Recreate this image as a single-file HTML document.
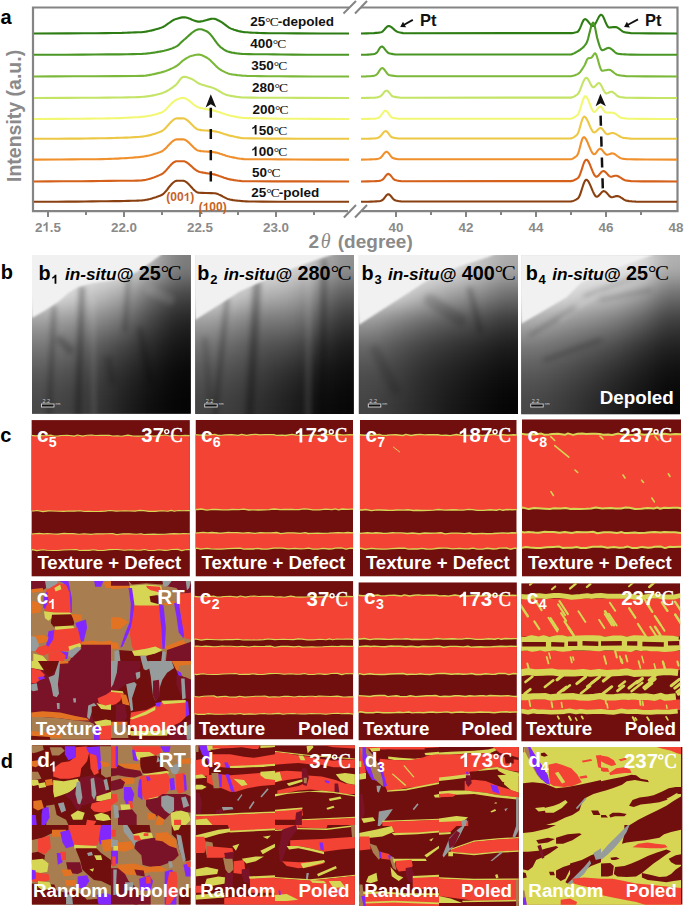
<!DOCTYPE html>
<html><head><meta charset="utf-8"><style>
*{margin:0;padding:0}
html,body{width:685px;height:906px;background:#fff;overflow:hidden}
svg{position:absolute;left:0;top:0}
text{font-family:"Liberation Sans",sans-serif}
.tl{font-size:13.4px;font-weight:bold;fill:#8a8a8a;text-anchor:middle}
.lab{font-size:13.5px;font-weight:bold;fill:#111}
.deg{font-family:"Liberation Serif",serif;font-weight:normal;letter-spacing:-1px}
.pt{font-size:16.5px;font-weight:bold;fill:#111}
.hkl{font-size:12px;font-weight:bold;fill:#c8621f}
.xt{font-size:19px;font-weight:bold;fill:#8a8a8a}
.th{font-family:"Liberation Serif",serif;font-style:italic;font-weight:normal;font-size:20px}
.yt{font-size:19.5px;font-weight:bold;fill:#8a8a8a}
.pl{font-size:20px;font-weight:bold;fill:#000}

.bl{font-size:19.8px;font-weight:bold;fill:#000}
.bsub{font-size:13px}
.bit{font-size:17.2px;font-style:italic}
.deg2{font-family:"Liberation Serif",serif;font-weight:normal;font-size:21px;letter-spacing:-1.5px}
.wl{font-size:18.8px;font-weight:bold;fill:#fff}
.wsub{font-size:12.5px}
.deg3{font-family:"Liberation Serif",serif;font-weight:normal;font-size:19px;letter-spacing:-1.5px}
</style></head>
<body>
<svg width="685" height="906" viewBox="0 0 685 906">
<defs><filter id="blur1" x="-5%" y="-5%" width="110%" height="110%" color-interpolation-filters="sRGB"><feGaussianBlur stdDeviation="0.8"/></filter><filter id="blur3" x="-50%" y="-50%" width="200%" height="200%"><feGaussianBlur stdDeviation="3"/></filter><clipPath id="cpb1"><rect x="32" y="255" width="158.8" height="158.8"/></clipPath><clipPath id="cpb2"><rect x="195.2" y="255" width="158.6" height="159.0"/></clipPath><clipPath id="cpb3"><rect x="358.8" y="255" width="159.2" height="159.0"/></clipPath><clipPath id="cpb4"><rect x="521.2" y="255.3" width="158.8" height="158.9"/></clipPath><clipPath id="cpc5"><rect x="31.4" y="420.1" width="158.5" height="156.5"/></clipPath><clipPath id="cpc6"><rect x="195.5" y="420" width="157.6" height="156.6"/></clipPath><clipPath id="cpc7"><rect x="359.9" y="420" width="156.8" height="156.6"/></clipPath><clipPath id="cpc8"><rect x="521.9" y="419.3" width="159.1" height="157.3"/></clipPath><clipPath id="cpc1"><rect x="31.2" y="581" width="159.8" height="158.7"/></clipPath><clipPath id="cpc2"><rect x="194.3" y="581.1" width="159.0" height="158.5"/></clipPath><clipPath id="cpc3"><rect x="358.4" y="582.3" width="158.5" height="158.1"/></clipPath><clipPath id="cpc4"><rect x="521.2" y="583.2" width="159.0" height="158.4"/></clipPath><clipPath id="cpd1"><rect x="31.9" y="745.3" width="158.6" height="159.2"/></clipPath><clipPath id="cpd2"><rect x="195.7" y="745.5" width="159.2" height="159.0"/></clipPath><clipPath id="cpd3"><rect x="359.3" y="747.1" width="159.4" height="158.9"/></clipPath><clipPath id="cpd4"><rect x="523" y="746.9" width="159.6" height="157.8"/></clipPath><filter id="tblur" filterUnits="userSpaceOnUse" x="0" y="240" width="685" height="190" color-interpolation-filters="sRGB"><feGaussianBlur stdDeviation="2.5"/></filter><filter id="bblur" x="-20%" y="-20%" width="140%" height="140%" color-interpolation-filters="sRGB"><feGaussianBlur stdDeviation="11"/></filter></defs>
<path d="M349,7.5 H33 V211.2 H348" fill="none" stroke="#848484" stroke-width="2.2"/>
<path d="M361,7.5 H677.5 V211.2 H362" fill="none" stroke="#848484" stroke-width="2.2"/>
<line x1="343.5" y1="13.5" x2="356" y2="1" stroke="#848484" stroke-width="2"/>
<line x1="355" y1="13.5" x2="367" y2="1" stroke="#848484" stroke-width="2"/>
<line x1="343.9" y1="217.5" x2="356" y2="205" stroke="#848484" stroke-width="2"/>
<line x1="355" y1="217.5" x2="367" y2="205" stroke="#848484" stroke-width="2"/>
<line x1="48.0" y1="211" x2="48.0" y2="217" stroke="#848484" stroke-width="2"/>
<line x1="124.0" y1="211" x2="124.0" y2="217" stroke="#848484" stroke-width="2"/>
<line x1="200.0" y1="211" x2="200.0" y2="217" stroke="#848484" stroke-width="2"/>
<line x1="276.0" y1="211" x2="276.0" y2="217" stroke="#848484" stroke-width="2"/>
<line x1="86.0" y1="211" x2="86.0" y2="215" stroke="#848484" stroke-width="2"/>
<line x1="162.0" y1="211" x2="162.0" y2="215" stroke="#848484" stroke-width="2"/>
<line x1="238.0" y1="211" x2="238.0" y2="215" stroke="#848484" stroke-width="2"/>
<line x1="314.0" y1="211" x2="314.0" y2="215" stroke="#848484" stroke-width="2"/>
<line x1="396.0" y1="211" x2="396.0" y2="217" stroke="#848484" stroke-width="2"/>
<line x1="466.0" y1="211" x2="466.0" y2="217" stroke="#848484" stroke-width="2"/>
<line x1="536.0" y1="211" x2="536.0" y2="217" stroke="#848484" stroke-width="2"/>
<line x1="606.0" y1="211" x2="606.0" y2="217" stroke="#848484" stroke-width="2"/>
<line x1="431.0" y1="211" x2="431.0" y2="215" stroke="#848484" stroke-width="2"/>
<line x1="501.0" y1="211" x2="501.0" y2="215" stroke="#848484" stroke-width="2"/>
<line x1="571.0" y1="211" x2="571.0" y2="215" stroke="#848484" stroke-width="2"/>
<line x1="641.0" y1="211" x2="641.0" y2="215" stroke="#848484" stroke-width="2"/>
<text x="34.96" y="231.5"  style="font-size:13.4px;font-weight:bold;fill:#8a8a8a">2 .5</text><path d="M800,0H520V1010Q360,870 150,800V1050Q270,1090 400,1190Q520,1290 560,1429H800Z" transform="translate(42.41,231.50) scale(0.00654,-0.00654)" fill="#8a8a8a"/>
<text x="124.0" y="231.5" class="tl">22.0</text>
<text x="200.0" y="231.5" class="tl">22.5</text>
<text x="276.0" y="231.5" class="tl">23.0</text>
<text x="396.0" y="231.5" class="tl">40</text>
<text x="466.0" y="231.5" class="tl">42</text>
<text x="536.0" y="231.5" class="tl">44</text>
<text x="606.0" y="231.5" class="tl">46</text>
<text x="676.0" y="231.5" class="tl">48</text>
<polyline points="34.0,33.5 68.0,33.4 84.0,33.3 96.0,33.2 106.0,33.1 113.0,33.0 118.0,33.0 122.0,32.9 126.0,32.7 129.0,32.6 132.0,32.5 135.0,32.4 138.0,32.3 140.0,32.2 142.0,32.1 143.0,32.0 144.0,31.9 145.0,31.7 146.0,31.6 147.0,31.4 148.0,31.2 149.0,31.0 150.0,30.8 151.0,30.6 152.0,30.4 153.0,30.1 154.0,29.9 155.0,29.6 156.0,29.3 157.0,29.0 158.0,28.7 159.0,28.4 160.0,28.1 161.0,27.8 162.0,27.4 163.0,27.0 164.0,26.4 165.0,25.8 166.0,25.1 167.0,24.4 168.0,23.7 169.0,23.0 170.0,22.3 171.0,21.6 172.0,20.9 173.0,20.3 174.0,19.8 175.0,19.4 176.0,19.0 177.0,18.7 178.0,18.4 179.0,18.1 180.0,17.9 181.0,17.6 182.0,17.4 183.0,17.3 185.0,17.4 186.0,17.5 187.0,17.8 188.0,18.1 189.0,18.4 190.0,18.8 191.0,19.2 192.0,19.7 193.0,20.1 194.0,20.5 195.0,20.9 196.0,21.1 197.0,21.4 198.0,21.6 200.0,21.6 201.0,21.4 202.0,21.3 203.0,21.1 204.0,20.8 205.0,20.5 206.0,20.2 207.0,19.9 208.0,19.6 209.0,19.4 210.0,19.1 211.0,18.9 212.0,18.8 213.0,18.7 214.0,18.7 215.0,18.9 216.0,19.2 217.0,19.7 218.0,20.2 219.0,20.7 220.0,21.3 221.0,21.8 222.0,22.4 223.0,23.1 224.0,23.9 225.0,24.6 226.0,25.4 227.0,26.2 228.0,26.9 229.0,27.6 230.0,28.1 231.0,28.6 232.0,29.0 233.0,29.3 234.0,29.7 235.0,30.0 236.0,30.4 237.0,30.6 238.0,30.9 239.0,31.2 240.0,31.4 241.0,31.6 242.0,31.8 243.0,32.0 244.0,32.1 245.0,32.2 247.0,32.3 249.0,32.5 251.0,32.6 253.0,32.7 255.0,32.8 257.0,32.9 260.0,33.0 264.0,33.1 270.0,33.2 282.0,33.3 297.0,33.4 322.0,33.5 349.0,33.5" fill="none" stroke="#2e7d14" stroke-width="2.1" stroke-linejoin="round"/>
<polyline points="361.0,33.5 367.0,33.4 370.0,33.3 372.0,33.2 374.0,33.1 376.0,32.9 377.0,32.9 378.0,32.7 379.0,32.6 380.0,32.5 381.0,32.3 382.0,31.9 383.0,31.1 384.0,30.1 385.0,28.8 386.0,27.7 387.0,26.7 388.0,26.1 389.0,26.0 390.0,26.3 391.0,26.9 392.0,27.6 393.0,28.5 394.0,29.4 395.0,30.3 396.0,31.0 397.0,31.6 398.0,32.0 399.0,32.3 400.0,32.5 401.0,32.7 402.0,32.9 403.0,33.1 404.0,33.2 572.0,33.1 573.0,33.0 574.0,32.8 575.0,32.5 576.0,32.3 577.0,32.0 578.0,31.5 579.0,30.2 580.0,28.1 581.0,25.8 582.0,23.3 583.0,21.2 584.0,19.7 585.0,19.1 586.0,19.4 587.0,20.2 588.0,21.3 589.0,22.6 590.0,23.9 591.0,25.0 592.0,25.8 593.0,26.1 594.0,25.6 595.0,24.4 596.0,22.6 597.0,20.6 598.0,18.6 599.0,16.7 600.0,15.4 601.0,14.7 602.0,15.1 603.0,16.4 604.0,18.5 605.0,20.9 606.0,23.3 607.0,25.4 608.0,26.9 609.0,27.5 610.0,27.5 611.0,27.4 612.0,27.3 613.0,27.1 614.0,27.1 615.0,27.0 616.0,27.1 617.0,27.4 618.0,28.0 619.0,28.7 620.0,29.4 621.0,30.2 622.0,31.0 623.0,31.6 624.0,32.1 625.0,32.3 626.0,32.5 627.0,32.6 628.0,32.8 629.0,32.9 630.0,33.0 631.0,33.1 633.0,33.2 638.0,33.3 649.0,33.4 677.0,33.5" fill="none" stroke="#2e7d14" stroke-width="2.1" stroke-linejoin="round"/>
<polyline points="34.0,54.8 66.0,54.7 82.0,54.6 95.0,54.5 108.0,54.4 119.0,54.4 127.0,54.2 133.0,54.1 138.0,54.0 142.0,53.9 144.0,53.8 145.0,53.7 146.0,53.6 147.0,53.5 148.0,53.4 149.0,53.3 150.0,53.2 151.0,53.0 152.0,52.9 153.0,52.8 154.0,52.6 155.0,52.5 156.0,52.3 157.0,52.1 158.0,51.9 159.0,51.8 160.0,51.6 161.0,51.4 162.0,51.2 163.0,51.0 164.0,50.8 165.0,50.5 166.0,50.3 167.0,50.0 168.0,49.7 169.0,49.4 170.0,49.1 171.0,48.7 172.0,48.4 173.0,48.0 174.0,47.5 175.0,47.1 176.0,46.6 177.0,46.1 178.0,45.4 179.0,44.6 180.0,43.6 181.0,42.6 182.0,41.6 183.0,40.7 184.0,39.8 185.0,39.0 186.0,38.1 187.0,37.2 188.0,36.3 189.0,35.4 190.0,34.5 191.0,33.6 192.0,32.8 193.0,32.0 194.0,31.3 195.0,30.7 196.0,30.1 197.0,29.7 198.0,29.4 199.0,29.2 200.0,29.2 201.0,29.3 202.0,29.5 203.0,29.8 204.0,30.2 205.0,30.6 206.0,31.0 207.0,31.5 208.0,32.1 209.0,33.0 210.0,34.0 211.0,35.1 212.0,36.4 213.0,37.7 214.0,39.1 215.0,40.5 216.0,41.8 217.0,43.2 218.0,44.5 219.0,45.6 220.0,46.6 221.0,47.5 222.0,48.2 223.0,48.9 224.0,49.6 225.0,50.2 226.0,50.7 227.0,51.2 228.0,51.6 229.0,51.9 230.0,52.1 231.0,52.4 232.0,52.6 233.0,52.7 234.0,52.9 235.0,53.1 236.0,53.2 237.0,53.4 238.0,53.5 239.0,53.6 240.0,53.7 242.0,53.9 244.0,54.0 249.0,54.1 254.0,54.2 260.0,54.2 267.0,54.3 274.0,54.4 282.0,54.5 293.0,54.6 307.0,54.7 332.0,54.8 349.0,54.8" fill="none" stroke="#4a9624" stroke-width="2.1" stroke-linejoin="round"/>
<polyline points="361.0,54.8 366.0,54.7 368.0,54.6 370.0,54.5 371.0,54.4 372.0,54.3 373.0,54.2 374.0,54.0 375.0,53.7 376.0,53.3 377.0,52.5 378.0,51.0 379.0,49.3 380.0,47.7 381.0,46.7 382.0,46.5 383.0,47.1 384.0,48.1 385.0,49.3 386.0,50.6 387.0,51.8 388.0,52.8 389.0,53.3 390.0,53.5 391.0,53.7 392.0,53.9 393.0,54.1 394.0,54.2 395.0,54.4 397.0,54.5 570.0,54.5 571.0,54.4 572.0,54.2 573.0,53.8 574.0,53.4 575.0,52.8 576.0,52.3 577.0,51.7 578.0,51.1 579.0,50.5 580.0,49.9 581.0,49.1 582.0,48.3 583.0,47.4 584.0,46.4 585.0,45.2 586.0,43.9 587.0,42.1 588.0,39.0 589.0,35.1 590.0,30.9 591.0,27.1 592.0,24.1 593.0,22.6 594.0,23.4 595.0,27.1 596.0,32.3 597.0,37.3 598.0,40.9 599.0,44.1 600.0,47.1 601.0,49.3 602.0,50.2 603.0,50.1 604.0,49.7 605.0,49.2 606.0,48.7 607.0,48.3 608.0,48.0 609.0,47.9 610.0,48.2 611.0,48.8 612.0,49.5 613.0,50.4 614.0,51.3 615.0,52.2 616.0,53.0 617.0,53.5 618.0,53.7 619.0,53.9 620.0,54.0 621.0,54.1 622.0,54.2 623.0,54.3 625.0,54.4 627.0,54.5 631.0,54.6 642.0,54.7 663.0,54.8 677.0,54.8" fill="none" stroke="#4a9624" stroke-width="2.1" stroke-linejoin="round"/>
<polyline points="34.0,76.5 54.0,76.4 74.0,76.3 93.0,76.2 116.0,76.1 135.0,76.0 142.0,75.9 143.0,75.9 144.0,75.8 145.0,75.7 146.0,75.6 147.0,75.4 148.0,75.3 149.0,75.1 150.0,74.9 151.0,74.7 152.0,74.5 153.0,74.3 154.0,74.1 155.0,73.9 156.0,73.6 157.0,73.4 158.0,73.1 159.0,72.9 160.0,72.7 161.0,72.4 162.0,72.1 163.0,71.9 164.0,71.6 165.0,71.2 166.0,70.9 167.0,70.5 168.0,70.1 169.0,69.7 170.0,69.3 171.0,68.8 172.0,68.4 173.0,67.9 174.0,67.4 175.0,66.8 176.0,66.3 177.0,65.7 178.0,64.9 179.0,64.1 180.0,63.2 181.0,62.3 182.0,61.4 183.0,60.5 184.0,59.8 185.0,59.1 186.0,58.5 187.0,57.9 188.0,57.4 189.0,56.8 190.0,56.4 191.0,56.0 192.0,55.7 193.0,55.5 194.0,55.2 195.0,55.0 196.0,54.8 197.0,54.7 198.0,54.6 199.0,54.6 200.0,54.7 201.0,55.0 202.0,55.3 203.0,55.8 204.0,56.2 205.0,56.8 206.0,57.3 207.0,57.8 208.0,58.5 209.0,59.2 210.0,60.0 211.0,61.0 212.0,62.0 213.0,63.0 214.0,64.0 215.0,65.1 216.0,66.1 217.0,67.0 218.0,67.9 219.0,68.7 220.0,69.4 221.0,70.0 222.0,70.6 223.0,71.1 224.0,71.6 225.0,72.1 226.0,72.6 227.0,73.0 228.0,73.4 229.0,73.7 230.0,74.0 231.0,74.2 232.0,74.4 233.0,74.5 234.0,74.7 235.0,74.8 236.0,74.9 237.0,75.1 238.0,75.2 239.0,75.3 240.0,75.4 241.0,75.5 242.0,75.6 243.0,75.7 245.0,75.8 247.0,75.9 251.0,76.0 259.0,76.1 267.0,76.2 278.0,76.3 292.0,76.4 312.0,76.5 349.0,76.5" fill="none" stroke="#7cb83a" stroke-width="2.1" stroke-linejoin="round"/>
<polyline points="361.0,76.5 366.0,76.4 368.0,76.3 370.0,76.2 372.0,76.0 373.0,75.9 374.0,75.7 375.0,75.4 376.0,75.0 377.0,74.2 378.0,73.0 379.0,71.4 380.0,69.9 381.0,68.7 382.0,68.1 383.0,68.3 384.0,69.2 385.0,70.5 386.0,71.9 387.0,73.3 388.0,74.4 389.0,75.0 390.0,75.2 391.0,75.5 392.0,75.6 393.0,75.8 394.0,75.9 395.0,76.0 397.0,76.2 571.0,76.2 572.0,76.0 573.0,75.8 574.0,75.5 575.0,75.2 576.0,74.8 577.0,74.4 578.0,73.9 579.0,73.2 580.0,72.1 581.0,70.8 582.0,69.3 583.0,67.8 584.0,66.2 585.0,64.5 586.0,62.0 587.0,59.7 588.0,58.4 589.0,58.1 590.0,58.0 591.0,57.8 592.0,57.2 593.0,55.7 594.0,54.0 595.0,53.2 596.0,54.2 597.0,56.7 598.0,60.1 599.0,63.8 600.0,67.2 601.0,69.7 602.0,70.7 603.0,70.7 604.0,70.5 605.0,70.3 606.0,70.2 607.0,70.0 608.0,69.8 609.0,69.8 610.0,70.0 611.0,70.4 612.0,71.1 613.0,71.9 614.0,72.7 615.0,73.5 616.0,74.2 617.0,74.8 618.0,75.0 619.0,75.2 620.0,75.4 621.0,75.5 622.0,75.7 623.0,75.8 624.0,75.9 625.0,76.0 626.0,76.1 628.0,76.2 633.0,76.3 645.0,76.4 677.0,76.5" fill="none" stroke="#7cb83a" stroke-width="2.1" stroke-linejoin="round"/>
<polyline points="34.0,98.0 67.0,97.9 83.0,97.8 96.0,97.7 107.0,97.6 116.0,97.5 122.0,97.5 127.0,97.4 131.0,97.3 135.0,97.2 138.0,97.1 141.0,97.0 143.0,96.8 144.0,96.7 145.0,96.6 146.0,96.5 147.0,96.4 148.0,96.3 149.0,96.1 150.0,96.0 151.0,95.8 152.0,95.6 153.0,95.4 154.0,95.2 155.0,95.0 156.0,94.7 157.0,94.5 158.0,94.3 159.0,94.0 160.0,93.8 161.0,93.5 162.0,93.2 163.0,92.8 164.0,92.4 165.0,92.0 166.0,91.5 167.0,91.0 168.0,90.4 169.0,89.8 170.0,89.1 171.0,88.5 172.0,87.8 173.0,87.1 174.0,86.3 175.0,85.6 176.0,84.7 177.0,83.6 178.0,82.3 179.0,80.9 180.0,79.6 181.0,78.5 182.0,77.5 183.0,77.0 184.0,76.8 185.0,76.9 186.0,77.0 187.0,77.3 188.0,77.6 189.0,78.0 190.0,78.3 191.0,78.7 192.0,79.1 193.0,79.7 194.0,80.3 195.0,81.0 196.0,81.7 197.0,82.4 198.0,83.0 199.0,83.5 200.0,84.0 201.0,84.3 202.0,84.7 203.0,85.0 204.0,85.3 205.0,85.6 206.0,85.9 207.0,86.2 208.0,86.4 209.0,86.7 210.0,87.0 211.0,87.3 212.0,87.6 213.0,88.0 214.0,88.4 215.0,88.8 216.0,89.3 217.0,89.9 218.0,90.4 219.0,91.0 220.0,91.6 221.0,92.2 222.0,92.8 223.0,93.4 224.0,93.9 225.0,94.3 226.0,94.7 227.0,95.0 228.0,95.3 229.0,95.5 230.0,95.7 231.0,95.9 232.0,96.1 233.0,96.3 234.0,96.4 235.0,96.6 236.0,96.8 237.0,96.9 238.0,97.0 239.0,97.1 240.0,97.2 242.0,97.4 244.0,97.5 251.0,97.6 259.0,97.7 269.0,97.7 282.0,97.8 300.0,97.9 349.0,98.0" fill="none" stroke="#c4e466" stroke-width="2.1" stroke-linejoin="round"/>
<polyline points="361.0,98.0 368.0,97.9 371.0,97.8 373.0,97.7 375.0,97.6 376.0,97.5 377.0,97.4 378.0,97.2 379.0,96.8 380.0,96.5 381.0,95.9 382.0,94.8 383.0,93.6 384.0,92.3 385.0,91.3 386.0,90.7 387.0,90.7 388.0,91.3 389.0,92.4 390.0,93.7 391.0,94.9 392.0,96.0 393.0,96.5 394.0,96.7 395.0,96.9 396.0,97.1 397.0,97.3 398.0,97.4 399.0,97.5 401.0,97.7 571.0,97.6 572.0,97.4 573.0,97.0 574.0,96.6 575.0,96.0 576.0,95.4 577.0,94.8 578.0,93.9 579.0,92.4 580.0,90.2 581.0,87.7 582.0,85.0 583.0,82.4 584.0,80.2 585.0,78.6 586.0,77.8 587.0,78.0 588.0,79.1 589.0,80.9 590.0,82.9 591.0,84.9 592.0,86.4 593.0,87.2 594.0,87.1 595.0,86.3 596.0,85.3 597.0,84.2 598.0,83.3 599.0,83.0 600.0,83.6 601.0,85.0 602.0,86.9 603.0,89.0 604.0,91.0 605.0,92.5 606.0,93.4 607.0,93.4 608.0,93.0 609.0,92.5 610.0,92.0 611.0,91.7 612.0,91.8 613.0,92.3 614.0,93.0 615.0,93.8 616.0,94.8 617.0,95.6 618.0,96.3 619.0,96.8 620.0,97.1 621.0,97.2 622.0,97.3 623.0,97.4 624.0,97.5 625.0,97.6 627.0,97.7 630.0,97.8 640.0,97.9 659.0,98.0 677.0,98.0" fill="none" stroke="#c4e466" stroke-width="2.1" stroke-linejoin="round"/>
<polyline points="34.0,119.0 60.0,118.9 72.0,118.8 81.0,118.7 89.0,118.6 96.0,118.5 103.0,118.5 108.0,118.4 112.0,118.3 116.0,118.2 119.0,118.1 122.0,118.0 125.0,117.8 127.0,117.7 129.0,117.6 131.0,117.5 133.0,117.4 135.0,117.3 137.0,117.2 139.0,117.1 141.0,116.9 142.0,116.8 143.0,116.7 144.0,116.6 145.0,116.5 146.0,116.3 147.0,116.2 148.0,116.0 149.0,115.8 150.0,115.7 151.0,115.5 152.0,115.2 153.0,115.0 154.0,114.8 155.0,114.5 156.0,114.2 157.0,114.0 158.0,113.7 159.0,113.3 160.0,113.0 161.0,112.7 162.0,112.3 163.0,111.7 164.0,111.0 165.0,110.2 166.0,109.2 167.0,108.2 168.0,107.2 169.0,106.1 170.0,105.1 171.0,104.0 172.0,103.0 173.0,102.1 174.0,101.3 175.0,100.6 176.0,100.0 177.0,99.5 178.0,99.1 179.0,98.8 180.0,98.4 181.0,98.1 182.0,98.0 183.0,97.9 184.0,98.0 185.0,98.3 186.0,98.7 187.0,99.3 188.0,99.9 189.0,100.7 190.0,101.4 191.0,102.3 192.0,103.1 193.0,104.0 194.0,104.8 195.0,105.5 196.0,106.2 197.0,106.8 198.0,107.2 199.0,107.6 200.0,107.9 201.0,108.1 202.0,108.3 203.0,108.5 204.0,108.7 205.0,108.9 206.0,109.1 207.0,109.2 208.0,109.4 209.0,109.6 210.0,109.8 211.0,109.9 212.0,110.1 213.0,110.4 214.0,110.6 215.0,110.9 216.0,111.2 217.0,111.5 218.0,111.8 219.0,112.1 220.0,112.4 221.0,112.8 222.0,113.1 223.0,113.5 224.0,113.8 225.0,114.1 226.0,114.5 227.0,114.8 228.0,115.1 229.0,115.3 230.0,115.6 231.0,115.8 232.0,116.0 233.0,116.2 234.0,116.4 235.0,116.6 236.0,116.8 237.0,117.0 238.0,117.2 239.0,117.4 240.0,117.5 241.0,117.7 242.0,117.8 243.0,117.9 245.0,118.0 249.0,118.1 253.0,118.2 258.0,118.3 263.0,118.4 269.0,118.5 275.0,118.6 282.0,118.7 290.0,118.7 300.0,118.8 314.0,118.9 349.0,119.0" fill="none" stroke="#f2f874" stroke-width="2.1" stroke-linejoin="round"/>
<polyline points="361.0,119.0 368.0,118.9 371.0,118.8 373.0,118.7 375.0,118.6 376.0,118.5 377.0,118.3 378.0,118.0 379.0,117.5 380.0,116.7 381.0,115.5 382.0,114.0 383.0,112.6 384.0,111.4 385.0,110.7 386.0,110.7 387.0,111.5 388.0,112.7 389.0,114.2 390.0,115.7 391.0,116.9 392.0,117.5 393.0,117.8 394.0,118.0 395.0,118.2 396.0,118.4 397.0,118.5 398.0,118.6 400.0,118.7 570.0,118.7 571.0,118.6 572.0,118.4 573.0,118.0 574.0,117.5 575.0,116.9 576.0,116.2 577.0,115.4 578.0,114.4 579.0,112.4 580.0,109.6 581.0,106.3 582.0,102.9 583.0,99.9 584.0,97.5 585.0,96.2 586.0,96.3 587.0,97.5 588.0,99.4 589.0,101.9 590.0,104.5 591.0,107.2 592.0,109.4 593.0,111.1 594.0,111.9 595.0,111.7 596.0,110.8 597.0,109.6 598.0,108.3 599.0,107.2 600.0,106.6 601.0,106.8 602.0,107.8 603.0,109.3 604.0,110.8 605.0,112.0 606.0,112.5 609.0,112.6 613.0,112.8 614.0,113.0 615.0,113.6 616.0,114.2 617.0,115.0 618.0,115.8 619.0,116.6 620.0,117.2 621.0,117.7 622.0,118.0 623.0,118.1 624.0,118.3 625.0,118.4 626.0,118.5 627.0,118.6 629.0,118.7 632.0,118.8 642.0,118.9 660.0,119.0 677.0,119.0" fill="none" stroke="#f2f874" stroke-width="2.1" stroke-linejoin="round"/>
<polyline points="34.0,138.8 58.0,138.7 69.0,138.6 79.0,138.6 86.0,138.5 93.0,138.4 100.0,138.3 105.0,138.2 110.0,138.1 114.0,138.0 117.0,137.9 120.0,137.8 122.0,137.8 125.0,137.6 127.0,137.6 129.0,137.5 131.0,137.4 133.0,137.2 135.0,137.1 137.0,137.0 139.0,136.9 140.0,136.8 141.0,136.7 142.0,136.6 143.0,136.5 144.0,136.3 145.0,136.2 146.0,136.0 147.0,135.8 148.0,135.6 149.0,135.4 150.0,135.1 151.0,134.9 152.0,134.6 153.0,134.3 154.0,134.0 155.0,133.7 156.0,133.3 157.0,133.0 158.0,132.6 159.0,132.3 160.0,131.9 161.0,131.5 162.0,131.0 163.0,130.3 164.0,129.5 165.0,128.6 166.0,127.5 167.0,126.4 168.0,125.3 169.0,124.2 170.0,123.0 171.0,122.0 172.0,121.0 173.0,120.2 174.0,119.4 175.0,118.9 176.0,118.5 177.0,118.4 183.0,118.4 184.0,118.5 185.0,118.8 186.0,119.4 187.0,120.1 188.0,120.9 189.0,121.8 190.0,122.8 191.0,123.8 192.0,124.8 193.0,125.8 194.0,126.8 195.0,127.7 196.0,128.4 197.0,129.1 198.0,129.5 199.0,129.8 200.0,129.9 201.0,130.1 202.0,130.2 203.0,130.3 204.0,130.4 206.0,130.5 208.0,130.6 210.0,130.8 211.0,130.9 212.0,131.0 213.0,131.1 214.0,131.2 215.0,131.4 216.0,131.6 217.0,131.8 218.0,132.0 219.0,132.3 220.0,132.6 221.0,132.9 222.0,133.2 223.0,133.6 224.0,133.9 225.0,134.2 226.0,134.5 227.0,134.8 228.0,135.2 229.0,135.4 230.0,135.7 231.0,135.9 232.0,136.1 233.0,136.3 234.0,136.6 235.0,136.8 236.0,137.0 237.0,137.2 238.0,137.4 239.0,137.6 240.0,137.8 241.0,138.0 242.0,138.1 243.0,138.2 245.0,138.3 253.0,138.4 261.0,138.5 270.0,138.6 283.0,138.6 299.0,138.7 335.0,138.8 349.0,138.8" fill="none" stroke="#ecc844" stroke-width="2.1" stroke-linejoin="round"/>
<polyline points="361.0,138.8 368.0,138.7 371.0,138.6 373.0,138.5 375.0,138.4 376.0,138.3 377.0,138.1 378.0,137.8 379.0,137.3 380.0,136.6 381.0,135.5 382.0,134.3 383.0,133.0 384.0,131.9 385.0,131.3 386.0,131.1 387.0,131.7 388.0,132.8 389.0,134.2 390.0,135.6 391.0,136.7 392.0,137.3 393.0,137.6 394.0,137.8 395.0,138.0 396.0,138.2 397.0,138.3 398.0,138.4 400.0,138.5 570.0,138.5 571.0,138.4 572.0,138.1 573.0,137.7 574.0,137.1 575.0,136.4 576.0,135.7 577.0,134.8 578.0,133.2 579.0,130.5 580.0,127.1 581.0,123.5 582.0,120.2 583.0,117.8 584.0,116.6 585.0,116.9 586.0,118.0 587.0,119.6 588.0,121.7 589.0,124.0 590.0,126.4 591.0,128.6 592.0,130.4 593.0,131.8 594.0,132.4 595.0,132.2 596.0,131.6 597.0,130.6 598.0,129.6 599.0,128.7 600.0,128.1 601.0,128.1 602.0,128.7 603.0,129.8 604.0,131.2 605.0,132.5 606.0,133.6 607.0,134.2 608.0,134.1 609.0,133.9 610.0,133.6 611.0,133.3 612.0,133.0 613.0,133.0 614.0,133.2 615.0,133.6 616.0,134.1 617.0,134.6 618.0,135.3 619.0,135.9 620.0,136.5 621.0,137.0 622.0,137.4 623.0,137.7 624.0,137.9 625.0,138.0 626.0,138.1 627.0,138.3 628.0,138.4 629.0,138.5 631.0,138.6 639.0,138.7 652.0,138.8 677.0,138.8" fill="none" stroke="#ecc844" stroke-width="2.1" stroke-linejoin="round"/>
<polyline points="34.0,159.6 61.0,159.5 72.0,159.4 82.0,159.3 89.0,159.2 96.0,159.2 102.0,159.1 106.0,159.0 110.0,158.9 113.0,158.8 116.0,158.6 118.0,158.6 120.0,158.4 122.0,158.3 124.0,158.2 126.0,158.1 128.0,158.0 130.0,157.8 131.0,157.8 132.0,157.7 133.0,157.6 134.0,157.5 135.0,157.4 136.0,157.4 137.0,157.3 138.0,157.2 139.0,157.1 140.0,157.0 141.0,156.9 142.0,156.8 143.0,156.6 144.0,156.5 145.0,156.3 146.0,156.1 147.0,155.9 148.0,155.7 149.0,155.5 150.0,155.2 151.0,155.0 152.0,154.7 153.0,154.4 154.0,154.1 155.0,153.8 156.0,153.5 157.0,153.2 158.0,152.8 159.0,152.5 160.0,152.1 161.0,151.7 162.0,151.2 163.0,150.6 164.0,149.8 165.0,148.9 166.0,147.9 167.0,146.9 168.0,145.8 169.0,144.8 170.0,143.7 171.0,142.7 172.0,141.8 173.0,141.0 174.0,140.4 175.0,139.8 176.0,139.5 177.0,139.4 183.0,139.4 184.0,139.5 185.0,139.8 186.0,140.4 187.0,141.1 188.0,141.9 189.0,142.8 190.0,143.8 191.0,144.8 192.0,145.8 193.0,146.8 194.0,147.8 195.0,148.7 196.0,149.4 197.0,150.1 198.0,150.5 199.0,150.8 200.0,150.9 201.0,151.1 202.0,151.2 203.0,151.3 204.0,151.4 206.0,151.5 208.0,151.6 210.0,151.8 211.0,151.9 212.0,152.0 213.0,152.1 214.0,152.2 215.0,152.4 216.0,152.6 217.0,152.8 218.0,153.1 219.0,153.3 220.0,153.7 221.0,154.0 222.0,154.3 223.0,154.7 224.0,155.0 225.0,155.3 226.0,155.7 227.0,156.0 228.0,156.3 229.0,156.5 230.0,156.8 231.0,157.0 232.0,157.2 233.0,157.4 234.0,157.6 235.0,157.8 236.0,158.0 237.0,158.2 238.0,158.4 239.0,158.5 240.0,158.7 241.0,158.8 242.0,158.9 244.0,159.1 249.0,159.2 258.0,159.2 268.0,159.3 280.0,159.4 294.0,159.5 320.0,159.6 349.0,159.6" fill="none" stroke="#f0902c" stroke-width="2.1" stroke-linejoin="round"/>
<polyline points="361.0,159.6 368.0,159.5 371.0,159.4 373.0,159.3 375.0,159.2 376.0,159.1 377.0,159.0 378.0,158.8 379.0,158.5 380.0,158.1 381.0,157.4 382.0,156.3 383.0,154.9 384.0,153.6 385.0,152.5 386.0,151.8 387.0,151.8 388.0,152.5 389.0,153.6 390.0,155.0 391.0,156.4 392.0,157.5 393.0,158.1 394.0,158.4 395.0,158.6 396.0,158.9 397.0,159.0 398.0,159.2 399.0,159.3 570.0,159.3 571.0,159.2 572.0,158.9 573.0,158.5 574.0,157.9 575.0,157.2 576.0,156.5 577.0,155.6 578.0,153.8 579.0,150.8 580.0,147.0 581.0,143.1 582.0,139.8 583.0,137.6 584.0,137.1 585.0,137.8 586.0,139.2 587.0,141.1 588.0,143.4 589.0,145.8 590.0,148.2 591.0,150.5 592.0,152.3 593.0,153.7 594.0,154.3 595.0,154.0 596.0,153.0 597.0,151.6 598.0,150.2 599.0,149.1 600.0,148.7 601.0,149.0 602.0,149.9 603.0,151.1 604.0,152.3 605.0,153.5 606.0,154.4 607.0,154.7 608.0,154.6 609.0,154.3 610.0,153.9 611.0,153.6 612.0,153.4 613.0,153.5 614.0,153.8 615.0,154.3 616.0,155.0 617.0,155.8 618.0,156.5 619.0,157.2 620.0,157.9 621.0,158.3 622.0,158.6 623.0,158.7 624.0,158.9 625.0,159.0 626.0,159.1 627.0,159.2 628.0,159.2 630.0,159.3 635.0,159.4 646.0,159.5 677.0,159.6" fill="none" stroke="#f0902c" stroke-width="2.1" stroke-linejoin="round"/>
<polyline points="34.0,181.5 49.0,181.4 62.0,181.3 72.0,181.2 82.0,181.2 92.0,181.1 100.0,181.0 109.0,180.9 120.0,180.8 127.0,180.8 133.0,180.7 137.0,180.6 141.0,180.5 142.0,180.4 143.0,180.3 144.0,180.1 145.0,180.0 146.0,179.8 147.0,179.5 148.0,179.3 149.0,179.0 150.0,178.7 151.0,178.4 152.0,178.1 153.0,177.7 154.0,177.4 155.0,177.0 156.0,176.6 157.0,176.2 158.0,175.8 159.0,175.4 160.0,174.9 161.0,174.5 162.0,174.0 163.0,173.3 164.0,172.4 165.0,171.4 166.0,170.4 167.0,169.3 168.0,168.1 169.0,167.0 170.0,165.9 171.0,164.8 172.0,163.8 173.0,162.9 174.0,162.2 175.0,161.7 176.0,161.3 177.0,161.2 183.0,161.2 184.0,161.3 185.0,161.6 186.0,162.0 187.0,162.6 188.0,163.3 189.0,164.1 190.0,165.0 191.0,165.9 192.0,166.8 193.0,167.7 194.0,168.6 195.0,169.4 196.0,170.2 197.0,170.8 198.0,171.3 199.0,171.7 200.0,172.0 201.0,172.2 202.0,172.4 203.0,172.6 204.0,172.8 205.0,172.9 206.0,173.1 207.0,173.2 208.0,173.4 209.0,173.5 210.0,173.7 211.0,173.8 212.0,174.0 213.0,174.2 214.0,174.4 215.0,174.6 216.0,174.9 217.0,175.2 218.0,175.5 219.0,175.9 220.0,176.2 221.0,176.6 222.0,176.9 223.0,177.3 224.0,177.7 225.0,178.0 226.0,178.3 227.0,178.7 228.0,178.9 229.0,179.2 230.0,179.4 231.0,179.6 232.0,179.8 233.0,179.9 234.0,180.1 235.0,180.2 236.0,180.4 237.0,180.5 238.0,180.7 239.0,180.8 240.0,180.9 241.0,181.0 242.0,181.1 244.0,181.2 255.0,181.3 272.0,181.4 297.0,181.4 349.0,181.5" fill="none" stroke="#d4601a" stroke-width="2.1" stroke-linejoin="round"/>
<polyline points="361.0,181.5 368.0,181.4 372.0,181.3 374.0,181.2 376.0,181.1 378.0,181.0 379.0,180.9 380.0,180.7 381.0,180.4 382.0,180.0 383.0,179.3 384.0,178.2 385.0,176.8 386.0,175.5 387.0,174.5 388.0,173.9 389.0,174.1 390.0,174.8 391.0,175.9 392.0,177.2 393.0,178.4 394.0,179.4 395.0,180.0 396.0,180.2 397.0,180.5 398.0,180.7 399.0,180.9 400.0,181.0 401.0,181.1 403.0,181.2 571.0,181.1 572.0,180.9 573.0,180.7 574.0,180.3 575.0,179.8 576.0,179.3 577.0,178.7 578.0,178.0 579.0,176.7 580.0,174.5 581.0,171.7 582.0,168.6 583.0,165.5 584.0,162.7 585.0,160.7 586.0,159.7 587.0,159.8 588.0,160.9 589.0,162.6 590.0,164.8 591.0,167.3 592.0,169.8 593.0,172.2 594.0,174.3 595.0,175.8 596.0,176.6 597.0,176.6 598.0,175.9 599.0,174.9 600.0,173.7 601.0,172.6 602.0,171.6 603.0,171.1 604.0,171.1 605.0,171.7 606.0,172.6 607.0,173.7 608.0,174.9 609.0,175.8 610.0,176.5 611.0,176.7 612.0,176.6 613.0,176.3 614.0,176.0 615.0,175.8 616.0,175.7 617.0,175.8 618.0,176.2 619.0,176.7 620.0,177.3 621.0,177.9 622.0,178.6 623.0,179.3 624.0,179.8 625.0,180.2 626.0,180.5 627.0,180.6 628.0,180.8 629.0,180.9 630.0,181.0 631.0,181.1 633.0,181.2 635.0,181.3 642.0,181.4 654.0,181.4 677.0,181.5" fill="none" stroke="#d4601a" stroke-width="2.1" stroke-linejoin="round"/>
<polyline points="34.0,201.8 57.0,201.7 67.0,201.6 77.0,201.6 85.0,201.5 92.0,201.4 100.0,201.3 107.0,201.2 114.0,201.1 120.0,201.1 124.0,201.0 128.0,200.9 132.0,200.8 135.0,200.7 138.0,200.6 140.0,200.5 142.0,200.4 143.0,200.3 144.0,200.2 145.0,200.0 146.0,199.8 147.0,199.7 148.0,199.4 149.0,199.2 150.0,199.0 151.0,198.7 152.0,198.4 153.0,198.1 154.0,197.8 155.0,197.5 156.0,197.2 157.0,196.8 158.0,196.4 159.0,196.1 160.0,195.7 161.0,195.3 162.0,194.8 163.0,194.1 164.0,193.2 165.0,192.1 166.0,191.0 167.0,189.8 168.0,188.5 169.0,187.2 170.0,186.0 171.0,184.8 172.0,183.7 173.0,182.8 174.0,182.0 175.0,181.3 176.0,180.9 177.0,180.8 183.0,180.8 184.0,180.9 185.0,181.3 186.0,181.9 187.0,182.6 188.0,183.5 189.0,184.5 190.0,185.6 191.0,186.7 192.0,187.8 193.0,188.9 194.0,189.9 195.0,190.8 196.0,191.6 197.0,192.2 198.0,192.6 199.0,192.8 202.0,192.9 206.0,193.0 211.0,193.1 214.0,193.2 215.0,193.3 216.0,193.5 217.0,193.8 218.0,194.1 219.0,194.6 220.0,195.0 221.0,195.5 222.0,196.0 223.0,196.6 224.0,197.1 225.0,197.6 226.0,198.1 227.0,198.6 228.0,199.0 229.0,199.3 230.0,199.6 231.0,199.8 232.0,199.9 233.0,200.1 234.0,200.2 235.0,200.4 236.0,200.5 237.0,200.6 238.0,200.7 239.0,200.8 240.0,200.9 241.0,201.0 242.0,201.1 244.0,201.3 246.0,201.4 249.0,201.5 262.0,201.6 279.0,201.7 301.0,201.8 349.0,201.8" fill="none" stroke="#8a4010" stroke-width="2.1" stroke-linejoin="round"/>
<polyline points="361.0,201.8 368.0,201.7 371.0,201.6 374.0,201.5 376.0,201.4 378.0,201.3 379.0,201.2 380.0,201.0 381.0,200.7 382.0,200.3 383.0,199.6 384.0,198.5 385.0,197.2 386.0,195.8 387.0,194.8 388.0,194.2 389.0,194.4 390.0,195.1 391.0,196.2 392.0,197.5 393.0,198.7 394.0,199.7 395.0,200.3 396.0,200.6 397.0,200.8 398.0,201.0 399.0,201.2 400.0,201.3 401.0,201.4 403.0,201.5 571.0,201.4 572.0,201.2 573.0,201.0 574.0,200.6 575.0,200.1 576.0,199.6 577.0,199.0 578.0,198.3 579.0,197.0 580.0,194.8 581.0,191.9 582.0,188.8 583.0,185.7 584.0,182.9 585.0,180.8 586.0,179.8 587.0,179.9 588.0,180.9 589.0,182.5 590.0,184.6 591.0,186.9 592.0,189.3 593.0,191.6 594.0,193.7 595.0,195.4 596.0,196.4 597.0,196.7 598.0,196.3 599.0,195.4 600.0,194.3 601.0,193.1 602.0,192.0 603.0,191.3 604.0,191.1 605.0,191.5 606.0,192.3 607.0,193.3 608.0,194.4 609.0,195.6 610.0,196.5 611.0,197.1 612.0,197.2 613.0,197.0 614.0,196.7 615.0,196.4 616.0,196.1 617.0,196.0 618.0,196.1 619.0,196.5 620.0,196.9 621.0,197.6 622.0,198.2 623.0,198.9 624.0,199.6 625.0,200.1 626.0,200.6 627.0,200.8 628.0,200.9 629.0,201.1 630.0,201.2 631.0,201.3 632.0,201.4 634.0,201.5 636.0,201.6 644.0,201.7 655.0,201.8 677.0,201.8" fill="none" stroke="#8a4010" stroke-width="2.1" stroke-linejoin="round"/>
<text x="250.3" y="26.4" class="lab">25<tspan class="deg">°C</tspan>-depoled</text>
<text x="250.3" y="47.7" class="lab">400<tspan class="deg">°C</tspan></text>
<text x="251.3" y="70.2" class="lab">350<tspan class="deg">°C</tspan></text>
<text x="252" y="92.3" class="lab">280<tspan class="deg">°C</tspan></text>
<text x="252.5" y="114.3" class="lab">200<tspan class="deg">°C</tspan></text>
<text x="251.3" y="134.5" class="lab"> 50<tspan class="deg">°C</tspan></text>
<path d="M800,0H520V1010Q360,870 150,800V1050Q270,1090 400,1190Q520,1290 560,1429H800Z" transform="translate(251.30,134.50) scale(0.00659,-0.00659)" fill="#111"/>
<text x="251.3" y="156" class="lab"> 00<tspan class="deg">°C</tspan></text>
<path d="M800,0H520V1010Q360,870 150,800V1050Q270,1090 400,1190Q520,1290 560,1429H800Z" transform="translate(251.30,156.00) scale(0.00659,-0.00659)" fill="#111"/>
<text x="252" y="177.2" class="lab">50<tspan class="deg">°C</tspan></text>
<text x="251.3" y="197.4" class="lab">25<tspan class="deg">°C</tspan>-poled</text>
<text x="420" y="25.7" class="pt">Pt</text>
<text x="645" y="25.7" class="pt">Pt</text>
<line x1="412.8" y1="19.9" x2="403.7" y2="25.0" stroke="#111" stroke-width="1.8"/><polygon points="400.2,26.9 403.0,21.7 406.1,27.3" fill="#111"/>
<line x1="638" y1="19.4" x2="627.5" y2="25.0" stroke="#111" stroke-width="1.8"/><polygon points="624,26.9 626.9,21.7 629.9,27.4" fill="#111"/>
<line x1="210.8" y1="181.4" x2="210.8" y2="107.8" stroke="#111" stroke-width="2.5" stroke-dasharray="10.1,11.1"/>
<polygon points="210.8,94.3 216.2,107.4 210.8,104.2 205.6,107.4" fill="#111"/>
<line x1="602.8" y1="188.4" x2="600.6" y2="115.5" stroke="#111" stroke-width="2.5" stroke-dasharray="10.1,10.8"/>
<polygon points="600.4,93.7 605.9,106.2 600.5,103.2 595.6,106.2" fill="#111"/>
<text x="166.3" y="201" class="hkl">(00 )</text>
<path d="M800,0H520V1010Q360,870 150,800V1050Q270,1090 400,1190Q520,1290 560,1429H800Z" transform="translate(183.64,201.00) scale(0.00586,-0.00586)" fill="#c8621f"/>
<text x="198.7" y="211" class="hkl">( 00)</text>
<path d="M800,0H520V1010Q360,870 150,800V1050Q270,1090 400,1190Q520,1290 560,1429H800Z" transform="translate(202.70,211.00) scale(0.00586,-0.00586)" fill="#c8621f"/>
<text x="308.6" y="248" class="xt">2<tspan class="th" dx="1.5">θ</tspan><tspan dx="2"> (degree)</tspan></text>
<text transform="translate(20.5,182) rotate(-90)" class="yt">Intensity (a.u.)</text>
<text x="0.5" y="23.9" class="pl">a</text>
<text x="0.8" y="278.9" class="pl">b</text>
<text x="0.3" y="441.9" class="pl">c</text>
<text x="0.8" y="767.8" class="pl">d</text>
<g clip-path="url(#cpb1)">
<rect x="32" y="255" width="158.8" height="158.8" fill="#555"/>
<g filter="url(#bblur)">
<rect x="-20.9" y="202.1" width="27.1" height="27.1" fill="rgb(235,235,235)"/>
<rect x="5.5" y="202.1" width="27.1" height="27.1" fill="rgb(235,235,235)"/>
<rect x="32.0" y="202.1" width="27.1" height="27.1" fill="rgb(235,235,235)"/>
<rect x="58.5" y="202.1" width="27.1" height="27.1" fill="rgb(235,235,235)"/>
<rect x="84.9" y="202.1" width="27.1" height="27.1" fill="rgb(235,235,235)"/>
<rect x="111.4" y="202.1" width="27.1" height="27.1" fill="rgb(230,230,230)"/>
<rect x="137.9" y="202.1" width="27.1" height="27.1" fill="rgb(180,180,180)"/>
<rect x="164.3" y="202.1" width="27.1" height="27.1" fill="rgb(125,125,125)"/>
<rect x="190.8" y="202.1" width="27.1" height="27.1" fill="rgb(125,125,125)"/>
<rect x="217.3" y="202.1" width="27.1" height="27.1" fill="rgb(125,125,125)"/>
<rect x="-20.9" y="228.5" width="27.1" height="27.1" fill="rgb(235,235,235)"/>
<rect x="5.5" y="228.5" width="27.1" height="27.1" fill="rgb(235,235,235)"/>
<rect x="32.0" y="228.5" width="27.1" height="27.1" fill="rgb(235,235,235)"/>
<rect x="58.5" y="228.5" width="27.1" height="27.1" fill="rgb(235,235,235)"/>
<rect x="84.9" y="228.5" width="27.1" height="27.1" fill="rgb(235,235,235)"/>
<rect x="111.4" y="228.5" width="27.1" height="27.1" fill="rgb(230,230,230)"/>
<rect x="137.9" y="228.5" width="27.1" height="27.1" fill="rgb(180,180,180)"/>
<rect x="164.3" y="228.5" width="27.1" height="27.1" fill="rgb(125,125,125)"/>
<rect x="190.8" y="228.5" width="27.1" height="27.1" fill="rgb(125,125,125)"/>
<rect x="217.3" y="228.5" width="27.1" height="27.1" fill="rgb(125,125,125)"/>
<rect x="-20.9" y="255.0" width="27.1" height="27.1" fill="rgb(235,235,235)"/>
<rect x="5.5" y="255.0" width="27.1" height="27.1" fill="rgb(235,235,235)"/>
<rect x="32.0" y="255.0" width="27.1" height="27.1" fill="rgb(235,235,235)"/>
<rect x="58.5" y="255.0" width="27.1" height="27.1" fill="rgb(235,235,235)"/>
<rect x="84.9" y="255.0" width="27.1" height="27.1" fill="rgb(235,235,235)"/>
<rect x="111.4" y="255.0" width="27.1" height="27.1" fill="rgb(230,230,230)"/>
<rect x="137.9" y="255.0" width="27.1" height="27.1" fill="rgb(180,180,180)"/>
<rect x="164.3" y="255.0" width="27.1" height="27.1" fill="rgb(125,125,125)"/>
<rect x="190.8" y="255.0" width="27.1" height="27.1" fill="rgb(125,125,125)"/>
<rect x="217.3" y="255.0" width="27.1" height="27.1" fill="rgb(125,125,125)"/>
<rect x="-20.9" y="281.5" width="27.1" height="27.1" fill="rgb(230,230,230)"/>
<rect x="5.5" y="281.5" width="27.1" height="27.1" fill="rgb(230,230,230)"/>
<rect x="32.0" y="281.5" width="27.1" height="27.1" fill="rgb(230,230,230)"/>
<rect x="58.5" y="281.5" width="27.1" height="27.1" fill="rgb(215,215,215)"/>
<rect x="84.9" y="281.5" width="27.1" height="27.1" fill="rgb(192,192,192)"/>
<rect x="111.4" y="281.5" width="27.1" height="27.1" fill="rgb(165,165,165)"/>
<rect x="137.9" y="281.5" width="27.1" height="27.1" fill="rgb(110,110,110)"/>
<rect x="164.3" y="281.5" width="27.1" height="27.1" fill="rgb(70,70,70)"/>
<rect x="190.8" y="281.5" width="27.1" height="27.1" fill="rgb(70,70,70)"/>
<rect x="217.3" y="281.5" width="27.1" height="27.1" fill="rgb(70,70,70)"/>
<rect x="-20.9" y="307.9" width="27.1" height="27.1" fill="rgb(158,158,158)"/>
<rect x="5.5" y="307.9" width="27.1" height="27.1" fill="rgb(158,158,158)"/>
<rect x="32.0" y="307.9" width="27.1" height="27.1" fill="rgb(158,158,158)"/>
<rect x="58.5" y="307.9" width="27.1" height="27.1" fill="rgb(149,149,149)"/>
<rect x="84.9" y="307.9" width="27.1" height="27.1" fill="rgb(136,136,136)"/>
<rect x="111.4" y="307.9" width="27.1" height="27.1" fill="rgb(110,110,110)"/>
<rect x="137.9" y="307.9" width="27.1" height="27.1" fill="rgb(68,68,68)"/>
<rect x="164.3" y="307.9" width="27.1" height="27.1" fill="rgb(35,35,35)"/>
<rect x="190.8" y="307.9" width="27.1" height="27.1" fill="rgb(35,35,35)"/>
<rect x="217.3" y="307.9" width="27.1" height="27.1" fill="rgb(35,35,35)"/>
<rect x="-20.9" y="334.4" width="27.1" height="27.1" fill="rgb(117,117,117)"/>
<rect x="5.5" y="334.4" width="27.1" height="27.1" fill="rgb(117,117,117)"/>
<rect x="32.0" y="334.4" width="27.1" height="27.1" fill="rgb(117,117,117)"/>
<rect x="58.5" y="334.4" width="27.1" height="27.1" fill="rgb(105,105,105)"/>
<rect x="84.9" y="334.4" width="27.1" height="27.1" fill="rgb(89,89,89)"/>
<rect x="111.4" y="334.4" width="27.1" height="27.1" fill="rgb(66,66,66)"/>
<rect x="137.9" y="334.4" width="27.1" height="27.1" fill="rgb(40,40,40)"/>
<rect x="164.3" y="334.4" width="27.1" height="27.1" fill="rgb(19,19,19)"/>
<rect x="190.8" y="334.4" width="27.1" height="27.1" fill="rgb(19,19,19)"/>
<rect x="217.3" y="334.4" width="27.1" height="27.1" fill="rgb(19,19,19)"/>
<rect x="-20.9" y="360.9" width="27.1" height="27.1" fill="rgb(88,88,88)"/>
<rect x="5.5" y="360.9" width="27.1" height="27.1" fill="rgb(88,88,88)"/>
<rect x="32.0" y="360.9" width="27.1" height="27.1" fill="rgb(88,88,88)"/>
<rect x="58.5" y="360.9" width="27.1" height="27.1" fill="rgb(77,77,77)"/>
<rect x="84.9" y="360.9" width="27.1" height="27.1" fill="rgb(65,65,65)"/>
<rect x="111.4" y="360.9" width="27.1" height="27.1" fill="rgb(42,42,42)"/>
<rect x="137.9" y="360.9" width="27.1" height="27.1" fill="rgb(23,23,23)"/>
<rect x="164.3" y="360.9" width="27.1" height="27.1" fill="rgb(8,8,8)"/>
<rect x="190.8" y="360.9" width="27.1" height="27.1" fill="rgb(8,8,8)"/>
<rect x="217.3" y="360.9" width="27.1" height="27.1" fill="rgb(8,8,8)"/>
<rect x="-20.9" y="387.3" width="27.1" height="27.1" fill="rgb(72,72,72)"/>
<rect x="5.5" y="387.3" width="27.1" height="27.1" fill="rgb(72,72,72)"/>
<rect x="32.0" y="387.3" width="27.1" height="27.1" fill="rgb(72,72,72)"/>
<rect x="58.5" y="387.3" width="27.1" height="27.1" fill="rgb(64,64,64)"/>
<rect x="84.9" y="387.3" width="27.1" height="27.1" fill="rgb(54,54,54)"/>
<rect x="111.4" y="387.3" width="27.1" height="27.1" fill="rgb(32,32,32)"/>
<rect x="137.9" y="387.3" width="27.1" height="27.1" fill="rgb(14,14,14)"/>
<rect x="164.3" y="387.3" width="27.1" height="27.1" fill="rgb(5,5,5)"/>
<rect x="190.8" y="387.3" width="27.1" height="27.1" fill="rgb(5,5,5)"/>
<rect x="217.3" y="387.3" width="27.1" height="27.1" fill="rgb(5,5,5)"/>
<rect x="-20.9" y="413.8" width="27.1" height="27.1" fill="rgb(72,72,72)"/>
<rect x="5.5" y="413.8" width="27.1" height="27.1" fill="rgb(72,72,72)"/>
<rect x="32.0" y="413.8" width="27.1" height="27.1" fill="rgb(72,72,72)"/>
<rect x="58.5" y="413.8" width="27.1" height="27.1" fill="rgb(64,64,64)"/>
<rect x="84.9" y="413.8" width="27.1" height="27.1" fill="rgb(54,54,54)"/>
<rect x="111.4" y="413.8" width="27.1" height="27.1" fill="rgb(32,32,32)"/>
<rect x="137.9" y="413.8" width="27.1" height="27.1" fill="rgb(14,14,14)"/>
<rect x="164.3" y="413.8" width="27.1" height="27.1" fill="rgb(5,5,5)"/>
<rect x="190.8" y="413.8" width="27.1" height="27.1" fill="rgb(5,5,5)"/>
<rect x="217.3" y="413.8" width="27.1" height="27.1" fill="rgb(5,5,5)"/>
<rect x="-20.9" y="440.3" width="27.1" height="27.1" fill="rgb(72,72,72)"/>
<rect x="5.5" y="440.3" width="27.1" height="27.1" fill="rgb(72,72,72)"/>
<rect x="32.0" y="440.3" width="27.1" height="27.1" fill="rgb(72,72,72)"/>
<rect x="58.5" y="440.3" width="27.1" height="27.1" fill="rgb(64,64,64)"/>
<rect x="84.9" y="440.3" width="27.1" height="27.1" fill="rgb(54,54,54)"/>
<rect x="111.4" y="440.3" width="27.1" height="27.1" fill="rgb(32,32,32)"/>
<rect x="137.9" y="440.3" width="27.1" height="27.1" fill="rgb(14,14,14)"/>
<rect x="164.3" y="440.3" width="27.1" height="27.1" fill="rgb(5,5,5)"/>
<rect x="190.8" y="440.3" width="27.1" height="27.1" fill="rgb(5,5,5)"/>
<rect x="217.3" y="440.3" width="27.1" height="27.1" fill="rgb(5,5,5)"/>
</g>
<line x1="54" y1="308" x2="49" y2="416" stroke="#000" stroke-width="5" stroke-opacity="0.25" stroke-linecap="round" filter="url(#tblur)"/>
<line x1="82" y1="289" x2="78" y2="416" stroke="#000" stroke-width="6" stroke-opacity="0.3" stroke-linecap="round" filter="url(#tblur)"/>
<line x1="93" y1="300" x2="94" y2="416" stroke="#fff" stroke-width="4" stroke-opacity="0.12" stroke-linecap="round" filter="url(#tblur)"/>
<line x1="129" y1="270" x2="125" y2="330" stroke="#000" stroke-width="4" stroke-opacity="0.25" stroke-linecap="round" filter="url(#tblur)"/>
<line x1="108" y1="360" x2="112" y2="380" stroke="#000" stroke-width="8" stroke-opacity="0.15" stroke-linecap="round" filter="url(#tblur)"/>
<line x1="150" y1="290" x2="170" y2="300" stroke="#fff" stroke-width="10" stroke-opacity="0.1" stroke-linecap="round" filter="url(#tblur)"/>
<line x1="60" y1="340" x2="70" y2="350" stroke="#000" stroke-width="8" stroke-opacity="0.2" stroke-linecap="round" filter="url(#tblur)"/>
<line x1="140" y1="330" x2="150" y2="380" stroke="#000" stroke-width="6" stroke-opacity="0.2" stroke-linecap="round" filter="url(#tblur)"/>
<polygon points="29.0,252.0 32.0,318.0 44.5,310.8 58.9,301.2 68.6,292.8 78.2,286.7 92.7,283.1 109.5,280.7 126.4,277.1 138.4,271.1 150.5,262.6 160.1,255.4 163.0,253.0 193.8,252.0" fill="#f1f1f1" filter="url(#blur1)"/>
</g>
<g clip-path="url(#cpb2)">
<rect x="195.2" y="255" width="158.6" height="159.0" fill="#555"/>
<g filter="url(#bblur)">
<rect x="142.3" y="202.0" width="27.0" height="27.1" fill="rgb(235,235,235)"/>
<rect x="168.8" y="202.0" width="27.0" height="27.1" fill="rgb(235,235,235)"/>
<rect x="195.2" y="202.0" width="27.0" height="27.1" fill="rgb(235,235,235)"/>
<rect x="221.6" y="202.0" width="27.0" height="27.1" fill="rgb(235,235,235)"/>
<rect x="248.1" y="202.0" width="27.0" height="27.1" fill="rgb(230,230,230)"/>
<rect x="274.5" y="202.0" width="27.0" height="27.1" fill="rgb(220,220,220)"/>
<rect x="300.9" y="202.0" width="27.0" height="27.1" fill="rgb(195,195,195)"/>
<rect x="327.4" y="202.0" width="27.0" height="27.1" fill="rgb(145,145,145)"/>
<rect x="353.8" y="202.0" width="27.0" height="27.1" fill="rgb(145,145,145)"/>
<rect x="380.2" y="202.0" width="27.0" height="27.1" fill="rgb(145,145,145)"/>
<rect x="142.3" y="228.5" width="27.0" height="27.1" fill="rgb(235,235,235)"/>
<rect x="168.8" y="228.5" width="27.0" height="27.1" fill="rgb(235,235,235)"/>
<rect x="195.2" y="228.5" width="27.0" height="27.1" fill="rgb(235,235,235)"/>
<rect x="221.6" y="228.5" width="27.0" height="27.1" fill="rgb(235,235,235)"/>
<rect x="248.1" y="228.5" width="27.0" height="27.1" fill="rgb(230,230,230)"/>
<rect x="274.5" y="228.5" width="27.0" height="27.1" fill="rgb(220,220,220)"/>
<rect x="300.9" y="228.5" width="27.0" height="27.1" fill="rgb(195,195,195)"/>
<rect x="327.4" y="228.5" width="27.0" height="27.1" fill="rgb(145,145,145)"/>
<rect x="353.8" y="228.5" width="27.0" height="27.1" fill="rgb(145,145,145)"/>
<rect x="380.2" y="228.5" width="27.0" height="27.1" fill="rgb(145,145,145)"/>
<rect x="142.3" y="255.0" width="27.0" height="27.1" fill="rgb(235,235,235)"/>
<rect x="168.8" y="255.0" width="27.0" height="27.1" fill="rgb(235,235,235)"/>
<rect x="195.2" y="255.0" width="27.0" height="27.1" fill="rgb(235,235,235)"/>
<rect x="221.6" y="255.0" width="27.0" height="27.1" fill="rgb(235,235,235)"/>
<rect x="248.1" y="255.0" width="27.0" height="27.1" fill="rgb(230,230,230)"/>
<rect x="274.5" y="255.0" width="27.0" height="27.1" fill="rgb(220,220,220)"/>
<rect x="300.9" y="255.0" width="27.0" height="27.1" fill="rgb(195,195,195)"/>
<rect x="327.4" y="255.0" width="27.0" height="27.1" fill="rgb(145,145,145)"/>
<rect x="353.8" y="255.0" width="27.0" height="27.1" fill="rgb(145,145,145)"/>
<rect x="380.2" y="255.0" width="27.0" height="27.1" fill="rgb(145,145,145)"/>
<rect x="142.3" y="281.5" width="27.0" height="27.1" fill="rgb(225,225,225)"/>
<rect x="168.8" y="281.5" width="27.0" height="27.1" fill="rgb(225,225,225)"/>
<rect x="195.2" y="281.5" width="27.0" height="27.1" fill="rgb(225,225,225)"/>
<rect x="221.6" y="281.5" width="27.0" height="27.1" fill="rgb(205,205,205)"/>
<rect x="248.1" y="281.5" width="27.0" height="27.1" fill="rgb(180,180,180)"/>
<rect x="274.5" y="281.5" width="27.0" height="27.1" fill="rgb(170,170,170)"/>
<rect x="300.9" y="281.5" width="27.0" height="27.1" fill="rgb(140,140,140)"/>
<rect x="327.4" y="281.5" width="27.0" height="27.1" fill="rgb(90,90,90)"/>
<rect x="353.8" y="281.5" width="27.0" height="27.1" fill="rgb(90,90,90)"/>
<rect x="380.2" y="281.5" width="27.0" height="27.1" fill="rgb(90,90,90)"/>
<rect x="142.3" y="308.0" width="27.0" height="27.1" fill="rgb(158,158,158)"/>
<rect x="168.8" y="308.0" width="27.0" height="27.1" fill="rgb(158,158,158)"/>
<rect x="195.2" y="308.0" width="27.0" height="27.1" fill="rgb(158,158,158)"/>
<rect x="221.6" y="308.0" width="27.0" height="27.1" fill="rgb(140,140,140)"/>
<rect x="248.1" y="308.0" width="27.0" height="27.1" fill="rgb(118,118,118)"/>
<rect x="274.5" y="308.0" width="27.0" height="27.1" fill="rgb(118,118,118)"/>
<rect x="300.9" y="308.0" width="27.0" height="27.1" fill="rgb(96,96,96)"/>
<rect x="327.4" y="308.0" width="27.0" height="27.1" fill="rgb(52,52,52)"/>
<rect x="353.8" y="308.0" width="27.0" height="27.1" fill="rgb(52,52,52)"/>
<rect x="380.2" y="308.0" width="27.0" height="27.1" fill="rgb(52,52,52)"/>
<rect x="142.3" y="334.5" width="27.0" height="27.1" fill="rgb(113,113,113)"/>
<rect x="168.8" y="334.5" width="27.0" height="27.1" fill="rgb(113,113,113)"/>
<rect x="195.2" y="334.5" width="27.0" height="27.1" fill="rgb(113,113,113)"/>
<rect x="221.6" y="334.5" width="27.0" height="27.1" fill="rgb(99,99,99)"/>
<rect x="248.1" y="334.5" width="27.0" height="27.1" fill="rgb(81,81,81)"/>
<rect x="274.5" y="334.5" width="27.0" height="27.1" fill="rgb(74,74,74)"/>
<rect x="300.9" y="334.5" width="27.0" height="27.1" fill="rgb(53,53,53)"/>
<rect x="327.4" y="334.5" width="27.0" height="27.1" fill="rgb(27,27,27)"/>
<rect x="353.8" y="334.5" width="27.0" height="27.1" fill="rgb(27,27,27)"/>
<rect x="380.2" y="334.5" width="27.0" height="27.1" fill="rgb(27,27,27)"/>
<rect x="142.3" y="361.0" width="27.0" height="27.1" fill="rgb(85,85,85)"/>
<rect x="168.8" y="361.0" width="27.0" height="27.1" fill="rgb(85,85,85)"/>
<rect x="195.2" y="361.0" width="27.0" height="27.1" fill="rgb(85,85,85)"/>
<rect x="221.6" y="361.0" width="27.0" height="27.1" fill="rgb(75,75,75)"/>
<rect x="248.1" y="361.0" width="27.0" height="27.1" fill="rgb(60,60,60)"/>
<rect x="274.5" y="361.0" width="27.0" height="27.1" fill="rgb(45,45,45)"/>
<rect x="300.9" y="361.0" width="27.0" height="27.1" fill="rgb(29,29,29)"/>
<rect x="327.4" y="361.0" width="27.0" height="27.1" fill="rgb(14,14,14)"/>
<rect x="353.8" y="361.0" width="27.0" height="27.1" fill="rgb(14,14,14)"/>
<rect x="380.2" y="361.0" width="27.0" height="27.1" fill="rgb(14,14,14)"/>
<rect x="142.3" y="387.5" width="27.0" height="27.1" fill="rgb(68,68,68)"/>
<rect x="168.8" y="387.5" width="27.0" height="27.1" fill="rgb(68,68,68)"/>
<rect x="195.2" y="387.5" width="27.0" height="27.1" fill="rgb(68,68,68)"/>
<rect x="221.6" y="387.5" width="27.0" height="27.1" fill="rgb(61,61,61)"/>
<rect x="248.1" y="387.5" width="27.0" height="27.1" fill="rgb(46,46,46)"/>
<rect x="274.5" y="387.5" width="27.0" height="27.1" fill="rgb(32,32,32)"/>
<rect x="300.9" y="387.5" width="27.0" height="27.1" fill="rgb(18,18,18)"/>
<rect x="327.4" y="387.5" width="27.0" height="27.1" fill="rgb(7,7,7)"/>
<rect x="353.8" y="387.5" width="27.0" height="27.1" fill="rgb(7,7,7)"/>
<rect x="380.2" y="387.5" width="27.0" height="27.1" fill="rgb(7,7,7)"/>
<rect x="142.3" y="414.0" width="27.0" height="27.1" fill="rgb(68,68,68)"/>
<rect x="168.8" y="414.0" width="27.0" height="27.1" fill="rgb(68,68,68)"/>
<rect x="195.2" y="414.0" width="27.0" height="27.1" fill="rgb(68,68,68)"/>
<rect x="221.6" y="414.0" width="27.0" height="27.1" fill="rgb(61,61,61)"/>
<rect x="248.1" y="414.0" width="27.0" height="27.1" fill="rgb(46,46,46)"/>
<rect x="274.5" y="414.0" width="27.0" height="27.1" fill="rgb(32,32,32)"/>
<rect x="300.9" y="414.0" width="27.0" height="27.1" fill="rgb(18,18,18)"/>
<rect x="327.4" y="414.0" width="27.0" height="27.1" fill="rgb(7,7,7)"/>
<rect x="353.8" y="414.0" width="27.0" height="27.1" fill="rgb(7,7,7)"/>
<rect x="380.2" y="414.0" width="27.0" height="27.1" fill="rgb(7,7,7)"/>
<rect x="142.3" y="440.5" width="27.0" height="27.1" fill="rgb(68,68,68)"/>
<rect x="168.8" y="440.5" width="27.0" height="27.1" fill="rgb(68,68,68)"/>
<rect x="195.2" y="440.5" width="27.0" height="27.1" fill="rgb(68,68,68)"/>
<rect x="221.6" y="440.5" width="27.0" height="27.1" fill="rgb(61,61,61)"/>
<rect x="248.1" y="440.5" width="27.0" height="27.1" fill="rgb(46,46,46)"/>
<rect x="274.5" y="440.5" width="27.0" height="27.1" fill="rgb(32,32,32)"/>
<rect x="300.9" y="440.5" width="27.0" height="27.1" fill="rgb(18,18,18)"/>
<rect x="327.4" y="440.5" width="27.0" height="27.1" fill="rgb(7,7,7)"/>
<rect x="353.8" y="440.5" width="27.0" height="27.1" fill="rgb(7,7,7)"/>
<rect x="380.2" y="440.5" width="27.0" height="27.1" fill="rgb(7,7,7)"/>
</g>
<line x1="257" y1="285" x2="249.6" y2="416" stroke="#000" stroke-width="8" stroke-opacity="0.3" stroke-linecap="round" filter="url(#tblur)"/>
<line x1="227" y1="300" x2="215" y2="416" stroke="#000" stroke-width="5" stroke-opacity="0.25" stroke-linecap="round" filter="url(#tblur)"/>
<line x1="309" y1="270" x2="308" y2="416" stroke="#fff" stroke-width="6" stroke-opacity="0.12" stroke-linecap="round" filter="url(#tblur)"/>
<line x1="324" y1="262" x2="322" y2="416" stroke="#000" stroke-width="7" stroke-opacity="0.25" stroke-linecap="round" filter="url(#tblur)"/>
<line x1="205" y1="340" x2="210" y2="400" stroke="#000" stroke-width="6" stroke-opacity="0.15" stroke-linecap="round" filter="url(#tblur)"/>
<polygon points="192.2,252.0 195.2,320.0 214.8,307.6 239.6,291.5 264.4,280.3 294.0,268.0 321.5,258.0 334.0,254.0 356.8,252.0" fill="#f1f1f1" filter="url(#blur1)"/>
</g>
<g clip-path="url(#cpb3)">
<rect x="358.8" y="255" width="159.2" height="159.0" fill="#555"/>
<g filter="url(#bblur)">
<rect x="305.7" y="202.0" width="27.1" height="27.1" fill="rgb(235,235,235)"/>
<rect x="332.3" y="202.0" width="27.1" height="27.1" fill="rgb(235,235,235)"/>
<rect x="358.8" y="202.0" width="27.1" height="27.1" fill="rgb(235,235,235)"/>
<rect x="385.3" y="202.0" width="27.1" height="27.1" fill="rgb(235,235,235)"/>
<rect x="411.9" y="202.0" width="27.1" height="27.1" fill="rgb(235,235,235)"/>
<rect x="438.4" y="202.0" width="27.1" height="27.1" fill="rgb(225,225,225)"/>
<rect x="464.9" y="202.0" width="27.1" height="27.1" fill="rgb(200,200,200)"/>
<rect x="491.5" y="202.0" width="27.1" height="27.1" fill="rgb(170,170,170)"/>
<rect x="518.0" y="202.0" width="27.1" height="27.1" fill="rgb(170,170,170)"/>
<rect x="544.5" y="202.0" width="27.1" height="27.1" fill="rgb(170,170,170)"/>
<rect x="305.7" y="228.5" width="27.1" height="27.1" fill="rgb(235,235,235)"/>
<rect x="332.3" y="228.5" width="27.1" height="27.1" fill="rgb(235,235,235)"/>
<rect x="358.8" y="228.5" width="27.1" height="27.1" fill="rgb(235,235,235)"/>
<rect x="385.3" y="228.5" width="27.1" height="27.1" fill="rgb(235,235,235)"/>
<rect x="411.9" y="228.5" width="27.1" height="27.1" fill="rgb(235,235,235)"/>
<rect x="438.4" y="228.5" width="27.1" height="27.1" fill="rgb(225,225,225)"/>
<rect x="464.9" y="228.5" width="27.1" height="27.1" fill="rgb(200,200,200)"/>
<rect x="491.5" y="228.5" width="27.1" height="27.1" fill="rgb(170,170,170)"/>
<rect x="518.0" y="228.5" width="27.1" height="27.1" fill="rgb(170,170,170)"/>
<rect x="544.5" y="228.5" width="27.1" height="27.1" fill="rgb(170,170,170)"/>
<rect x="305.7" y="255.0" width="27.1" height="27.1" fill="rgb(235,235,235)"/>
<rect x="332.3" y="255.0" width="27.1" height="27.1" fill="rgb(235,235,235)"/>
<rect x="358.8" y="255.0" width="27.1" height="27.1" fill="rgb(235,235,235)"/>
<rect x="385.3" y="255.0" width="27.1" height="27.1" fill="rgb(235,235,235)"/>
<rect x="411.9" y="255.0" width="27.1" height="27.1" fill="rgb(235,235,235)"/>
<rect x="438.4" y="255.0" width="27.1" height="27.1" fill="rgb(225,225,225)"/>
<rect x="464.9" y="255.0" width="27.1" height="27.1" fill="rgb(200,200,200)"/>
<rect x="491.5" y="255.0" width="27.1" height="27.1" fill="rgb(170,170,170)"/>
<rect x="518.0" y="255.0" width="27.1" height="27.1" fill="rgb(170,170,170)"/>
<rect x="544.5" y="255.0" width="27.1" height="27.1" fill="rgb(170,170,170)"/>
<rect x="305.7" y="281.5" width="27.1" height="27.1" fill="rgb(230,230,230)"/>
<rect x="332.3" y="281.5" width="27.1" height="27.1" fill="rgb(230,230,230)"/>
<rect x="358.8" y="281.5" width="27.1" height="27.1" fill="rgb(230,230,230)"/>
<rect x="385.3" y="281.5" width="27.1" height="27.1" fill="rgb(215,215,215)"/>
<rect x="411.9" y="281.5" width="27.1" height="27.1" fill="rgb(185,185,185)"/>
<rect x="438.4" y="281.5" width="27.1" height="27.1" fill="rgb(160,160,160)"/>
<rect x="464.9" y="281.5" width="27.1" height="27.1" fill="rgb(140,140,140)"/>
<rect x="491.5" y="281.5" width="27.1" height="27.1" fill="rgb(110,110,110)"/>
<rect x="518.0" y="281.5" width="27.1" height="27.1" fill="rgb(110,110,110)"/>
<rect x="544.5" y="281.5" width="27.1" height="27.1" fill="rgb(110,110,110)"/>
<rect x="305.7" y="308.0" width="27.1" height="27.1" fill="rgb(154,154,154)"/>
<rect x="332.3" y="308.0" width="27.1" height="27.1" fill="rgb(154,154,154)"/>
<rect x="358.8" y="308.0" width="27.1" height="27.1" fill="rgb(154,154,154)"/>
<rect x="385.3" y="308.0" width="27.1" height="27.1" fill="rgb(127,127,127)"/>
<rect x="411.9" y="308.0" width="27.1" height="27.1" fill="rgb(105,105,105)"/>
<rect x="438.4" y="308.0" width="27.1" height="27.1" fill="rgb(88,88,88)"/>
<rect x="464.9" y="308.0" width="27.1" height="27.1" fill="rgb(74,74,74)"/>
<rect x="491.5" y="308.0" width="27.1" height="27.1" fill="rgb(57,57,57)"/>
<rect x="518.0" y="308.0" width="27.1" height="27.1" fill="rgb(57,57,57)"/>
<rect x="544.5" y="308.0" width="27.1" height="27.1" fill="rgb(57,57,57)"/>
<rect x="305.7" y="334.5" width="27.1" height="27.1" fill="rgb(101,101,101)"/>
<rect x="332.3" y="334.5" width="27.1" height="27.1" fill="rgb(101,101,101)"/>
<rect x="358.8" y="334.5" width="27.1" height="27.1" fill="rgb(101,101,101)"/>
<rect x="385.3" y="334.5" width="27.1" height="27.1" fill="rgb(81,81,81)"/>
<rect x="411.9" y="334.5" width="27.1" height="27.1" fill="rgb(62,62,62)"/>
<rect x="438.4" y="334.5" width="27.1" height="27.1" fill="rgb(50,50,50)"/>
<rect x="464.9" y="334.5" width="27.1" height="27.1" fill="rgb(39,39,39)"/>
<rect x="491.5" y="334.5" width="27.1" height="27.1" fill="rgb(27,27,27)"/>
<rect x="518.0" y="334.5" width="27.1" height="27.1" fill="rgb(27,27,27)"/>
<rect x="544.5" y="334.5" width="27.1" height="27.1" fill="rgb(27,27,27)"/>
<rect x="305.7" y="361.0" width="27.1" height="27.1" fill="rgb(77,77,77)"/>
<rect x="332.3" y="361.0" width="27.1" height="27.1" fill="rgb(77,77,77)"/>
<rect x="358.8" y="361.0" width="27.1" height="27.1" fill="rgb(77,77,77)"/>
<rect x="385.3" y="361.0" width="27.1" height="27.1" fill="rgb(62,62,62)"/>
<rect x="411.9" y="361.0" width="27.1" height="27.1" fill="rgb(44,44,44)"/>
<rect x="438.4" y="361.0" width="27.1" height="27.1" fill="rgb(33,33,33)"/>
<rect x="464.9" y="361.0" width="27.1" height="27.1" fill="rgb(22,22,22)"/>
<rect x="491.5" y="361.0" width="27.1" height="27.1" fill="rgb(13,13,13)"/>
<rect x="518.0" y="361.0" width="27.1" height="27.1" fill="rgb(13,13,13)"/>
<rect x="544.5" y="361.0" width="27.1" height="27.1" fill="rgb(13,13,13)"/>
<rect x="305.7" y="387.5" width="27.1" height="27.1" fill="rgb(68,68,68)"/>
<rect x="332.3" y="387.5" width="27.1" height="27.1" fill="rgb(68,68,68)"/>
<rect x="358.8" y="387.5" width="27.1" height="27.1" fill="rgb(68,68,68)"/>
<rect x="385.3" y="387.5" width="27.1" height="27.1" fill="rgb(54,54,54)"/>
<rect x="411.9" y="387.5" width="27.1" height="27.1" fill="rgb(39,39,39)"/>
<rect x="438.4" y="387.5" width="27.1" height="27.1" fill="rgb(25,25,25)"/>
<rect x="464.9" y="387.5" width="27.1" height="27.1" fill="rgb(14,14,14)"/>
<rect x="491.5" y="387.5" width="27.1" height="27.1" fill="rgb(5,5,5)"/>
<rect x="518.0" y="387.5" width="27.1" height="27.1" fill="rgb(5,5,5)"/>
<rect x="544.5" y="387.5" width="27.1" height="27.1" fill="rgb(5,5,5)"/>
<rect x="305.7" y="414.0" width="27.1" height="27.1" fill="rgb(68,68,68)"/>
<rect x="332.3" y="414.0" width="27.1" height="27.1" fill="rgb(68,68,68)"/>
<rect x="358.8" y="414.0" width="27.1" height="27.1" fill="rgb(68,68,68)"/>
<rect x="385.3" y="414.0" width="27.1" height="27.1" fill="rgb(54,54,54)"/>
<rect x="411.9" y="414.0" width="27.1" height="27.1" fill="rgb(39,39,39)"/>
<rect x="438.4" y="414.0" width="27.1" height="27.1" fill="rgb(25,25,25)"/>
<rect x="464.9" y="414.0" width="27.1" height="27.1" fill="rgb(14,14,14)"/>
<rect x="491.5" y="414.0" width="27.1" height="27.1" fill="rgb(5,5,5)"/>
<rect x="518.0" y="414.0" width="27.1" height="27.1" fill="rgb(5,5,5)"/>
<rect x="544.5" y="414.0" width="27.1" height="27.1" fill="rgb(5,5,5)"/>
<rect x="305.7" y="440.5" width="27.1" height="27.1" fill="rgb(68,68,68)"/>
<rect x="332.3" y="440.5" width="27.1" height="27.1" fill="rgb(68,68,68)"/>
<rect x="358.8" y="440.5" width="27.1" height="27.1" fill="rgb(68,68,68)"/>
<rect x="385.3" y="440.5" width="27.1" height="27.1" fill="rgb(54,54,54)"/>
<rect x="411.9" y="440.5" width="27.1" height="27.1" fill="rgb(39,39,39)"/>
<rect x="438.4" y="440.5" width="27.1" height="27.1" fill="rgb(25,25,25)"/>
<rect x="464.9" y="440.5" width="27.1" height="27.1" fill="rgb(14,14,14)"/>
<rect x="491.5" y="440.5" width="27.1" height="27.1" fill="rgb(5,5,5)"/>
<rect x="518.0" y="440.5" width="27.1" height="27.1" fill="rgb(5,5,5)"/>
<rect x="544.5" y="440.5" width="27.1" height="27.1" fill="rgb(5,5,5)"/>
</g>
<line x1="430" y1="300" x2="460" y2="320" stroke="#000" stroke-width="12" stroke-opacity="0.15" stroke-linecap="round" filter="url(#tblur)"/>
<line x1="375" y1="350" x2="395" y2="390" stroke="#000" stroke-width="10" stroke-opacity="0.12" stroke-linecap="round" filter="url(#tblur)"/>
<line x1="470" y1="290" x2="480" y2="330" stroke="#000" stroke-width="6" stroke-opacity="0.2" stroke-linecap="round" filter="url(#tblur)"/>
<polygon points="355.8,252.0 358.8,325.0 379.8,311.3 404.6,295.2 429.4,279.0 459.2,266.6 489.0,256.7 495.0,254.0 521.0,252.0" fill="#f1f1f1" filter="url(#blur1)"/>
</g>
<g clip-path="url(#cpb4)">
<rect x="521.2" y="255.3" width="158.8" height="158.9" fill="#555"/>
<g filter="url(#bblur)">
<rect x="468.3" y="202.3" width="27.1" height="27.1" fill="rgb(240,240,240)"/>
<rect x="494.7" y="202.3" width="27.1" height="27.1" fill="rgb(240,240,240)"/>
<rect x="521.2" y="202.3" width="27.1" height="27.1" fill="rgb(240,240,240)"/>
<rect x="547.7" y="202.3" width="27.1" height="27.1" fill="rgb(240,240,240)"/>
<rect x="574.1" y="202.3" width="27.1" height="27.1" fill="rgb(240,240,240)"/>
<rect x="600.6" y="202.3" width="27.1" height="27.1" fill="rgb(235,235,235)"/>
<rect x="627.1" y="202.3" width="27.1" height="27.1" fill="rgb(225,225,225)"/>
<rect x="653.5" y="202.3" width="27.1" height="27.1" fill="rgb(175,175,175)"/>
<rect x="680.0" y="202.3" width="27.1" height="27.1" fill="rgb(175,175,175)"/>
<rect x="706.5" y="202.3" width="27.1" height="27.1" fill="rgb(175,175,175)"/>
<rect x="468.3" y="228.8" width="27.1" height="27.1" fill="rgb(240,240,240)"/>
<rect x="494.7" y="228.8" width="27.1" height="27.1" fill="rgb(240,240,240)"/>
<rect x="521.2" y="228.8" width="27.1" height="27.1" fill="rgb(240,240,240)"/>
<rect x="547.7" y="228.8" width="27.1" height="27.1" fill="rgb(240,240,240)"/>
<rect x="574.1" y="228.8" width="27.1" height="27.1" fill="rgb(240,240,240)"/>
<rect x="600.6" y="228.8" width="27.1" height="27.1" fill="rgb(235,235,235)"/>
<rect x="627.1" y="228.8" width="27.1" height="27.1" fill="rgb(225,225,225)"/>
<rect x="653.5" y="228.8" width="27.1" height="27.1" fill="rgb(175,175,175)"/>
<rect x="680.0" y="228.8" width="27.1" height="27.1" fill="rgb(175,175,175)"/>
<rect x="706.5" y="228.8" width="27.1" height="27.1" fill="rgb(175,175,175)"/>
<rect x="468.3" y="255.3" width="27.1" height="27.1" fill="rgb(240,240,240)"/>
<rect x="494.7" y="255.3" width="27.1" height="27.1" fill="rgb(240,240,240)"/>
<rect x="521.2" y="255.3" width="27.1" height="27.1" fill="rgb(240,240,240)"/>
<rect x="547.7" y="255.3" width="27.1" height="27.1" fill="rgb(240,240,240)"/>
<rect x="574.1" y="255.3" width="27.1" height="27.1" fill="rgb(240,240,240)"/>
<rect x="600.6" y="255.3" width="27.1" height="27.1" fill="rgb(235,235,235)"/>
<rect x="627.1" y="255.3" width="27.1" height="27.1" fill="rgb(225,225,225)"/>
<rect x="653.5" y="255.3" width="27.1" height="27.1" fill="rgb(175,175,175)"/>
<rect x="680.0" y="255.3" width="27.1" height="27.1" fill="rgb(175,175,175)"/>
<rect x="706.5" y="255.3" width="27.1" height="27.1" fill="rgb(175,175,175)"/>
<rect x="468.3" y="281.8" width="27.1" height="27.1" fill="rgb(235,235,235)"/>
<rect x="494.7" y="281.8" width="27.1" height="27.1" fill="rgb(235,235,235)"/>
<rect x="521.2" y="281.8" width="27.1" height="27.1" fill="rgb(235,235,235)"/>
<rect x="547.7" y="281.8" width="27.1" height="27.1" fill="rgb(225,225,225)"/>
<rect x="574.1" y="281.8" width="27.1" height="27.1" fill="rgb(205,205,205)"/>
<rect x="600.6" y="281.8" width="27.1" height="27.1" fill="rgb(190,190,190)"/>
<rect x="627.1" y="281.8" width="27.1" height="27.1" fill="rgb(160,160,160)"/>
<rect x="653.5" y="281.8" width="27.1" height="27.1" fill="rgb(110,110,110)"/>
<rect x="680.0" y="281.8" width="27.1" height="27.1" fill="rgb(110,110,110)"/>
<rect x="706.5" y="281.8" width="27.1" height="27.1" fill="rgb(110,110,110)"/>
<rect x="468.3" y="308.3" width="27.1" height="27.1" fill="rgb(171,171,171)"/>
<rect x="494.7" y="308.3" width="27.1" height="27.1" fill="rgb(171,171,171)"/>
<rect x="521.2" y="308.3" width="27.1" height="27.1" fill="rgb(171,171,171)"/>
<rect x="547.7" y="308.3" width="27.1" height="27.1" fill="rgb(154,154,154)"/>
<rect x="574.1" y="308.3" width="27.1" height="27.1" fill="rgb(140,140,140)"/>
<rect x="600.6" y="308.3" width="27.1" height="27.1" fill="rgb(123,123,123)"/>
<rect x="627.1" y="308.3" width="27.1" height="27.1" fill="rgb(96,96,96)"/>
<rect x="653.5" y="308.3" width="27.1" height="27.1" fill="rgb(61,61,61)"/>
<rect x="680.0" y="308.3" width="27.1" height="27.1" fill="rgb(61,61,61)"/>
<rect x="706.5" y="308.3" width="27.1" height="27.1" fill="rgb(61,61,61)"/>
<rect x="468.3" y="334.8" width="27.1" height="27.1" fill="rgb(117,117,117)"/>
<rect x="494.7" y="334.8" width="27.1" height="27.1" fill="rgb(117,117,117)"/>
<rect x="521.2" y="334.8" width="27.1" height="27.1" fill="rgb(117,117,117)"/>
<rect x="547.7" y="334.8" width="27.1" height="27.1" fill="rgb(105,105,105)"/>
<rect x="574.1" y="334.8" width="27.1" height="27.1" fill="rgb(89,89,89)"/>
<rect x="600.6" y="334.8" width="27.1" height="27.1" fill="rgb(74,74,74)"/>
<rect x="627.1" y="334.8" width="27.1" height="27.1" fill="rgb(50,50,50)"/>
<rect x="653.5" y="334.8" width="27.1" height="27.1" fill="rgb(31,31,31)"/>
<rect x="680.0" y="334.8" width="27.1" height="27.1" fill="rgb(31,31,31)"/>
<rect x="706.5" y="334.8" width="27.1" height="27.1" fill="rgb(31,31,31)"/>
<rect x="468.3" y="361.2" width="27.1" height="27.1" fill="rgb(88,88,88)"/>
<rect x="494.7" y="361.2" width="27.1" height="27.1" fill="rgb(88,88,88)"/>
<rect x="521.2" y="361.2" width="27.1" height="27.1" fill="rgb(88,88,88)"/>
<rect x="547.7" y="361.2" width="27.1" height="27.1" fill="rgb(77,77,77)"/>
<rect x="574.1" y="361.2" width="27.1" height="27.1" fill="rgb(62,62,62)"/>
<rect x="600.6" y="361.2" width="27.1" height="27.1" fill="rgb(44,44,44)"/>
<rect x="627.1" y="361.2" width="27.1" height="27.1" fill="rgb(29,29,29)"/>
<rect x="653.5" y="361.2" width="27.1" height="27.1" fill="rgb(14,14,14)"/>
<rect x="680.0" y="361.2" width="27.1" height="27.1" fill="rgb(14,14,14)"/>
<rect x="706.5" y="361.2" width="27.1" height="27.1" fill="rgb(14,14,14)"/>
<rect x="468.3" y="387.7" width="27.1" height="27.1" fill="rgb(72,72,72)"/>
<rect x="494.7" y="387.7" width="27.1" height="27.1" fill="rgb(72,72,72)"/>
<rect x="521.2" y="387.7" width="27.1" height="27.1" fill="rgb(72,72,72)"/>
<rect x="547.7" y="387.7" width="27.1" height="27.1" fill="rgb(61,61,61)"/>
<rect x="574.1" y="387.7" width="27.1" height="27.1" fill="rgb(46,46,46)"/>
<rect x="600.6" y="387.7" width="27.1" height="27.1" fill="rgb(32,32,32)"/>
<rect x="627.1" y="387.7" width="27.1" height="27.1" fill="rgb(18,18,18)"/>
<rect x="653.5" y="387.7" width="27.1" height="27.1" fill="rgb(7,7,7)"/>
<rect x="680.0" y="387.7" width="27.1" height="27.1" fill="rgb(7,7,7)"/>
<rect x="706.5" y="387.7" width="27.1" height="27.1" fill="rgb(7,7,7)"/>
<rect x="468.3" y="414.2" width="27.1" height="27.1" fill="rgb(72,72,72)"/>
<rect x="494.7" y="414.2" width="27.1" height="27.1" fill="rgb(72,72,72)"/>
<rect x="521.2" y="414.2" width="27.1" height="27.1" fill="rgb(72,72,72)"/>
<rect x="547.7" y="414.2" width="27.1" height="27.1" fill="rgb(61,61,61)"/>
<rect x="574.1" y="414.2" width="27.1" height="27.1" fill="rgb(46,46,46)"/>
<rect x="600.6" y="414.2" width="27.1" height="27.1" fill="rgb(32,32,32)"/>
<rect x="627.1" y="414.2" width="27.1" height="27.1" fill="rgb(18,18,18)"/>
<rect x="653.5" y="414.2" width="27.1" height="27.1" fill="rgb(7,7,7)"/>
<rect x="680.0" y="414.2" width="27.1" height="27.1" fill="rgb(7,7,7)"/>
<rect x="706.5" y="414.2" width="27.1" height="27.1" fill="rgb(7,7,7)"/>
<rect x="468.3" y="440.7" width="27.1" height="27.1" fill="rgb(72,72,72)"/>
<rect x="494.7" y="440.7" width="27.1" height="27.1" fill="rgb(72,72,72)"/>
<rect x="521.2" y="440.7" width="27.1" height="27.1" fill="rgb(72,72,72)"/>
<rect x="547.7" y="440.7" width="27.1" height="27.1" fill="rgb(61,61,61)"/>
<rect x="574.1" y="440.7" width="27.1" height="27.1" fill="rgb(46,46,46)"/>
<rect x="600.6" y="440.7" width="27.1" height="27.1" fill="rgb(32,32,32)"/>
<rect x="627.1" y="440.7" width="27.1" height="27.1" fill="rgb(18,18,18)"/>
<rect x="653.5" y="440.7" width="27.1" height="27.1" fill="rgb(7,7,7)"/>
<rect x="680.0" y="440.7" width="27.1" height="27.1" fill="rgb(7,7,7)"/>
<rect x="706.5" y="440.7" width="27.1" height="27.1" fill="rgb(7,7,7)"/>
</g>
<line x1="530" y1="335" x2="575" y2="308" stroke="#000" stroke-width="3" stroke-opacity="0.25" stroke-linecap="round" filter="url(#tblur)"/>
<line x1="560" y1="320" x2="600" y2="292" stroke="#fff" stroke-width="3" stroke-opacity="0.25" stroke-linecap="round" filter="url(#tblur)"/>
<line x1="585" y1="296" x2="640" y2="275" stroke="#000" stroke-width="3" stroke-opacity="0.2" stroke-linecap="round" filter="url(#tblur)"/>
<line x1="600" y1="300" x2="650" y2="290" stroke="#000" stroke-width="3" stroke-opacity="0.2" stroke-linecap="round" filter="url(#tblur)"/>
<line x1="545" y1="360" x2="600" y2="340" stroke="#000" stroke-width="4" stroke-opacity="0.2" stroke-linecap="round" filter="url(#tblur)"/>
<polygon points="518.2,252.3 521.2,323.7 542.4,311.5 566.8,296.9 581.4,282.3 610.7,270.0 647.3,256.7 655.0,254.0 683.0,252.3" fill="#f1f1f1" filter="url(#blur1)"/>
</g>
<g clip-path="url(#cpc5)">
<rect x="31.4" y="420.1" width="158.5" height="156.5" fill="#700f0e"/>
<polygon points="29.4,435.2 35.8,435.9 39.8,435.6 44.6,435.8 50.8,435.1 53.9,436.0 58.6,435.9 61.6,435.5 67.5,435.3 74.3,436.1 77.4,435.0 82.6,436.1 87.1,435.3 91.8,435.0 95.7,435.5 100.7,435.3 104.6,435.3 109.4,435.3 112.5,436.0 117.7,435.8 121.5,436.2 127.9,435.1 132.2,435.9 138.1,436.1 142.8,436.0 148.5,435.4 153.8,436.1 160.2,435.6 165.5,435.0 169.5,436.0 174.2,435.2 179.4,435.8 185.1,435.4 189.8,435.6 192.1,510.6 187.0,510.6 183.8,510.8 178.3,510.5 174.3,511.3 171.2,510.4 167.9,511.2 161.5,510.7 155.2,511.4 149.0,511.4 143.7,510.6 139.8,510.4 135.0,511.1 129.5,511.0 125.1,510.8 120.1,511.0 116.3,511.1 109.9,510.5 105.2,511.1 100.1,511.4 94.1,511.5 87.8,511.3 84.8,511.5 79.6,510.7 74.8,511.1 68.0,511.0 64.0,511.4 58.9,511.3 52.0,511.0 48.3,510.9 42.9,511.6 37.1,510.5 34.0,511.0 29.4,511.0" fill="#f34334"/>
<polyline points="29.4,435.2 35.8,435.9 39.8,435.6 44.6,435.8 50.8,435.1 53.9,436.0 58.6,435.9 61.6,435.5 67.5,435.3 74.3,436.1 77.4,435.0 82.6,436.1 87.1,435.3 91.8,435.0 95.7,435.5 100.7,435.3 104.6,435.3 109.4,435.3 112.5,436.0 117.7,435.8 121.5,436.2 127.9,435.1 132.2,435.9 138.1,436.1 142.8,436.0 148.5,435.4 153.8,436.1 160.2,435.6 165.5,435.0 169.5,436.0 174.2,435.2 179.4,435.8 185.1,435.4 189.8,435.6" fill="none" stroke="#d6d654" stroke-width="1.15" stroke-linejoin="round"/>
<polyline points="29.4,511.0 34.0,511.0 37.1,510.5 42.9,511.6 48.3,510.9 52.0,511.0 58.9,511.3 64.0,511.4 68.0,511.0 74.8,511.1 79.6,510.7 84.8,511.5 87.8,511.3 94.1,511.5 100.1,511.4 105.2,511.1 109.9,510.5 116.3,511.1 120.1,511.0 125.1,510.8 129.5,511.0 135.0,511.1 139.8,510.4 143.7,510.6 149.0,511.4 155.2,511.4 161.5,510.7 167.9,511.2 171.2,510.4 174.3,511.3 178.3,510.5 183.8,510.8 187.0,510.6 192.1,510.6" fill="none" stroke="#d6d654" stroke-width="1.15" stroke-linejoin="round"/>
<polygon points="29.4,534.3 34.2,533.8 39.1,533.4 43.7,533.9 47.4,533.5 54.0,534.0 57.8,534.1 64.1,533.4 67.2,533.6 73.1,533.6 78.9,534.2 84.1,533.7 91.0,534.4 96.0,533.7 101.6,533.9 106.9,533.8 112.5,533.5 116.6,534.6 123.1,533.8 129.6,533.8 136.3,534.3 141.0,533.7 144.0,534.5 147.2,534.4 154.0,534.1 157.7,534.4 164.6,534.2 169.7,533.9 174.0,533.6 179.7,533.9 183.5,533.5 189.2,533.8 194.2,533.8 190.2,549.7 186.5,549.5 181.8,550.6 177.9,549.4 171.3,549.5 168.0,550.2 164.9,550.4 158.8,549.7 154.0,550.5 148.7,550.5 144.6,549.5 140.7,550.1 136.2,550.3 130.8,549.8 124.4,550.3 118.0,549.5 114.8,549.5 109.6,549.6 103.1,550.5 97.7,550.4 93.5,549.8 89.0,550.4 83.6,550.3 79.8,550.5 76.1,549.5 70.2,549.7 63.2,550.0 57.5,550.5 53.1,550.5 46.8,550.2 42.9,549.8 36.8,550.6 32.5,549.6 29.4,550.5" fill="#f34334"/>
<polyline points="29.4,534.3 34.2,533.8 39.1,533.4 43.7,533.9 47.4,533.5 54.0,534.0 57.8,534.1 64.1,533.4 67.2,533.6 73.1,533.6 78.9,534.2 84.1,533.7 91.0,534.4 96.0,533.7 101.6,533.9 106.9,533.8 112.5,533.5 116.6,534.6 123.1,533.8 129.6,533.8 136.3,534.3 141.0,533.7 144.0,534.5 147.2,534.4 154.0,534.1 157.7,534.4 164.6,534.2 169.7,533.9 174.0,533.6 179.7,533.9 183.5,533.5 189.2,533.8 194.2,533.8" fill="none" stroke="#d6d654" stroke-width="1.15" stroke-linejoin="round"/>
<polyline points="29.4,550.5 32.5,549.6 36.8,550.6 42.9,549.8 46.8,550.2 53.1,550.5 57.5,550.5 63.2,550.0 70.2,549.7 76.1,549.5 79.8,550.5 83.6,550.3 89.0,550.4 93.5,549.8 97.7,550.4 103.1,550.5 109.6,549.6 114.8,549.5 118.0,549.5 124.4,550.3 130.8,549.8 136.2,550.3 140.7,550.1 144.6,549.5 148.7,550.5 154.0,550.5 158.8,549.7 164.9,550.4 168.0,550.2 171.3,549.5 177.9,549.4 181.8,550.6 186.5,549.5 190.2,549.7" fill="none" stroke="#d6d654" stroke-width="1.15" stroke-linejoin="round"/>
</g>
<g clip-path="url(#cpc6)">
<rect x="195.5" y="420" width="157.6" height="156.6" fill="#700f0e"/>
<polygon points="193.5,434.5 199.9,435.2 203.9,434.9 208.7,435.1 214.9,434.4 218.0,435.3 222.7,435.2 225.7,434.8 231.6,434.6 238.4,435.4 241.5,434.3 246.7,435.4 251.2,434.6 255.9,434.3 259.8,434.8 264.8,434.6 268.7,434.6 273.5,434.6 276.6,435.3 281.8,435.1 285.6,435.5 292.0,434.4 296.3,435.2 302.2,435.4 306.9,435.3 312.6,434.7 317.9,435.4 324.3,434.9 329.6,434.3 333.6,435.3 338.3,434.5 343.5,435.1 349.2,434.7 353.9,434.9 356.2,509.1 351.1,509.1 347.9,509.3 342.4,509.0 338.4,509.8 335.3,508.9 332.0,509.7 325.6,509.2 319.3,509.9 313.1,509.9 307.8,509.1 303.9,508.9 299.1,509.6 293.6,509.5 289.2,509.3 284.2,509.5 280.4,509.6 274.0,509.0 269.3,509.6 264.2,509.9 258.2,510.0 251.9,509.8 248.9,510.0 243.7,509.2 238.9,509.6 232.1,509.5 228.1,509.9 223.0,509.8 216.1,509.5 212.4,509.4 207.0,510.1 201.2,509.0 198.1,509.5 193.5,509.5" fill="#f34334"/>
<polyline points="193.5,434.5 199.9,435.2 203.9,434.9 208.7,435.1 214.9,434.4 218.0,435.3 222.7,435.2 225.7,434.8 231.6,434.6 238.4,435.4 241.5,434.3 246.7,435.4 251.2,434.6 255.9,434.3 259.8,434.8 264.8,434.6 268.7,434.6 273.5,434.6 276.6,435.3 281.8,435.1 285.6,435.5 292.0,434.4 296.3,435.2 302.2,435.4 306.9,435.3 312.6,434.7 317.9,435.4 324.3,434.9 329.6,434.3 333.6,435.3 338.3,434.5 343.5,435.1 349.2,434.7 353.9,434.9" fill="none" stroke="#d6d654" stroke-width="1.3" stroke-linejoin="round"/>
<polyline points="193.5,509.5 198.1,509.5 201.2,509.0 207.0,510.1 212.4,509.4 216.1,509.5 223.0,509.8 228.1,509.9 232.1,509.5 238.9,509.6 243.7,509.2 248.9,510.0 251.9,509.8 258.2,510.0 264.2,509.9 269.3,509.6 274.0,509.0 280.4,509.6 284.2,509.5 289.2,509.3 293.6,509.5 299.1,509.6 303.9,508.9 307.8,509.1 313.1,509.9 319.3,509.9 325.6,509.2 332.0,509.7 335.3,508.9 338.4,509.8 342.4,509.0 347.9,509.3 351.1,509.1 356.2,509.1" fill="none" stroke="#d6d654" stroke-width="1.3" stroke-linejoin="round"/>
<polygon points="193.5,533.3 198.3,532.8 203.2,532.4 207.8,532.9 211.5,532.5 218.1,533.0 221.9,533.1 228.2,532.4 231.3,532.6 237.2,532.6 243.0,533.2 248.2,532.7 255.1,533.4 260.1,532.7 265.7,532.9 271.0,532.8 276.6,532.5 280.7,533.6 287.2,532.8 293.7,532.8 300.4,533.3 305.1,532.7 308.1,533.5 311.3,533.4 318.1,533.1 321.8,533.4 328.7,533.2 333.8,532.9 338.1,532.6 343.8,532.9 347.6,532.5 353.3,532.8 358.3,532.8 354.3,548.3 350.6,548.1 345.9,549.2 342.0,548.0 335.4,548.1 332.1,548.8 329.0,549.0 322.9,548.3 318.1,549.1 312.8,549.1 308.7,548.1 304.8,548.7 300.3,548.9 294.9,548.4 288.5,548.9 282.1,548.1 278.9,548.1 273.7,548.2 267.2,549.1 261.8,549.0 257.6,548.4 253.1,549.0 247.7,548.9 243.9,549.1 240.2,548.1 234.3,548.3 227.3,548.6 221.6,549.1 217.2,549.1 210.9,548.8 207.0,548.4 200.9,549.2 196.6,548.2 193.5,549.1" fill="#f34334"/>
<polyline points="193.5,533.3 198.3,532.8 203.2,532.4 207.8,532.9 211.5,532.5 218.1,533.0 221.9,533.1 228.2,532.4 231.3,532.6 237.2,532.6 243.0,533.2 248.2,532.7 255.1,533.4 260.1,532.7 265.7,532.9 271.0,532.8 276.6,532.5 280.7,533.6 287.2,532.8 293.7,532.8 300.4,533.3 305.1,532.7 308.1,533.5 311.3,533.4 318.1,533.1 321.8,533.4 328.7,533.2 333.8,532.9 338.1,532.6 343.8,532.9 347.6,532.5 353.3,532.8 358.3,532.8" fill="none" stroke="#d6d654" stroke-width="1.3" stroke-linejoin="round"/>
<polyline points="193.5,549.1 196.6,548.2 200.9,549.2 207.0,548.4 210.9,548.8 217.2,549.1 221.6,549.1 227.3,548.6 234.3,548.3 240.2,548.1 243.9,549.1 247.7,548.9 253.1,549.0 257.6,548.4 261.8,549.0 267.2,549.1 273.7,548.2 278.9,548.1 282.1,548.1 288.5,548.9 294.9,548.4 300.3,548.9 304.8,548.7 308.7,548.1 312.8,549.1 318.1,549.1 322.9,548.3 329.0,549.0 332.1,548.8 335.4,548.1 342.0,548.0 345.9,549.2 350.6,548.1 354.3,548.3" fill="none" stroke="#d6d654" stroke-width="1.3" stroke-linejoin="round"/>
</g>
<g clip-path="url(#cpc7)">
<rect x="359.9" y="420" width="156.8" height="156.6" fill="#700f0e"/>
<polygon points="357.9,434.6 364.3,435.3 368.3,435.0 373.1,435.2 379.3,434.5 382.4,435.4 387.1,435.3 390.1,434.9 396.0,434.7 402.8,435.5 405.9,434.4 411.1,435.5 415.6,434.7 420.3,434.4 424.2,434.9 429.2,434.7 433.1,434.7 437.9,434.7 441.0,435.4 446.2,435.2 450.0,435.6 456.4,434.5 460.7,435.3 466.6,435.5 471.3,435.4 477.0,434.8 482.3,435.5 488.7,435.0 494.0,434.4 498.0,435.4 502.7,434.6 507.9,435.2 513.6,434.8 518.3,435.0 520.6,509.6 515.5,509.6 512.3,509.8 506.8,509.5 502.8,510.3 499.7,509.4 496.4,510.2 490.0,509.7 483.7,510.4 477.5,510.4 472.2,509.6 468.3,509.4 463.5,510.1 458.0,510.0 453.6,509.8 448.6,510.0 444.8,510.1 438.4,509.5 433.7,510.1 428.6,510.4 422.6,510.5 416.3,510.3 413.3,510.5 408.1,509.7 403.3,510.1 396.5,510.0 392.5,510.4 387.4,510.3 380.5,510.0 376.8,509.9 371.4,510.6 365.6,509.5 362.5,510.0 357.9,510.0" fill="#f34334"/>
<polyline points="357.9,434.6 364.3,435.3 368.3,435.0 373.1,435.2 379.3,434.5 382.4,435.4 387.1,435.3 390.1,434.9 396.0,434.7 402.8,435.5 405.9,434.4 411.1,435.5 415.6,434.7 420.3,434.4 424.2,434.9 429.2,434.7 433.1,434.7 437.9,434.7 441.0,435.4 446.2,435.2 450.0,435.6 456.4,434.5 460.7,435.3 466.6,435.5 471.3,435.4 477.0,434.8 482.3,435.5 488.7,435.0 494.0,434.4 498.0,435.4 502.7,434.6 507.9,435.2 513.6,434.8 518.3,435.0" fill="none" stroke="#d6d654" stroke-width="1.4" stroke-linejoin="round"/>
<polyline points="357.9,510.0 362.5,510.0 365.6,509.5 371.4,510.6 376.8,509.9 380.5,510.0 387.4,510.3 392.5,510.4 396.5,510.0 403.3,510.1 408.1,509.7 413.3,510.5 416.3,510.3 422.6,510.5 428.6,510.4 433.7,510.1 438.4,509.5 444.8,510.1 448.6,510.0 453.6,509.8 458.0,510.0 463.5,510.1 468.3,509.4 472.2,509.6 477.5,510.4 483.7,510.4 490.0,509.7 496.4,510.2 499.7,509.4 502.8,510.3 506.8,509.5 512.3,509.8 515.5,509.6 520.6,509.6" fill="none" stroke="#d6d654" stroke-width="1.4" stroke-linejoin="round"/>
<polygon points="357.9,533.6 362.7,533.1 367.6,532.7 372.2,533.2 375.9,532.8 382.5,533.3 386.3,533.4 392.6,532.7 395.7,532.9 401.6,532.9 407.4,533.5 412.6,533.0 419.5,533.7 424.5,533.0 430.1,533.2 435.4,533.1 441.0,532.8 445.1,533.9 451.6,533.1 458.1,533.1 464.8,533.6 469.5,533.0 472.5,533.8 475.7,533.7 482.5,533.4 486.2,533.7 493.1,533.5 498.2,533.2 502.5,532.9 508.2,533.2 512.0,532.8 517.7,533.1 522.7,533.1 518.7,548.3 515.0,548.1 510.3,549.2 506.4,548.0 499.8,548.1 496.5,548.8 493.4,549.0 487.3,548.3 482.5,549.1 477.2,549.1 473.1,548.1 469.2,548.7 464.7,548.9 459.3,548.4 452.9,548.9 446.5,548.1 443.3,548.1 438.1,548.2 431.6,549.1 426.2,549.0 422.0,548.4 417.5,549.0 412.1,548.9 408.3,549.1 404.6,548.1 398.7,548.3 391.7,548.6 386.0,549.1 381.6,549.1 375.3,548.8 371.4,548.4 365.3,549.2 361.0,548.2 357.9,549.1" fill="#f34334"/>
<polyline points="357.9,533.6 362.7,533.1 367.6,532.7 372.2,533.2 375.9,532.8 382.5,533.3 386.3,533.4 392.6,532.7 395.7,532.9 401.6,532.9 407.4,533.5 412.6,533.0 419.5,533.7 424.5,533.0 430.1,533.2 435.4,533.1 441.0,532.8 445.1,533.9 451.6,533.1 458.1,533.1 464.8,533.6 469.5,533.0 472.5,533.8 475.7,533.7 482.5,533.4 486.2,533.7 493.1,533.5 498.2,533.2 502.5,532.9 508.2,533.2 512.0,532.8 517.7,533.1 522.7,533.1" fill="none" stroke="#d6d654" stroke-width="1.4" stroke-linejoin="round"/>
<polyline points="357.9,549.1 361.0,548.2 365.3,549.2 371.4,548.4 375.3,548.8 381.6,549.1 386.0,549.1 391.7,548.6 398.7,548.3 404.6,548.1 408.3,549.1 412.1,548.9 417.5,549.0 422.0,548.4 426.2,549.0 431.6,549.1 438.1,548.2 443.3,548.1 446.5,548.1 452.9,548.9 459.3,548.4 464.7,548.9 469.2,548.7 473.1,548.1 477.2,549.1 482.5,549.1 487.3,548.3 493.4,549.0 496.5,548.8 499.8,548.1 506.4,548.0 510.3,549.2 515.0,548.1 518.7,548.3" fill="none" stroke="#d6d654" stroke-width="1.4" stroke-linejoin="round"/>
</g>
<g clip-path="url(#cpc8)">
<rect x="521.9" y="419.3" width="159.1" height="157.3" fill="#700f0e"/>
<polygon points="519.9,433.6 526.3,434.6 530.3,434.2 535.1,434.4 541.3,433.6 544.4,434.7 549.1,434.6 552.1,434.1 558.0,433.8 564.8,434.8 567.9,433.4 573.1,434.9 577.6,433.7 582.3,433.4 586.2,434.1 591.2,433.8 595.1,433.8 599.9,433.9 603.0,434.7 608.2,434.4 612.0,435.0 618.4,433.6 622.7,434.6 628.6,434.9 633.3,434.7 639.0,433.9 644.3,434.8 650.7,434.2 656.0,433.5 660.0,434.7 664.7,433.7 669.9,434.5 675.6,434.0 680.3,434.2 686.4,434.2 687.0,508.0 682.2,508.6 678.1,507.8 673.0,507.8 669.7,508.1 664.2,507.7 660.2,508.7 657.1,507.5 653.8,508.6 647.4,507.9 641.2,508.8 635.0,508.9 629.6,507.8 625.7,507.5 620.9,508.5 615.4,508.4 611.0,508.1 606.1,508.3 602.3,508.4 595.8,507.6 591.1,508.4 586.0,508.8 580.0,508.9 573.8,508.8 570.7,509.0 565.5,507.9 560.7,508.4 553.9,508.3 550.0,508.9 544.8,508.7 537.9,508.3 534.2,508.1 528.8,509.1 523.0,507.6 519.9,508.3" fill="#f34334"/>
<polyline points="519.9,433.6 526.3,434.6 530.3,434.2 535.1,434.4 541.3,433.6 544.4,434.7 549.1,434.6 552.1,434.1 558.0,433.8 564.8,434.8 567.9,433.4 573.1,434.9 577.6,433.7 582.3,433.4 586.2,434.1 591.2,433.8 595.1,433.8 599.9,433.9 603.0,434.7 608.2,434.4 612.0,435.0 618.4,433.6 622.7,434.6 628.6,434.9 633.3,434.7 639.0,433.9 644.3,434.8 650.7,434.2 656.0,433.5 660.0,434.7 664.7,433.7 669.9,434.5 675.6,434.0 680.3,434.2 686.4,434.2" fill="none" stroke="#d6d654" stroke-width="2.0" stroke-linejoin="round"/>
<polyline points="519.9,508.3 523.0,507.6 528.8,509.1 534.2,508.1 537.9,508.3 544.8,508.7 550.0,508.9 553.9,508.3 560.7,508.4 565.5,507.9 570.7,509.0 573.8,508.8 580.0,508.9 586.0,508.8 591.1,508.4 595.8,507.6 602.3,508.4 606.1,508.3 611.0,508.1 615.4,508.4 620.9,508.5 625.7,507.5 629.6,507.8 635.0,508.9 641.2,508.8 647.4,507.9 653.8,508.6 657.1,507.5 660.2,508.7 664.2,507.7 669.7,508.1 673.0,507.8 678.1,507.8 682.2,508.6 687.0,508.0" fill="none" stroke="#d6d654" stroke-width="2.0" stroke-linejoin="round"/>
<polygon points="519.9,531.7 524.4,532.4 528.2,531.9 534.8,532.5 538.6,532.7 544.9,531.7 548.0,531.9 553.8,532.0 559.7,532.8 564.8,532.1 571.7,533.0 576.8,532.1 582.4,532.3 587.7,532.2 593.2,531.8 597.4,533.2 603.9,532.2 610.4,532.2 617.1,532.9 621.8,532.1 624.8,533.1 628.0,533.0 634.8,532.6 638.5,533.1 645.4,532.8 650.4,532.3 654.8,532.0 660.5,532.4 664.3,531.9 670.0,532.2 675.0,532.2 681.5,533.1 684.5,532.0 685.9,547.1 679.3,546.7 673.3,546.9 669.6,546.7 665.0,548.1 661.0,546.6 654.5,546.7 651.1,547.6 648.0,547.8 641.9,546.9 637.1,548.0 631.8,547.9 627.7,546.6 623.8,547.4 619.3,547.8 613.9,547.0 607.6,547.8 601.1,546.6 597.9,546.7 592.7,546.7 586.2,548.0 580.8,547.9 576.6,547.0 572.1,547.8 566.7,547.7 562.9,548.0 559.2,546.6 553.3,546.9 546.4,547.3 540.6,547.9 536.2,548.0 529.9,547.6 526.0,547.0 519.9,548.1" fill="#f34334"/>
<polyline points="519.9,531.7 524.4,532.4 528.2,531.9 534.8,532.5 538.6,532.7 544.9,531.7 548.0,531.9 553.8,532.0 559.7,532.8 564.8,532.1 571.7,533.0 576.8,532.1 582.4,532.3 587.7,532.2 593.2,531.8 597.4,533.2 603.9,532.2 610.4,532.2 617.1,532.9 621.8,532.1 624.8,533.1 628.0,533.0 634.8,532.6 638.5,533.1 645.4,532.8 650.4,532.3 654.8,532.0 660.5,532.4 664.3,531.9 670.0,532.2 675.0,532.2 681.5,533.1 684.5,532.0" fill="none" stroke="#d6d654" stroke-width="2.0" stroke-linejoin="round"/>
<polyline points="519.9,548.1 526.0,547.0 529.9,547.6 536.2,548.0 540.6,547.9 546.4,547.3 553.3,546.9 559.2,546.6 562.9,548.0 566.7,547.7 572.1,547.8 576.6,547.0 580.8,547.9 586.2,548.0 592.7,546.7 597.9,546.7 601.1,546.6 607.6,547.8 613.9,547.0 619.3,547.8 623.8,547.4 627.7,546.6 631.8,547.9 637.1,548.0 641.9,546.9 648.0,547.8 651.1,547.6 654.5,546.7 661.0,546.6 665.0,548.1 669.6,546.7 673.3,546.9 679.3,546.7 685.9,547.1" fill="none" stroke="#d6d654" stroke-width="2.0" stroke-linejoin="round"/>
</g>
<line x1="554.7" y1="445.7" x2="568.8" y2="457.2" stroke="#d6d654" stroke-width="1.6" stroke-linecap="round"/>
<line x1="575" y1="470" x2="577.7" y2="472.5" stroke="#d6d654" stroke-width="1.6" stroke-linecap="round"/>
<line x1="550.9" y1="491.6" x2="553.4" y2="495.5" stroke="#d6d654" stroke-width="1.6" stroke-linecap="round"/>
<line x1="651.8" y1="498" x2="654.4" y2="501.9" stroke="#d6d654" stroke-width="1.6" stroke-linecap="round"/>
<line x1="641.6" y1="480.2" x2="643.5" y2="482.5" stroke="#d6d654" stroke-width="1.6" stroke-linecap="round"/>
<line x1="668.4" y1="473.8" x2="670" y2="476.5" stroke="#d6d654" stroke-width="1.6" stroke-linecap="round"/>
<line x1="550.9" y1="436.7" x2="554.7" y2="440.5" stroke="#d6d654" stroke-width="1.6" stroke-linecap="round"/>
<line x1="600" y1="436" x2="603" y2="439" stroke="#d6d654" stroke-width="1.6" stroke-linecap="round"/>
<line x1="655" y1="436" x2="658" y2="440" stroke="#d6d654" stroke-width="1.6" stroke-linecap="round"/>
<line x1="623" y1="475" x2="625" y2="478" stroke="#d6d654" stroke-width="1.6" stroke-linecap="round"/>
<line x1="393.3" y1="447" x2="399.7" y2="452" stroke="#d6d654" stroke-width="1" stroke-linecap="round"/>
<g clip-path="url(#cpc2)">
<rect x="194.3" y="581.1" width="159.0" height="158.5" fill="#700f0e"/>
<polygon points="192.3,596.2 198.7,596.9 202.7,596.6 207.5,596.8 213.7,596.1 216.8,597.0 221.5,596.9 224.5,596.5 230.4,596.3 237.2,597.1 240.3,596.0 245.5,597.1 250.0,596.3 254.7,596.0 258.6,596.5 263.6,596.3 267.5,596.3 272.3,596.3 275.4,597.0 280.6,596.8 284.4,597.2 290.8,596.1 295.1,596.9 301.0,597.1 305.7,597.0 311.4,596.4 316.7,597.1 323.1,596.6 328.4,596.0 332.4,597.0 337.1,596.2 342.3,596.8 348.0,596.4 352.7,596.6 358.8,596.6 354.6,639.8 350.5,639.1 345.4,639.1 342.1,639.3 336.6,639.0 332.6,639.8 329.5,638.9 326.2,639.7 319.8,639.2 313.6,639.9 307.4,639.9 302.0,639.1 298.1,638.9 293.3,639.6 287.8,639.5 283.4,639.3 278.5,639.5 274.7,639.6 268.2,639.0 263.5,639.6 258.4,639.9 252.4,640.0 246.2,639.8 243.1,640.0 237.9,639.2 233.1,639.6 226.3,639.5 222.4,639.9 217.2,639.8 210.3,639.5 206.6,639.4 201.2,640.1 195.4,639.0 192.3,639.5" fill="#f34334"/>
<polyline points="192.3,596.2 198.7,596.9 202.7,596.6 207.5,596.8 213.7,596.1 216.8,597.0 221.5,596.9 224.5,596.5 230.4,596.3 237.2,597.1 240.3,596.0 245.5,597.1 250.0,596.3 254.7,596.0 258.6,596.5 263.6,596.3 267.5,596.3 272.3,596.3 275.4,597.0 280.6,596.8 284.4,597.2 290.8,596.1 295.1,596.9 301.0,597.1 305.7,597.0 311.4,596.4 316.7,597.1 323.1,596.6 328.4,596.0 332.4,597.0 337.1,596.2 342.3,596.8 348.0,596.4 352.7,596.6 358.8,596.6" fill="none" stroke="#d6d654" stroke-width="1.15" stroke-linejoin="round"/>
<polyline points="192.3,639.5 195.4,639.0 201.2,640.1 206.6,639.4 210.3,639.5 217.2,639.8 222.4,639.9 226.3,639.5 233.1,639.6 237.9,639.2 243.1,640.0 246.2,639.8 252.4,640.0 258.4,639.9 263.5,639.6 268.2,639.0 274.7,639.6 278.5,639.5 283.4,639.3 287.8,639.5 293.3,639.6 298.1,638.9 302.0,639.1 307.4,639.9 313.6,639.9 319.8,639.2 326.2,639.7 329.5,638.9 332.6,639.8 336.6,639.0 342.1,639.3 345.4,639.1 350.5,639.1 354.6,639.8" fill="none" stroke="#d6d654" stroke-width="1.15" stroke-linejoin="round"/>
<polygon points="192.3,646.4 197.2,646.0 201.7,646.5 205.5,646.1 212.1,646.6 215.9,646.7 222.2,646.0 225.3,646.2 231.1,646.2 237.0,646.8 242.1,646.3 249.0,647.0 254.1,646.3 259.7,646.5 265.0,646.4 270.5,646.1 274.7,647.2 281.2,646.4 287.7,646.4 294.4,646.9 299.1,646.3 302.1,647.1 305.3,647.0 312.1,646.7 315.8,647.0 322.7,646.8 327.7,646.5 332.1,646.2 337.8,646.5 341.6,646.1 347.3,646.4 352.3,646.4 358.7,647.1 356.0,673.5 350.0,673.7 346.4,673.5 341.7,674.6 337.7,673.4 331.2,673.5 327.8,674.2 324.8,674.4 318.6,673.7 313.8,674.5 308.5,674.5 304.5,673.5 300.6,674.1 296.0,674.3 290.6,673.8 284.3,674.3 277.8,673.5 274.7,673.5 269.4,673.6 262.9,674.5 257.5,674.4 253.3,673.8 248.8,674.4 243.4,674.3 239.6,674.5 235.9,673.5 230.0,673.7 223.1,674.0 217.3,674.5 212.9,674.5 206.6,674.2 202.7,673.8 196.6,674.6 192.3,673.6" fill="#f34334"/>
<polyline points="192.3,646.4 197.2,646.0 201.7,646.5 205.5,646.1 212.1,646.6 215.9,646.7 222.2,646.0 225.3,646.2 231.1,646.2 237.0,646.8 242.1,646.3 249.0,647.0 254.1,646.3 259.7,646.5 265.0,646.4 270.5,646.1 274.7,647.2 281.2,646.4 287.7,646.4 294.4,646.9 299.1,646.3 302.1,647.1 305.3,647.0 312.1,646.7 315.8,647.0 322.7,646.8 327.7,646.5 332.1,646.2 337.8,646.5 341.6,646.1 347.3,646.4 352.3,646.4 358.7,647.1" fill="none" stroke="#d6d654" stroke-width="1.15" stroke-linejoin="round"/>
<polyline points="192.3,673.6 196.6,674.6 202.7,673.8 206.6,674.2 212.9,674.5 217.3,674.5 223.1,674.0 230.0,673.7 235.9,673.5 239.6,674.5 243.4,674.3 248.8,674.4 253.3,673.8 257.5,674.4 262.9,674.5 269.4,673.6 274.7,673.5 277.8,673.5 284.3,674.3 290.6,673.8 296.0,674.3 300.6,674.1 304.5,673.5 308.5,674.5 313.8,674.5 318.6,673.7 324.8,674.4 327.8,674.2 331.2,673.5 337.7,673.4 341.7,674.6 346.4,673.5 350.0,673.7 356.0,673.5" fill="none" stroke="#d6d654" stroke-width="1.15" stroke-linejoin="round"/>
<polygon points="192.3,696.4 199.2,697.0 203.4,696.2 208.3,696.0 213.9,695.9 216.9,697.1 221.1,696.6 225.9,696.3 229.1,697.0 236.0,697.1 239.5,696.2 244.9,697.1 250.1,696.7 255.8,696.2 260.9,696.3 264.9,696.0 269.0,697.1 273.8,696.7 279.4,697.0 284.0,696.3 288.3,696.3 294.7,697.0 298.9,696.3 304.1,696.6 309.4,696.2 312.5,696.2 315.8,696.6 319.1,696.0 324.6,696.2 330.8,696.5 337.3,696.1 342.3,696.9 345.6,697.0 349.3,696.8 356.2,696.9 358.1,714.0 353.9,714.3 347.8,713.4 341.3,713.8 338.0,713.3 332.4,713.5 325.8,714.3 320.5,713.7 316.6,713.8 311.6,713.5 305.7,714.0 301.0,714.0 296.0,713.8 292.9,713.5 287.5,713.7 282.9,714.2 278.9,713.4 275.3,713.6 272.1,713.9 267.4,714.0 264.3,713.5 259.9,713.7 255.1,714.2 250.0,713.9 243.7,714.4 240.5,713.5 234.8,714.1 231.2,713.7 227.5,714.0 221.5,714.2 214.8,714.2 208.2,713.6 205.1,714.3 201.5,714.3 197.4,714.3 192.3,713.3" fill="#f34334"/>
<polyline points="192.3,696.4 199.2,697.0 203.4,696.2 208.3,696.0 213.9,695.9 216.9,697.1 221.1,696.6 225.9,696.3 229.1,697.0 236.0,697.1 239.5,696.2 244.9,697.1 250.1,696.7 255.8,696.2 260.9,696.3 264.9,696.0 269.0,697.1 273.8,696.7 279.4,697.0 284.0,696.3 288.3,696.3 294.7,697.0 298.9,696.3 304.1,696.6 309.4,696.2 312.5,696.2 315.8,696.6 319.1,696.0 324.6,696.2 330.8,696.5 337.3,696.1 342.3,696.9 345.6,697.0 349.3,696.8 356.2,696.9" fill="none" stroke="#d6d654" stroke-width="1.15" stroke-linejoin="round"/>
<polyline points="192.3,713.3 197.4,714.3 201.5,714.3 205.1,714.3 208.2,713.6 214.8,714.2 221.5,714.2 227.5,714.0 231.2,713.7 234.8,714.1 240.5,713.5 243.7,714.4 250.0,713.9 255.1,714.2 259.9,713.7 264.3,713.5 267.4,714.0 272.1,713.9 275.3,713.6 278.9,713.4 282.9,714.2 287.5,713.7 292.9,713.5 296.0,713.8 301.0,714.0 305.7,714.0 311.6,713.5 316.6,713.8 320.5,713.7 325.8,714.3 332.4,713.5 338.0,713.3 341.3,713.8 347.8,713.4 353.9,714.3 358.1,714.0" fill="none" stroke="#d6d654" stroke-width="1.15" stroke-linejoin="round"/>
</g>
<g clip-path="url(#cpc3)">
<rect x="358.4" y="582.3" width="158.5" height="158.1" fill="#700f0e"/>
<polygon points="356.4,595.1 362.8,595.8 366.8,595.5 371.6,595.7 377.8,595.0 380.9,595.9 385.6,595.8 388.6,595.4 394.5,595.2 401.3,596.0 404.4,594.9 409.6,596.0 414.1,595.2 418.8,594.9 422.7,595.4 427.7,595.2 431.6,595.2 436.4,595.2 439.5,595.9 444.7,595.7 448.5,596.1 454.9,595.0 459.2,595.8 465.1,596.0 469.8,595.9 475.5,595.3 480.8,596.0 487.2,595.5 492.5,594.9 496.5,595.9 501.2,595.1 506.4,595.7 512.1,595.3 516.8,595.5 519.1,638.6 514.0,638.6 510.8,638.8 505.3,638.5 501.3,639.3 498.2,638.4 494.9,639.2 488.5,638.7 482.2,639.4 476.0,639.4 470.7,638.6 466.8,638.4 462.0,639.1 456.5,639.0 452.1,638.8 447.1,639.0 443.3,639.1 436.9,638.5 432.2,639.1 427.1,639.4 421.1,639.5 414.8,639.3 411.8,639.5 406.6,638.7 401.8,639.1 395.0,639.0 391.0,639.4 385.9,639.3 379.0,639.0 375.3,638.9 369.9,639.6 364.1,638.5 361.0,639.0 356.4,639.0" fill="#f34334"/>
<polyline points="356.4,595.1 362.8,595.8 366.8,595.5 371.6,595.7 377.8,595.0 380.9,595.9 385.6,595.8 388.6,595.4 394.5,595.2 401.3,596.0 404.4,594.9 409.6,596.0 414.1,595.2 418.8,594.9 422.7,595.4 427.7,595.2 431.6,595.2 436.4,595.2 439.5,595.9 444.7,595.7 448.5,596.1 454.9,595.0 459.2,595.8 465.1,596.0 469.8,595.9 475.5,595.3 480.8,596.0 487.2,595.5 492.5,594.9 496.5,595.9 501.2,595.1 506.4,595.7 512.1,595.3 516.8,595.5" fill="none" stroke="#d6d654" stroke-width="1.4" stroke-linejoin="round"/>
<polyline points="356.4,639.0 361.0,639.0 364.1,638.5 369.9,639.6 375.3,638.9 379.0,639.0 385.9,639.3 391.0,639.4 395.0,639.0 401.8,639.1 406.6,638.7 411.8,639.5 414.8,639.3 421.1,639.5 427.1,639.4 432.2,639.1 436.9,638.5 443.3,639.1 447.1,639.0 452.1,638.8 456.5,639.0 462.0,639.1 466.8,638.4 470.7,638.6 476.0,639.4 482.2,639.4 488.5,638.7 494.9,639.2 498.2,638.4 501.3,639.3 505.3,638.5 510.8,638.8 514.0,638.6 519.1,638.6" fill="none" stroke="#d6d654" stroke-width="1.4" stroke-linejoin="round"/>
<polygon points="356.4,646.9 361.2,646.4 366.1,646.0 370.7,646.5 374.4,646.1 381.0,646.6 384.8,646.7 391.1,646.0 394.2,646.2 400.1,646.2 405.9,646.8 411.1,646.3 418.0,647.0 423.0,646.3 428.6,646.5 433.9,646.4 439.5,646.1 443.6,647.2 450.1,646.4 456.6,646.4 463.3,646.9 468.0,646.3 471.0,647.1 474.2,647.0 481.0,646.7 484.7,647.0 491.6,646.8 496.7,646.5 501.0,646.2 506.7,646.5 510.5,646.1 516.2,646.4 521.2,646.4 517.2,673.7 513.5,673.5 508.8,674.6 504.9,673.4 498.3,673.5 495.0,674.2 491.9,674.4 485.8,673.7 481.0,674.5 475.7,674.5 471.6,673.5 467.7,674.1 463.2,674.3 457.8,673.8 451.4,674.3 445.0,673.5 441.8,673.5 436.6,673.6 430.1,674.5 424.7,674.4 420.5,673.8 416.0,674.4 410.6,674.3 406.8,674.5 403.1,673.5 397.2,673.7 390.2,674.0 384.5,674.5 380.1,674.5 373.8,674.2 369.9,673.8 363.8,674.6 359.5,673.6 356.4,674.5" fill="#f34334"/>
<polyline points="356.4,646.9 361.2,646.4 366.1,646.0 370.7,646.5 374.4,646.1 381.0,646.6 384.8,646.7 391.1,646.0 394.2,646.2 400.1,646.2 405.9,646.8 411.1,646.3 418.0,647.0 423.0,646.3 428.6,646.5 433.9,646.4 439.5,646.1 443.6,647.2 450.1,646.4 456.6,646.4 463.3,646.9 468.0,646.3 471.0,647.1 474.2,647.0 481.0,646.7 484.7,647.0 491.6,646.8 496.7,646.5 501.0,646.2 506.7,646.5 510.5,646.1 516.2,646.4 521.2,646.4" fill="none" stroke="#d6d654" stroke-width="1.4" stroke-linejoin="round"/>
<polyline points="356.4,674.5 359.5,673.6 363.8,674.6 369.9,673.8 373.8,674.2 380.1,674.5 384.5,674.5 390.2,674.0 397.2,673.7 403.1,673.5 406.8,674.5 410.6,674.3 416.0,674.4 420.5,673.8 424.7,674.4 430.1,674.5 436.6,673.6 441.8,673.5 445.0,673.5 451.4,674.3 457.8,673.8 463.2,674.3 467.7,674.1 471.6,673.5 475.7,674.5 481.0,674.5 485.8,673.7 491.9,674.4 495.0,674.2 498.3,673.5 504.9,673.4 508.8,674.6 513.5,673.5 517.2,673.7" fill="none" stroke="#d6d654" stroke-width="1.4" stroke-linejoin="round"/>
<polygon points="356.4,695.5 363.0,695.9 369.9,696.5 374.1,695.7 379.0,695.5 384.6,695.4 387.7,696.6 391.8,696.1 396.6,695.8 399.9,696.5 406.8,696.6 410.2,695.7 415.7,696.6 420.9,696.2 426.5,695.7 431.7,695.8 435.7,695.5 439.8,696.6 444.6,696.2 450.1,696.5 454.7,695.8 459.0,695.8 465.4,696.5 469.6,695.8 474.8,696.1 480.2,695.7 483.3,695.7 486.5,696.1 489.8,695.5 495.4,695.7 501.5,696.0 508.0,695.6 513.0,696.4 516.3,696.5 520.0,696.3 522.3,712.8 516.2,711.9 509.7,712.3 506.4,711.8 500.8,712.0 494.1,712.8 488.9,712.2 485.0,712.3 480.0,712.0 474.1,712.5 469.3,712.5 464.3,712.3 461.3,712.0 455.9,712.2 451.3,712.7 447.2,711.9 443.7,712.1 440.4,712.4 435.8,712.5 432.7,712.0 428.3,712.2 423.5,712.7 418.3,712.4 412.1,712.9 408.8,712.0 403.2,712.6 399.5,712.2 395.8,712.5 389.8,712.7 383.2,712.7 376.6,712.1 373.5,712.8 369.9,712.8 365.7,712.8 360.7,711.8 356.4,712.7" fill="#f34334"/>
<polyline points="356.4,695.5 363.0,695.9 369.9,696.5 374.1,695.7 379.0,695.5 384.6,695.4 387.7,696.6 391.8,696.1 396.6,695.8 399.9,696.5 406.8,696.6 410.2,695.7 415.7,696.6 420.9,696.2 426.5,695.7 431.7,695.8 435.7,695.5 439.8,696.6 444.6,696.2 450.1,696.5 454.7,695.8 459.0,695.8 465.4,696.5 469.6,695.8 474.8,696.1 480.2,695.7 483.3,695.7 486.5,696.1 489.8,695.5 495.4,695.7 501.5,696.0 508.0,695.6 513.0,696.4 516.3,696.5 520.0,696.3" fill="none" stroke="#d6d654" stroke-width="1.4" stroke-linejoin="round"/>
<polyline points="356.4,712.7 360.7,711.8 365.7,712.8 369.9,712.8 373.5,712.8 376.6,712.1 383.2,712.7 389.8,712.7 395.8,712.5 399.5,712.2 403.2,712.6 408.8,712.0 412.1,712.9 418.3,712.4 423.5,712.7 428.3,712.2 432.7,712.0 435.8,712.5 440.4,712.4 443.7,712.1 447.2,711.9 451.3,712.7 455.9,712.2 461.3,712.0 464.3,712.3 469.3,712.5 474.1,712.5 480.0,712.0 485.0,712.3 488.9,712.2 494.1,712.8 500.8,712.0 506.4,711.8 509.7,712.3 516.2,711.9 522.3,712.8" fill="none" stroke="#d6d654" stroke-width="1.4" stroke-linejoin="round"/>
</g>
<g clip-path="url(#cpc4)">
<rect x="521.2" y="583.2" width="159.0" height="158.4" fill="#700f0e"/>
<rect x="521.2" y="598.5" width="159.0" height="38.0" fill="#f34334"/>
<rect x="521.2" y="651" width="159.0" height="19" fill="#f34334"/>
<rect x="521.2" y="699.5" width="159.0" height="10.5" fill="#f34334"/>
<polyline points="519.2,596.2 526.0,597.1 532.3,596.3 539.3,595.7 545.8,596.5 553.8,595.6 559.3,595.6 567.4,596.6 571.6,597.2 580.4,596.6 587.5,595.7 591.5,596.4 595.8,595.7 601.0,595.5 607.4,596.2 615.6,596.3 622.8,596.3 630.1,596.2 635.5,597.2 644.5,596.9 652.0,596.0 657.1,595.9 661.5,596.8 667.5,596.9 673.4,597.1 681.7,595.4" fill="none" stroke="#d6d654" stroke-width="5.0" stroke-linejoin="round"/>
<polyline points="519.2,639.3 525.5,639.5 531.5,637.8 538.7,639.1 544.0,637.9 549.7,639.4 557.5,637.9 562.7,637.9 567.0,639.1 571.9,638.7 578.1,638.0 585.8,637.9 593.0,637.9 599.1,638.1 604.5,639.4 612.5,638.2 620.9,638.1 626.9,639.2 634.1,637.9 643.0,638.1 648.3,639.1 654.0,638.2 658.3,637.9 665.3,638.1 672.3,638.4 678.5,639.4" fill="none" stroke="#d6d654" stroke-width="5.2" stroke-linejoin="round"/>
<polyline points="519.2,648.7 527.5,648.0 532.3,649.3 540.4,648.1 545.3,649.0 554.0,648.1 562.8,649.3 569.8,648.5 574.3,647.8 583.1,648.1 590.7,648.2 598.8,648.8 604.3,648.0 611.9,647.8 617.0,648.7 625.3,648.8 630.7,649.4 635.7,647.7 641.0,648.5 645.3,648.0 651.2,648.7 655.8,648.4 664.3,649.5 671.6,648.9 678.5,648.0 682.7,647.7" fill="none" stroke="#d6d654" stroke-width="5.0" stroke-linejoin="round"/>
<polyline points="519.2,673.0 528.0,671.7 535.2,672.6 542.8,672.3 551.8,671.8 558.6,673.0 567.1,673.0 574.6,673.1 583.2,672.3 590.6,673.3 599.0,672.5 606.9,673.3 613.8,672.8 619.7,672.7 626.7,671.8 633.9,673.5 642.3,673.0 648.3,673.0 655.2,672.5 663.4,671.9 671.1,671.8 678.1,672.6" fill="none" stroke="#d6d654" stroke-width="6.8" stroke-linejoin="round"/>
<polyline points="519.2,697.2 525.7,697.0 534.3,696.4 538.3,696.4 545.7,696.3 550.6,697.5 557.9,696.7 566.3,696.5 573.7,696.3 579.8,697.4 588.4,697.5 594.3,696.9 599.9,696.1 606.4,697.4 614.6,697.2 623.4,696.4 628.2,696.7 633.6,696.3 639.7,697.0 646.1,696.5 654.3,697.7 660.6,696.0 664.8,697.5 669.0,697.2 675.8,696.5" fill="none" stroke="#d6d654" stroke-width="6.4" stroke-linejoin="round"/>
<polyline points="519.2,710.7 523.9,711.5 528.0,712.2 533.2,711.0 537.4,711.8 543.7,711.8 550.9,712.2 559.7,711.9 564.7,711.6 569.6,710.7 576.0,712.0 580.9,711.2 586.6,712.0 593.2,711.8 601.0,711.4 608.9,712.3 613.4,712.4 621.0,710.9 627.3,711.8 635.8,711.4 642.7,712.3 650.6,712.4 657.0,711.9 662.0,712.0 670.1,711.9 677.7,711.1" fill="none" stroke="#d6d654" stroke-width="4.6" stroke-linejoin="round"/>
<rect x="521.2" y="639.5" width="159.0" height="8.5" fill="#d6d654"/>
<line x1="522.2" y1="644.3" x2="545.9" y2="644.3" stroke="#700f0e" stroke-width="4.4"/>
<line x1="551.2" y1="644.2" x2="564.3" y2="644.6" stroke="#700f0e" stroke-width="4.4"/>
<line x1="568.0" y1="643.7" x2="577.3" y2="643.8" stroke="#700f0e" stroke-width="4.4"/>
<line x1="582.5" y1="643.3" x2="598.3" y2="643.7" stroke="#700f0e" stroke-width="4.4"/>
<line x1="601.0" y1="643.5" x2="621.8" y2="643.3" stroke="#700f0e" stroke-width="4.4"/>
<line x1="627.1" y1="643.4" x2="637.3" y2="643.5" stroke="#700f0e" stroke-width="4.4"/>
<line x1="642.4" y1="644.0" x2="663.8" y2="644.5" stroke="#700f0e" stroke-width="4.4"/>
<line x1="668.0" y1="643.4" x2="679.2" y2="643.1" stroke="#700f0e" stroke-width="4.4"/>
<line x1="564.5" y1="621.3" x2="572.0" y2="632.9" stroke="#d6d654" stroke-width="2.2" stroke-linecap="round"/>
<line x1="654.7" y1="615.9" x2="660.6" y2="625.0" stroke="#d6d654" stroke-width="2.1" stroke-linecap="round"/>
<line x1="655.0" y1="626.8" x2="660.4" y2="635.1" stroke="#d6d654" stroke-width="2.5" stroke-linecap="round"/>
<line x1="675.1" y1="614.8" x2="682.2" y2="625.8" stroke="#d6d654" stroke-width="2.0" stroke-linecap="round"/>
<line x1="604.6" y1="614.1" x2="611.9" y2="625.4" stroke="#d6d654" stroke-width="1.8" stroke-linecap="round"/>
<line x1="675.2" y1="614.5" x2="681.5" y2="624.2" stroke="#d6d654" stroke-width="2.4" stroke-linecap="round"/>
<line x1="608.9" y1="613.7" x2="616.7" y2="625.6" stroke="#d6d654" stroke-width="1.9" stroke-linecap="round"/>
<line x1="605.0" y1="611.2" x2="614.1" y2="625.2" stroke="#d6d654" stroke-width="2.5" stroke-linecap="round"/>
<line x1="561.1" y1="613.1" x2="566.1" y2="620.8" stroke="#d6d654" stroke-width="2.1" stroke-linecap="round"/>
<line x1="650.2" y1="626.8" x2="656.9" y2="637.1" stroke="#d6d654" stroke-width="2.1" stroke-linecap="round"/>
<line x1="548.4" y1="617.8" x2="557.3" y2="631.5" stroke="#d6d654" stroke-width="1.9" stroke-linecap="round"/>
<line x1="644.2" y1="598.7" x2="649.5" y2="606.9" stroke="#d6d654" stroke-width="2.0" stroke-linecap="round"/>
<line x1="629.2" y1="608.3" x2="635.3" y2="617.7" stroke="#d6d654" stroke-width="2.3" stroke-linecap="round"/>
<line x1="534.3" y1="621.4" x2="539.3" y2="629.0" stroke="#d6d654" stroke-width="2.2" stroke-linecap="round"/>
<line x1="558.0" y1="604.3" x2="565.0" y2="615.0" stroke="#d6d654" stroke-width="2.1" stroke-linecap="round"/>
<line x1="578.4" y1="611.2" x2="585.4" y2="621.9" stroke="#d6d654" stroke-width="1.9" stroke-linecap="round"/>
<line x1="550.5" y1="618.2" x2="558.0" y2="629.7" stroke="#d6d654" stroke-width="2.2" stroke-linecap="round"/>
<line x1="656.0" y1="617.6" x2="664.5" y2="630.8" stroke="#d6d654" stroke-width="2.0" stroke-linecap="round"/>
<line x1="637.9" y1="623.9" x2="646.7" y2="637.5" stroke="#d6d654" stroke-width="2.1" stroke-linecap="round"/>
<line x1="568.5" y1="627.5" x2="574.0" y2="635.9" stroke="#d6d654" stroke-width="2.6" stroke-linecap="round"/>
<line x1="661.9" y1="602.3" x2="667.4" y2="610.8" stroke="#d6d654" stroke-width="2.4" stroke-linecap="round"/>
<line x1="559.5" y1="601.1" x2="567.9" y2="614.1" stroke="#d6d654" stroke-width="2.1" stroke-linecap="round"/>
<line x1="646.0" y1="602.0" x2="652.3" y2="611.8" stroke="#d6d654" stroke-width="2.3" stroke-linecap="round"/>
<line x1="520.1" y1="604.4" x2="527.8" y2="616.3" stroke="#d6d654" stroke-width="2.5" stroke-linecap="round"/>
<line x1="675.0" y1="601.7" x2="681.9" y2="612.2" stroke="#d6d654" stroke-width="2.4" stroke-linecap="round"/>
<line x1="599.2" y1="619.9" x2="604.4" y2="628.1" stroke="#d6d654" stroke-width="1.9" stroke-linecap="round"/>
<line x1="534.5" y1="599.2" x2="541.6" y2="610.1" stroke="#d6d654" stroke-width="2.2" stroke-linecap="round"/>
<line x1="609.9" y1="602.7" x2="615.2" y2="610.8" stroke="#d6d654" stroke-width="2.0" stroke-linecap="round"/>
<line x1="654.2" y1="663.9" x2="656.1" y2="671.2" stroke="#d6d654" stroke-width="1.6" stroke-linecap="round"/>
<line x1="527.3" y1="663.4" x2="528.7" y2="668.5" stroke="#d6d654" stroke-width="2.0" stroke-linecap="round"/>
<line x1="570.5" y1="657.1" x2="571.9" y2="662.5" stroke="#d6d654" stroke-width="1.8" stroke-linecap="round"/>
<line x1="615.2" y1="651.2" x2="616.8" y2="657.5" stroke="#d6d654" stroke-width="2.1" stroke-linecap="round"/>
<line x1="546.7" y1="656.9" x2="548.5" y2="663.4" stroke="#d6d654" stroke-width="1.8" stroke-linecap="round"/>
<line x1="549.0" y1="653.1" x2="550.4" y2="658.5" stroke="#d6d654" stroke-width="1.5" stroke-linecap="round"/>
<line x1="662.8" y1="661.4" x2="664.5" y2="667.7" stroke="#d6d654" stroke-width="2.1" stroke-linecap="round"/>
<line x1="619.8" y1="656.3" x2="621.3" y2="662.1" stroke="#d6d654" stroke-width="1.9" stroke-linecap="round"/>
<line x1="677.4" y1="661.5" x2="678.5" y2="665.6" stroke="#d6d654" stroke-width="2.1" stroke-linecap="round"/>
<line x1="638.5" y1="661.1" x2="640.4" y2="667.9" stroke="#d6d654" stroke-width="1.8" stroke-linecap="round"/>
<line x1="663.3" y1="662.4" x2="665.0" y2="668.7" stroke="#d6d654" stroke-width="2.0" stroke-linecap="round"/>
<line x1="641.9" y1="656.3" x2="643.6" y2="662.7" stroke="#d6d654" stroke-width="1.5" stroke-linecap="round"/>
<line x1="572.9" y1="657.1" x2="573.7" y2="660.0" stroke="#d6d654" stroke-width="1.7" stroke-linecap="round"/>
<line x1="621.3" y1="659.1" x2="622.4" y2="663.1" stroke="#d6d654" stroke-width="2.2" stroke-linecap="round"/>
<line x1="625.8" y1="655.4" x2="627.4" y2="661.5" stroke="#d6d654" stroke-width="1.9" stroke-linecap="round"/>
<line x1="604.1" y1="656.1" x2="606.2" y2="663.8" stroke="#d6d654" stroke-width="1.9" stroke-linecap="round"/>
<line x1="631.5" y1="691.2" x2="642.4" y2="682.7" stroke="#d6d654" stroke-width="2.4" stroke-linecap="round"/>
<line x1="617.5" y1="690.8" x2="623.9" y2="685.9" stroke="#d6d654" stroke-width="2.8" stroke-linecap="round"/>
<line x1="525.4" y1="682.1" x2="532.5" y2="676.6" stroke="#d6d654" stroke-width="2.5" stroke-linecap="round"/>
<line x1="558.1" y1="693.5" x2="566.3" y2="687.1" stroke="#d6d654" stroke-width="2.9" stroke-linecap="round"/>
<line x1="674.8" y1="688.1" x2="685.8" y2="679.5" stroke="#d6d654" stroke-width="3.0" stroke-linecap="round"/>
<line x1="649.2" y1="680.2" x2="657.6" y2="673.6" stroke="#d6d654" stroke-width="3.2" stroke-linecap="round"/>
<line x1="524.6" y1="693.9" x2="530.3" y2="689.4" stroke="#d6d654" stroke-width="2.9" stroke-linecap="round"/>
<line x1="544.8" y1="686.9" x2="553.3" y2="680.2" stroke="#d6d654" stroke-width="2.5" stroke-linecap="round"/>
<line x1="671.3" y1="685.7" x2="679.3" y2="679.4" stroke="#d6d654" stroke-width="3.0" stroke-linecap="round"/>
<line x1="576.8" y1="683.6" x2="585.6" y2="676.7" stroke="#d6d654" stroke-width="3.0" stroke-linecap="round"/>
<line x1="563.4" y1="690.5" x2="570.0" y2="685.3" stroke="#d6d654" stroke-width="2.4" stroke-linecap="round"/>
<line x1="557.1" y1="679.7" x2="562.9" y2="675.2" stroke="#d6d654" stroke-width="3.2" stroke-linecap="round"/>
<line x1="580.8" y1="693.4" x2="590.2" y2="686.0" stroke="#d6d654" stroke-width="2.5" stroke-linecap="round"/>
<line x1="678.4" y1="694.1" x2="683.6" y2="690.1" stroke="#d6d654" stroke-width="3.3" stroke-linecap="round"/>
<line x1="587.2" y1="686.6" x2="598.1" y2="678.2" stroke="#d6d654" stroke-width="2.6" stroke-linecap="round"/>
<line x1="602.5" y1="694.0" x2="611.8" y2="686.7" stroke="#d6d654" stroke-width="2.9" stroke-linecap="round"/>
<line x1="676.7" y1="692.1" x2="685.3" y2="685.4" stroke="#d6d654" stroke-width="2.5" stroke-linecap="round"/>
<line x1="619.0" y1="686.3" x2="625.0" y2="681.6" stroke="#d6d654" stroke-width="2.5" stroke-linecap="round"/>
<line x1="603.3" y1="681.0" x2="610.8" y2="675.1" stroke="#d6d654" stroke-width="3.1" stroke-linecap="round"/>
<line x1="591.5" y1="683.2" x2="599.9" y2="676.6" stroke="#d6d654" stroke-width="2.8" stroke-linecap="round"/>
<line x1="644.0" y1="687.5" x2="655.0" y2="678.9" stroke="#d6d654" stroke-width="3.4" stroke-linecap="round"/>
<line x1="636.9" y1="682.8" x2="642.3" y2="678.6" stroke="#d6d654" stroke-width="3.3" stroke-linecap="round"/>
<line x1="645.0" y1="689.0" x2="652.0" y2="683.5" stroke="#d6d654" stroke-width="2.7" stroke-linecap="round"/>
<line x1="628.9" y1="688.0" x2="637.3" y2="681.4" stroke="#d6d654" stroke-width="3.0" stroke-linecap="round"/>
<line x1="640.0" y1="701.1" x2="640.6" y2="704.8" stroke="#d6d654" stroke-width="2.0" stroke-linecap="round"/>
<line x1="666.5" y1="705.3" x2="667.0" y2="708.3" stroke="#d6d654" stroke-width="1.5" stroke-linecap="round"/>
<line x1="561.4" y1="702.6" x2="562.2" y2="707.3" stroke="#d6d654" stroke-width="1.6" stroke-linecap="round"/>
<line x1="605.5" y1="700.4" x2="606.1" y2="703.6" stroke="#d6d654" stroke-width="1.8" stroke-linecap="round"/>
<line x1="607.0" y1="703.8" x2="607.7" y2="707.8" stroke="#d6d654" stroke-width="1.7" stroke-linecap="round"/>
<line x1="551.5" y1="702.1" x2="552.4" y2="707.2" stroke="#d6d654" stroke-width="1.9" stroke-linecap="round"/>
<line x1="529.3" y1="700.7" x2="530.3" y2="706.1" stroke="#d6d654" stroke-width="1.8" stroke-linecap="round"/>
<line x1="642.5" y1="701.3" x2="643.2" y2="705.5" stroke="#d6d654" stroke-width="1.6" stroke-linecap="round"/>
<line x1="649.2" y1="587.0" x2="654.3" y2="582.7" stroke="#d6d654" stroke-width="2.4" stroke-linecap="round"/>
<line x1="570.2" y1="588.4" x2="575.6" y2="583.9" stroke="#d6d654" stroke-width="2.4" stroke-linecap="round"/>
<line x1="586.9" y1="587.0" x2="590.3" y2="584.1" stroke="#d6d654" stroke-width="2.3" stroke-linecap="round"/>
<line x1="530.0" y1="584.7" x2="534.8" y2="580.6" stroke="#d6d654" stroke-width="2.1" stroke-linecap="round"/>
<line x1="628.9" y1="586.4" x2="634.3" y2="581.8" stroke="#d6d654" stroke-width="1.8" stroke-linecap="round"/>
<line x1="552.0" y1="589.3" x2="555.3" y2="586.5" stroke="#d6d654" stroke-width="2.0" stroke-linecap="round"/>
<line x1="635.4" y1="717.8" x2="636.7" y2="720.0" stroke="#d6d654" stroke-width="1.6" stroke-linecap="round"/>
<line x1="575.5" y1="717.9" x2="576.9" y2="720.3" stroke="#d6d654" stroke-width="1.6" stroke-linecap="round"/>
<line x1="632.8" y1="717.3" x2="634.7" y2="720.6" stroke="#d6d654" stroke-width="2.2" stroke-linecap="round"/>
<line x1="666.1" y1="716.8" x2="667.9" y2="719.9" stroke="#d6d654" stroke-width="1.7" stroke-linecap="round"/>
<line x1="569.0" y1="716.6" x2="570.9" y2="719.9" stroke="#d6d654" stroke-width="2.1" stroke-linecap="round"/>
<line x1="557.7" y1="716.4" x2="559.0" y2="718.8" stroke="#d6d654" stroke-width="1.8" stroke-linecap="round"/>
<line x1="581.7" y1="716.6" x2="582.9" y2="718.6" stroke="#d6d654" stroke-width="1.9" stroke-linecap="round"/>
<line x1="647.1" y1="717.2" x2="649.0" y2="720.3" stroke="#d6d654" stroke-width="1.9" stroke-linecap="round"/>
</g>
<g clip-path="url(#cpd1)">
<rect x="31.9" y="745.3" width="158.6" height="159.2" fill="#700f0e"/>
<g transform="translate(31,745) scale(0.116788)">
<rect x="0" y="0" width="685" height="685" fill="#700f0e"/>
<polygon points="0.0,0.0 100.0,0.0 110.0,40.0 60.0,60.0 20.0,70.0 0.0,60.0" fill="#a87d50"/>
<polygon points="160.0,20.0 260.0,20.0 290.0,50.0 240.0,90.0 180.0,90.0" fill="#a87d50"/>
<polygon points="0.0,140.0 60.0,130.0 80.0,170.0 40.0,190.0 0.0,180.0" fill="#e17323"/>
<polygon points="0.0,230.0 60.0,230.0 90.0,290.0 40.0,300.0 0.0,300.0" fill="#a87d50"/>
<polygon points="0.0,300.0 60.0,300.0 70.0,340.0 20.0,350.0 0.0,340.0" fill="#d6d654"/>
<polygon points="120.0,55.0 150.0,55.0 155.0,110.0 125.0,110.0" fill="#f34334"/>
<polygon points="190.0,200.0 260.0,150.0 330.0,140.0 380.0,100.0 380.0,20.0 480.0,10.0 500.0,60.0 480.0,140.0 430.0,200.0 420.0,270.0 330.0,290.0 250.0,290.0 190.0,270.0" fill="#f34334"/>
<polygon points="290.0,10.0 380.0,10.0 380.0,110.0 320.0,130.0 290.0,80.0" fill="#8228ff"/>
<polygon points="470.0,20.0 600.0,10.0 600.0,200.0 560.0,230.0 540.0,120.0 490.0,60.0" fill="#8228ff"/>
<polygon points="500.0,70.0 560.0,90.0 580.0,240.0 540.0,260.0 510.0,200.0" fill="#f34334"/>
<polygon points="590.0,10.0 685.0,10.0 685.0,270.0 640.0,280.0 600.0,250.0 600.0,150.0" fill="#a87d50"/>
<polygon points="590.0,140.0 660.0,150.0 680.0,180.0 620.0,190.0" fill="#e17323"/>
<polygon points="190.0,300.0 280.0,310.0 400.0,290.0 420.0,330.0 340.0,400.0 260.0,430.0 200.0,450.0 190.0,400.0" fill="#d6d654"/>
<polygon points="420.0,280.0 520.0,260.0 600.0,280.0 640.0,300.0 650.0,420.0 620.0,470.0 560.0,490.0 500.0,500.0 440.0,520.0 410.0,560.0 380.0,540.0 340.0,470.0 290.0,430.0 360.0,380.0 410.0,330.0" fill="#7a1228"/>
<polygon points="390.0,320.0 420.0,310.0 440.0,450.0 420.0,510.0 400.0,500.0 380.0,420.0" fill="#969b9b"/>
<polygon points="510.0,290.0 540.0,280.0 560.0,420.0 540.0,470.0 520.0,430.0" fill="#969b9b"/>
<polygon points="620.0,300.0 650.0,290.0 670.0,380.0 640.0,390.0" fill="#969b9b"/>
<polygon points="230.0,500.0 280.0,490.0 300.0,560.0 260.0,580.0" fill="#969b9b"/>
<polygon points="130.0,520.0 200.0,510.0 220.0,600.0 300.0,640.0 320.0,685.0 130.0,685.0" fill="#a87d50"/>
<polygon points="100.0,540.0 150.0,530.0 160.0,620.0 120.0,685.0 90.0,685.0 90.0,600.0" fill="#8228ff"/>
<polygon points="20.0,480.0 90.0,470.0 110.0,540.0 60.0,560.0 20.0,540.0" fill="#e17323"/>
<polygon points="0.0,600.0 40.0,600.0 50.0,685.0 0.0,685.0" fill="#8228ff"/>
<polygon points="520.0,500.0 600.0,480.0 685.0,460.0 685.0,560.0 620.0,580.0 540.0,570.0 510.0,540.0" fill="#f34334"/>
<polygon points="560.0,440.0 685.0,400.0 685.0,460.0 600.0,480.0 560.0,480.0" fill="#d6d654"/>
<polygon points="340.0,600.0 400.0,560.0 460.0,580.0 440.0,640.0 360.0,640.0" fill="#d6d654"/>
<polygon points="540.0,600.0 600.0,580.0 660.0,600.0 685.0,640.0 620.0,650.0 560.0,640.0" fill="#d6d654"/>
<polygon points="480.0,640.0 560.0,650.0 540.0,685.0 470.0,685.0" fill="#f34334"/>
<polygon points="60.0,330.0 120.0,320.0 130.0,360.0 70.0,370.0" fill="#d6d654"/>
<polygon points="120.0,300.0 180.0,290.0 190.0,340.0 130.0,350.0" fill="#e17323"/>
</g>
<g transform="translate(111,745) scale(0.116788)">
<rect x="0" y="0" width="685" height="685" fill="#a87d50"/>
<polygon points="180.0,10.0 420.0,10.0 440.0,60.0 380.0,90.0 300.0,100.0 240.0,110.0 200.0,90.0" fill="#f34334"/>
<polygon points="210.0,60.0 330.0,60.0 380.0,90.0 300.0,110.0 250.0,130.0 220.0,120.0" fill="#d6d654"/>
<polygon points="420.0,10.0 510.0,10.0 500.0,60.0 450.0,60.0" fill="#8228ff"/>
<polygon points="180.0,40.0 200.0,40.0 230.0,140.0 190.0,130.0" fill="#8228ff"/>
<polygon points="250.0,110.0 380.0,90.0 420.0,100.0 440.0,180.0 490.0,220.0 450.0,240.0 400.0,250.0 330.0,250.0 270.0,240.0 250.0,180.0" fill="#700f0e"/>
<polygon points="400.0,90.0 420.0,140.0 390.0,150.0" fill="#969b9b"/>
<polygon points="500.0,190.0 560.0,160.0 590.0,200.0 560.0,260.0 520.0,240.0" fill="#969b9b"/>
<polygon points="560.0,130.0 685.0,110.0 685.0,160.0 600.0,160.0" fill="#e17323"/>
<polygon points="270.0,250.0 480.0,220.0 500.0,240.0 430.0,270.0 330.0,270.0" fill="#d6d654"/>
<polygon points="250.0,270.0 330.0,255.0 420.0,250.0 480.0,240.0 500.0,280.0 500.0,380.0 470.0,420.0 400.0,440.0 330.0,470.0 290.0,470.0 260.0,420.0 240.0,350.0" fill="#f34334"/>
<polygon points="320.0,460.0 400.0,440.0 420.0,470.0 340.0,490.0" fill="#d6d654"/>
<polygon points="300.0,270.0 330.0,270.0 340.0,300.0 310.0,310.0" fill="#8228ff"/>
<polygon points="240.0,300.0 260.0,290.0 270.0,470.0 230.0,440.0 230.0,380.0" fill="#8228ff"/>
<polygon points="500.0,290.0 540.0,280.0 550.0,380.0 510.0,390.0" fill="#8228ff"/>
<polygon points="550.0,250.0 630.0,240.0 640.0,300.0 630.0,400.0 580.0,420.0 560.0,380.0" fill="#f34334"/>
<polygon points="620.0,250.0 640.0,260.0 650.0,380.0 630.0,400.0" fill="#8228ff"/>
<polygon points="60.0,160.0 250.0,160.0 250.0,220.0 130.0,200.0 60.0,170.0" fill="#e17323"/>
<polygon points="0.0,180.0 60.0,170.0 120.0,200.0 250.0,220.0 270.0,260.0 200.0,280.0 120.0,270.0 60.0,260.0 0.0,270.0" fill="#7a1228"/>
<polygon points="80.0,280.0 200.0,280.0 200.0,330.0 110.0,340.0" fill="#e17323"/>
<polygon points="0.0,310.0 80.0,290.0 120.0,320.0 100.0,370.0 30.0,390.0 0.0,390.0" fill="#7a1228"/>
<polygon points="0.0,10.0 50.0,10.0 50.0,200.0 0.0,200.0" fill="#f34334"/>
<polygon points="40.0,10.0 60.0,10.0 60.0,180.0 40.0,190.0" fill="#8228ff"/>
<polygon points="110.0,360.0 170.0,360.0 200.0,420.0 180.0,500.0 130.0,510.0 110.0,460.0" fill="#8228ff"/>
<polygon points="150.0,480.0 180.0,480.0 190.0,540.0 150.0,550.0" fill="#f34334"/>
<polygon points="80.0,510.0 160.0,510.0 170.0,560.0 90.0,560.0" fill="#d6d654"/>
<polygon points="0.0,420.0 50.0,420.0 60.0,480.0 0.0,520.0" fill="#f34334"/>
<polygon points="60.0,560.0 180.0,550.0 220.0,600.0 220.0,685.0 60.0,685.0" fill="#7a1228"/>
<polygon points="20.0,510.0 60.0,520.0 70.0,620.0 30.0,630.0" fill="#969b9b"/>
<polygon points="300.0,470.0 400.0,450.0 440.0,420.0 560.0,420.0 640.0,420.0 685.0,440.0 685.0,580.0 620.0,570.0 560.0,560.0 500.0,600.0 460.0,640.0 420.0,640.0 380.0,600.0 330.0,560.0 300.0,520.0" fill="#7a1228"/>
<polygon points="430.0,440.0 480.0,430.0 540.0,450.0 540.0,560.0 500.0,590.0 460.0,560.0 430.0,520.0" fill="#969b9b"/>
<polygon points="600.0,450.0 640.0,440.0 670.0,520.0 620.0,540.0" fill="#969b9b"/>
<polygon points="310.0,580.0 380.0,590.0 380.0,640.0 320.0,640.0" fill="#e17323"/>
<polygon points="400.0,600.0 460.0,640.0 440.0,685.0 380.0,685.0" fill="#e17323"/>
<polygon points="510.0,580.0 600.0,560.0 660.0,580.0 685.0,640.0 640.0,685.0 520.0,685.0" fill="#d6d654"/>
<polygon points="540.0,640.0 600.0,640.0 600.0,685.0 540.0,685.0" fill="#f34334"/>
</g>
<g transform="translate(31,825) scale(0.116788)">
<rect x="0" y="0" width="685" height="685" fill="#a87d50"/>
<polygon points="0.0,0.0 330.0,0.0 320.0,50.0 200.0,60.0 100.0,110.0 0.0,130.0" fill="#700f0e"/>
<polygon points="320.0,0.0 600.0,0.0 600.0,100.0 570.0,170.0 480.0,190.0 380.0,180.0 330.0,120.0" fill="#f34334"/>
<polygon points="370.0,170.0 560.0,180.0 560.0,210.0 400.0,220.0 370.0,200.0" fill="#d6d654"/>
<polygon points="600.0,0.0 685.0,0.0 685.0,120.0 640.0,130.0 590.0,170.0 580.0,120.0" fill="#8228ff"/>
<polygon points="600.0,130.0 685.0,120.0 685.0,220.0 620.0,230.0" fill="#e17323"/>
<polygon points="380.0,200.0 560.0,200.0 600.0,240.0 685.0,300.0 685.0,520.0 600.0,480.0 540.0,470.0 480.0,420.0 440.0,380.0 420.0,300.0" fill="#700f0e"/>
<polygon points="480.0,240.0 520.0,230.0 530.0,260.0 490.0,265.0" fill="#969b9b"/>
<polygon points="540.0,260.0 600.0,260.0 610.0,300.0 560.0,300.0" fill="#d6d654"/>
<polygon points="500.0,380.0 540.0,370.0 530.0,400.0" fill="#d6d654"/>
<polygon points="180.0,40.0 300.0,40.0 310.0,100.0 180.0,100.0" fill="#e17323"/>
<polygon points="250.0,60.0 330.0,40.0 370.0,180.0 300.0,200.0 270.0,150.0" fill="#8228ff"/>
<polygon points="60.0,120.0 160.0,90.0 170.0,200.0 120.0,250.0 60.0,230.0" fill="#f34334"/>
<polygon points="0.0,240.0 60.0,230.0 120.0,260.0 110.0,320.0 0.0,330.0" fill="#700f0e"/>
<polygon points="220.0,240.0 260.0,240.0 270.0,320.0 230.0,340.0" fill="#8228ff"/>
<polygon points="250.0,230.0 300.0,230.0 300.0,300.0 260.0,300.0" fill="#f34334"/>
<polygon points="300.0,320.0 420.0,320.0 440.0,400.0 400.0,420.0 320.0,410.0" fill="#7a1228"/>
<polygon points="260.0,380.0 340.0,380.0 360.0,430.0 280.0,440.0" fill="#e17323"/>
<polygon points="0.0,300.0 100.0,290.0 150.0,330.0 140.0,400.0 80.0,410.0 0.0,400.0" fill="#d6d654"/>
<polygon points="0.0,400.0 80.0,410.0 150.0,420.0 160.0,470.0 100.0,490.0 40.0,490.0 0.0,480.0" fill="#f34334"/>
<polygon points="0.0,380.0 40.0,390.0 40.0,460.0 0.0,470.0" fill="#8228ff"/>
<polygon points="400.0,440.0 480.0,430.0 500.0,480.0 460.0,540.0 400.0,540.0" fill="#8228ff"/>
<polygon points="0.0,500.0 200.0,510.0 220.0,560.0 300.0,580.0 380.0,560.0 440.0,600.0 480.0,640.0 685.0,620.0 685.0,685.0 0.0,685.0" fill="#700f0e"/>
<polygon points="60.0,480.0 160.0,490.0 180.0,540.0 100.0,560.0 60.0,530.0" fill="#d6d654"/>
<polygon points="290.0,470.0 380.0,470.0 390.0,520.0 300.0,520.0" fill="#e17323"/>
<polygon points="300.0,600.0 350.0,590.0 360.0,685.0 300.0,685.0" fill="#969b9b"/>
<polygon points="560.0,600.0 640.0,580.0 685.0,600.0 685.0,685.0 580.0,685.0" fill="#8228ff"/>
</g>
<g transform="translate(111,825) scale(0.116788)">
<rect x="0" y="0" width="685" height="685" fill="#a87d50"/>
<polygon points="100.0,0.0 330.0,0.0 340.0,60.0 250.0,80.0 180.0,80.0 120.0,60.0" fill="#700f0e"/>
<polygon points="100.0,0.0 140.0,0.0 190.0,80.0 250.0,180.0 220.0,200.0 160.0,120.0 110.0,60.0" fill="#969b9b"/>
<polygon points="250.0,130.0 360.0,110.0 420.0,120.0 480.0,150.0 560.0,200.0 580.0,260.0 540.0,300.0 480.0,330.0 420.0,350.0 340.0,360.0 270.0,340.0 260.0,260.0 200.0,200.0 210.0,150.0" fill="#7a1228"/>
<polygon points="190.0,80.0 280.0,60.0 350.0,70.0 360.0,110.0 280.0,120.0 200.0,130.0" fill="#d6d654"/>
<polygon points="280.0,70.0 320.0,70.0 320.0,95.0 280.0,95.0" fill="#f34334"/>
<polygon points="190.0,90.0 240.0,90.0 260.0,130.0 200.0,130.0" fill="#f34334"/>
<polygon points="380.0,70.0 480.0,60.0 520.0,100.0 560.0,130.0 560.0,200.0 500.0,180.0 440.0,140.0 380.0,130.0" fill="#e17323"/>
<polygon points="520.0,0.0 685.0,0.0 685.0,300.0 640.0,310.0 600.0,260.0 580.0,200.0 560.0,120.0 520.0,80.0" fill="#700f0e"/>
<polygon points="520.0,0.0 600.0,0.0 580.0,40.0 540.0,50.0" fill="#d6d654"/>
<polygon points="560.0,80.0 600.0,90.0 640.0,300.0 620.0,320.0 580.0,200.0" fill="#969b9b"/>
<polygon points="0.0,40.0 40.0,40.0 40.0,100.0 0.0,100.0" fill="#f34334"/>
<polygon points="0.0,120.0 60.0,130.0 60.0,180.0 0.0,190.0" fill="#969b9b"/>
<polygon points="20.0,180.0 80.0,180.0 80.0,220.0 20.0,220.0" fill="#d6d654"/>
<polygon points="0.0,220.0 60.0,220.0 60.0,330.0 0.0,340.0" fill="#8228ff"/>
<polygon points="10.0,270.0 40.0,270.0 40.0,350.0 10.0,350.0" fill="#f34334"/>
<polygon points="60.0,150.0 170.0,140.0 200.0,200.0 120.0,230.0 60.0,220.0" fill="#e17323"/>
<polygon points="60.0,340.0 200.0,330.0 300.0,360.0 420.0,350.0 480.0,380.0 440.0,400.0 350.0,400.0 260.0,420.0 180.0,430.0 100.0,420.0 60.0,380.0" fill="#e17323"/>
<polygon points="0.0,370.0 60.0,370.0 120.0,420.0 150.0,480.0 200.0,520.0 230.0,600.0 230.0,685.0 0.0,685.0" fill="#7a1228"/>
<polygon points="20.0,380.0 50.0,380.0 40.0,600.0 20.0,600.0" fill="#969b9b"/>
<polygon points="200.0,380.0 280.0,390.0 290.0,440.0 220.0,430.0" fill="#7a1228"/>
<polygon points="240.0,460.0 330.0,430.0 360.0,480.0 340.0,560.0 250.0,560.0" fill="#8228ff"/>
<polygon points="300.0,440.0 340.0,440.0 340.0,500.0 300.0,500.0" fill="#f34334"/>
<polygon points="460.0,400.0 520.0,380.0 560.0,430.0 560.0,685.0 460.0,685.0" fill="#8228ff"/>
<polygon points="500.0,400.0 560.0,400.0 570.0,480.0 560.0,600.0 500.0,685.0 470.0,685.0 480.0,500.0" fill="#f34334"/>
<polygon points="490.0,310.0 520.0,310.0 530.0,360.0 500.0,370.0" fill="#969b9b"/>
<polygon points="620.0,340.0 660.0,330.0 685.0,380.0 685.0,440.0 640.0,440.0" fill="#8228ff"/>
<polygon points="640.0,320.0 685.0,310.0 685.0,360.0 660.0,360.0" fill="#f34334"/>
<polygon points="580.0,560.0 685.0,540.0 685.0,685.0 580.0,685.0" fill="#700f0e"/>
<polygon points="120.0,490.0 190.0,490.0 190.0,560.0 130.0,560.0" fill="#969b9b"/>
<polygon points="200.0,600.0 340.0,600.0 340.0,685.0 200.0,685.0" fill="#7a1228"/>
</g>
</g>
<g clip-path="url(#cpd2)">
<rect x="195.7" y="745.5" width="159.2" height="159.0" fill="#700f0e"/>
<g transform="translate(195,745) scale(0.116788)">
<rect x="0" y="0" width="685" height="685" fill="#700f0e"/>
<polygon points="0.0,0.0 30.0,0.0 30.0,60.0 0.0,60.0" fill="#a87d50"/>
<polygon points="30.0,0.0 100.0,0.0 130.0,80.0 150.0,160.0 130.0,200.0 100.0,120.0 60.0,80.0" fill="#8228ff"/>
<polygon points="100.0,0.0 300.0,0.0 150.0,50.0 110.0,50.0" fill="#d6d654"/>
<polygon points="150.0,0.0 560.0,0.0 540.0,35.0 300.0,30.0 150.0,30.0" fill="#f34334"/>
<polygon points="560.0,0.0 685.0,0.0 685.0,20.0 560.0,25.0" fill="#d6d654"/>
<polygon points="130.0,40.0 400.0,20.0 540.0,40.0 560.0,80.0 520.0,110.0 420.0,90.0 300.0,70.0 200.0,80.0 150.0,70.0" fill="#700f0e"/>
<polygon points="150.0,80.0 300.0,80.0 420.0,100.0 500.0,110.0 560.0,100.0 685.0,80.0 685.0,170.0 560.0,180.0 430.0,190.0 300.0,200.0 200.0,190.0 150.0,150.0" fill="#f34334"/>
<polygon points="540.0,40.0 685.0,20.0 685.0,60.0 560.0,80.0" fill="#700f0e"/>
<polygon points="300.0,180.0 560.0,170.0 685.0,160.0 685.0,180.0 560.0,190.0 300.0,200.0" fill="#d6d654"/>
<polygon points="250.0,150.0 280.0,150.0 300.0,200.0 270.0,210.0" fill="#8228ff"/>
<polygon points="200.0,190.0 350.0,200.0 560.0,190.0 685.0,180.0 685.0,230.0 560.0,240.0 420.0,250.0 300.0,260.0 220.0,250.0" fill="#700f0e"/>
<polygon points="0.0,130.0 60.0,120.0 120.0,200.0 120.0,260.0 60.0,270.0 0.0,260.0" fill="#f34334"/>
<polygon points="0.0,260.0 60.0,250.0 100.0,280.0 60.0,300.0 0.0,300.0" fill="#d6d654"/>
<polygon points="100.0,260.0 220.0,250.0 300.0,260.0 420.0,250.0 550.0,240.0 685.0,230.0 685.0,340.0 560.0,350.0 450.0,370.0 350.0,400.0 300.0,400.0 230.0,370.0 180.0,360.0 100.0,320.0" fill="#f34334"/>
<polygon points="560.0,230.0 685.0,220.0 685.0,300.0 600.0,290.0 560.0,260.0" fill="#d6d654"/>
<polygon points="330.0,290.0 420.0,300.0 450.0,340.0 400.0,350.0" fill="#d6d654"/>
<polygon points="140.0,240.0 200.0,240.0 210.0,370.0 160.0,370.0" fill="#a87d50"/>
<polygon points="200.0,250.0 230.0,250.0 230.0,360.0 210.0,360.0" fill="#8228ff"/>
<polygon points="260.0,250.0 290.0,250.0 340.0,400.0 310.0,400.0" fill="#8228ff"/>
<polygon points="0.0,290.0 100.0,280.0 100.0,340.0 0.0,350.0" fill="#700f0e"/>
<polygon points="0.0,340.0 60.0,340.0 100.0,360.0 60.0,380.0 0.0,380.0" fill="#d6d654"/>
<polygon points="10.0,410.0 40.0,410.0 60.0,500.0 40.0,640.0 10.0,640.0" fill="#7a1228"/>
<polygon points="180.0,560.0 230.0,540.0 240.0,600.0 200.0,680.0 170.0,680.0" fill="#7a1228"/>
<polygon points="230.0,530.0 320.0,530.0 330.0,550.0 240.0,560.0" fill="#969b9b"/>
<polygon points="460.0,540.0 500.0,480.0 510.0,490.0 470.0,550.0" fill="#969b9b"/>
<polygon points="360.0,470.0 400.0,420.0 405.0,430.0 370.0,480.0" fill="#969b9b"/>
<polygon points="560.0,440.0 620.0,370.0 630.0,380.0 570.0,450.0" fill="#969b9b"/>
<polygon points="0.0,595.0 200.0,590.0 400.0,580.0 685.0,570.0 685.0,585.0 400.0,595.0 200.0,605.0 0.0,612.0" fill="#d6d654"/>
<polygon points="0.0,610.0 200.0,603.0 400.0,593.0 685.0,583.0 685.0,685.0 0.0,685.0" fill="#f34334"/>
<polygon points="0.0,640.0 100.0,630.0 150.0,685.0 0.0,685.0" fill="#d6d654"/>
</g>
<g transform="translate(275,745) scale(0.116788)">
<rect x="0" y="0" width="685" height="685" fill="#700f0e"/>
<polygon points="400.0,0.0 685.0,0.0 685.0,30.0 500.0,20.0" fill="#f34334"/>
<polygon points="0.0,52.0 300.0,85.0 685.0,115.0 685.0,125.0 300.0,95.0 0.0,62.0" fill="#d6d654"/>
<polygon points="0.0,60.0 100.0,70.0 200.0,90.0 300.0,100.0 400.0,120.0 500.0,135.0 600.0,125.0 685.0,125.0 685.0,200.0 600.0,190.0 500.0,190.0 400.0,170.0 300.0,165.0 200.0,155.0 100.0,160.0 0.0,170.0" fill="#f34334"/>
<polygon points="200.0,90.0 240.0,90.0 260.0,130.0 220.0,130.0" fill="#d6d654"/>
<polygon points="270.0,10.0 320.0,0.0 330.0,20.0 280.0,70.0" fill="#d6d654"/>
<polygon points="0.0,230.0 100.0,220.0 250.0,230.0 240.0,280.0 100.0,300.0 0.0,320.0" fill="#f34334"/>
<polygon points="0.0,240.0 40.0,230.0 60.0,300.0 0.0,320.0" fill="#d6d654"/>
<polygon points="100.0,330.0 250.0,290.0 280.0,300.0 120.0,350.0" fill="#d6d654"/>
<polygon points="250.0,260.0 400.0,270.0 520.0,300.0 600.0,330.0 685.0,340.0 685.0,420.0 600.0,420.0 500.0,400.0 400.0,390.0 300.0,380.0 200.0,390.0 100.0,410.0 20.0,420.0 20.0,390.0 100.0,370.0 200.0,350.0 250.0,330.0" fill="#f34334"/>
<polygon points="520.0,250.0 600.0,240.0 685.0,250.0 685.0,340.0 620.0,330.0 560.0,300.0" fill="#d6d654"/>
<polygon points="230.0,200.0 270.0,200.0 290.0,280.0 270.0,350.0 240.0,340.0 230.0,270.0" fill="#7a1228"/>
<polygon points="245.0,280.0 275.0,280.0 270.0,330.0 248.0,325.0" fill="#a87d50"/>
<polygon points="510.0,330.0 540.0,330.0 550.0,400.0 530.0,430.0 510.0,400.0" fill="#7a1228"/>
<polygon points="425.0,300.0 470.0,310.0 460.0,330.0 430.0,320.0" fill="#8228ff"/>
<polygon points="0.0,420.0 200.0,400.0 400.0,390.0 500.0,400.0 685.0,430.0 685.0,440.0 500.0,410.0 300.0,400.0 100.0,420.0 0.0,440.0" fill="#d6d654"/>
<polygon points="0.0,560.0 100.0,550.0 230.0,540.0 240.0,600.0 200.0,640.0 100.0,640.0 0.0,640.0" fill="#f34334"/>
<polygon points="0.0,555.0 100.0,545.0 235.0,535.0 235.0,548.0 100.0,560.0 0.0,568.0" fill="#d6d654"/>
<polygon points="440.0,540.0 500.0,520.0 510.0,535.0 450.0,555.0" fill="#d6d654"/>
<polygon points="460.0,460.0 560.0,440.0 570.0,460.0 470.0,480.0" fill="#d6d654"/>
<polygon points="180.0,580.0 230.0,560.0 230.0,685.0 170.0,685.0" fill="#7a1228"/>
<polygon points="230.0,635.0 685.0,615.0 685.0,628.0 230.0,648.0" fill="#d6d654"/>
<polygon points="230.0,645.0 685.0,625.0 685.0,685.0 230.0,685.0" fill="#f34334"/>
</g>
<g transform="translate(195,825) scale(0.116788)">
<rect x="0" y="0" width="685" height="685" fill="#700f0e"/>
<polygon points="280.0,0.0 685.0,0.0 685.0,40.0 500.0,50.0 300.0,50.0" fill="#f34334"/>
<polygon points="0.0,90.0 200.0,40.0 300.0,30.0 300.0,60.0 200.0,80.0 100.0,110.0 0.0,120.0" fill="#d6d654"/>
<polygon points="280.0,50.0 685.0,30.0 685.0,45.0 300.0,65.0" fill="#d6d654"/>
<polygon points="0.0,100.0 80.0,100.0 100.0,180.0 80.0,240.0 0.0,240.0" fill="#f34334"/>
<polygon points="90.0,140.0 150.0,150.0 160.0,220.0 100.0,260.0 90.0,220.0" fill="#a87d50"/>
<polygon points="100.0,180.0 320.0,200.0 330.0,240.0 240.0,280.0 100.0,280.0" fill="#f34334"/>
<polygon points="320.0,180.0 380.0,160.0 350.0,220.0" fill="#d6d654"/>
<polygon points="0.0,380.0 100.0,360.0 200.0,380.0 190.0,420.0 100.0,430.0 0.0,440.0" fill="#d6d654"/>
<polygon points="100.0,460.0 200.0,440.0 270.0,450.0 260.0,500.0 150.0,520.0 80.0,520.0" fill="#d6d654"/>
<polygon points="240.0,280.0 320.0,270.0 330.0,380.0 290.0,420.0 260.0,380.0" fill="#a87d50"/>
<polygon points="250.0,240.0 330.0,230.0 330.0,290.0 260.0,290.0" fill="#7a1228"/>
<polygon points="260.0,410.0 330.0,410.0 320.0,540.0 280.0,560.0 250.0,540.0" fill="#7a1228"/>
<polygon points="330.0,310.0 420.0,300.0 430.0,380.0 400.0,420.0 330.0,410.0" fill="#f34334"/>
<polygon points="400.0,290.0 520.0,270.0 590.0,270.0 520.0,310.0 440.0,330.0" fill="#d6d654"/>
<polygon points="400.0,380.0 460.0,370.0 480.0,440.0 460.0,500.0 420.0,490.0 400.0,430.0" fill="#7a1228"/>
<polygon points="560.0,220.0 685.0,160.0 685.0,190.0 580.0,250.0" fill="#d6d654"/>
<polygon points="460.0,440.0 685.0,430.0 685.0,455.0 470.0,465.0" fill="#d6d654"/>
<polygon points="470.0,460.0 685.0,450.0 685.0,580.0 470.0,580.0" fill="#f34334"/>
<polygon points="0.0,600.0 250.0,580.0 250.0,620.0 0.0,640.0" fill="#d6d654"/>
<polygon points="0.0,520.0 60.0,520.0 60.0,580.0 0.0,580.0" fill="#f34334"/>
<polygon points="250.0,620.0 685.0,600.0 685.0,685.0 250.0,685.0" fill="#f34334"/>
<polygon points="580.0,100.0 650.0,90.0 620.0,120.0" fill="#d6d654"/>
</g>
<g transform="translate(275,825) scale(0.116788)">
<rect x="0" y="0" width="685" height="685" fill="#700f0e"/>
<polygon points="200.0,0.0 450.0,0.0 440.0,30.0 200.0,22.0" fill="#f34334"/>
<polygon points="0.0,40.0 200.0,25.0 440.0,30.0 685.0,0.0 685.0,12.0 440.0,42.0 200.0,37.0 0.0,52.0" fill="#d6d654"/>
<polygon points="0.0,0.0 200.0,0.0 200.0,25.0 0.0,40.0" fill="#f34334"/>
<polygon points="60.0,40.0 180.0,0.0 190.0,40.0 130.0,120.0 80.0,250.0 60.0,320.0 40.0,310.0 30.0,200.0 50.0,120.0" fill="#7a1228"/>
<polygon points="130.0,130.0 400.0,120.0 560.0,110.0 685.0,100.0 685.0,200.0 560.0,210.0 420.0,230.0 300.0,200.0 200.0,180.0 130.0,180.0" fill="#f34334"/>
<polygon points="100.0,180.0 200.0,180.0 300.0,200.0 420.0,230.0 420.0,250.0 300.0,220.0 200.0,200.0 120.0,210.0" fill="#d6d654"/>
<polygon points="380.0,150.0 410.0,150.0 420.0,220.0 390.0,210.0" fill="#8228ff"/>
<polygon points="60.0,310.0 200.0,320.0 400.0,310.0 420.0,330.0 300.0,360.0 200.0,370.0 100.0,350.0" fill="#f34334"/>
<polygon points="220.0,330.0 420.0,300.0 430.0,320.0 240.0,370.0" fill="#d6d654"/>
<polygon points="360.0,420.0 520.0,350.0 530.0,370.0 370.0,440.0" fill="#d6d654"/>
<polygon points="270.0,410.0 290.0,410.0 280.0,470.0 265.0,470.0" fill="#969b9b"/>
<polygon points="0.0,445.0 300.0,465.0 500.0,445.0 685.0,425.0 685.0,437.0 500.0,457.0 300.0,477.0 0.0,457.0" fill="#d6d654"/>
<polygon points="0.0,455.0 300.0,475.0 500.0,455.0 685.0,435.0 685.0,685.0 0.0,685.0" fill="#f34334"/>
<polygon points="460.0,480.0 560.0,480.0 600.0,530.0 500.0,540.0" fill="#d6d654"/>
<polygon points="0.0,600.0 100.0,590.0 200.0,640.0 100.0,650.0 0.0,650.0" fill="#d6d654"/>
<polygon points="300.0,470.0 420.0,480.0 440.0,500.0 320.0,495.0" fill="#d6d654"/>
<polygon points="650.0,0.0 685.0,0.0 685.0,100.0 660.0,110.0" fill="#a87d50"/>
<polygon points="30.0,560.0 45.0,560.0 50.0,600.0 35.0,600.0" fill="#8228ff"/>
</g>
</g>
<g clip-path="url(#cpd3)">
<rect x="359.3" y="747.1" width="159.4" height="158.9" fill="#700f0e"/>
<g transform="translate(359,746) scale(0.116788)">
<rect x="0" y="0" width="685" height="685" fill="#700f0e"/>
<polygon points="0.0,0.0 685.0,0.0 685.0,30.0 0.0,30.0" fill="#f34334"/>
<polygon points="0.0,20.0 20.0,20.0 40.0,130.0 60.0,220.0 20.0,260.0 0.0,260.0" fill="#f34334"/>
<polygon points="0.0,130.0 20.0,130.0 20.0,180.0 0.0,180.0" fill="#d6d654"/>
<polygon points="0.0,240.0 60.0,230.0 60.0,280.0 0.0,290.0" fill="#d6d654"/>
<polygon points="90.0,20.0 180.0,15.0 180.0,50.0 110.0,50.0" fill="#d6d654"/>
<polygon points="120.0,50.0 250.0,30.0 400.0,40.0 520.0,60.0 540.0,90.0 480.0,110.0 350.0,100.0 250.0,90.0 160.0,100.0 120.0,80.0" fill="#700f0e"/>
<polygon points="560.0,20.0 685.0,10.0 685.0,60.0 580.0,70.0" fill="#700f0e"/>
<polygon points="250.0,90.0 350.0,100.0 480.0,110.0 540.0,100.0 540.0,125.0 420.0,125.0 300.0,120.0 250.0,110.0" fill="#d6d654"/>
<polygon points="560.0,60.0 685.0,50.0 685.0,75.0 570.0,80.0" fill="#d6d654"/>
<polygon points="180.0,110.0 300.0,120.0 420.0,125.0 540.0,100.0 600.0,80.0 685.0,70.0 685.0,310.0 600.0,330.0 500.0,350.0 400.0,360.0 300.0,380.0 240.0,380.0 200.0,300.0 180.0,200.0" fill="#f34334"/>
<polygon points="10.0,20.0 60.0,10.0 120.0,80.0 180.0,180.0 220.0,280.0 210.0,350.0 150.0,300.0 100.0,260.0 60.0,180.0 30.0,100.0" fill="#a87d50"/>
<polygon points="30.0,10.0 60.0,10.0 60.0,60.0 90.0,160.0 130.0,280.0 160.0,300.0 110.0,290.0 60.0,200.0 30.0,120.0" fill="#8228ff"/>
<polygon points="170.0,100.0 200.0,200.0 240.0,340.0 210.0,350.0 200.0,280.0 170.0,180.0" fill="#8228ff"/>
<polygon points="380.0,170.0 390.0,165.0 475.0,265.0 465.0,270.0" fill="#d6d654"/>
<polygon points="280.0,240.0 290.0,235.0 405.0,335.0 395.0,342.0" fill="#d6d654"/>
<polygon points="240.0,380.0 400.0,365.0 685.0,310.0 685.0,325.0 400.0,380.0 240.0,392.0" fill="#d6d654"/>
<polygon points="150.0,340.0 190.0,340.0 170.0,400.0 155.0,390.0" fill="#969b9b"/>
<polygon points="170.0,560.0 290.0,540.0 250.0,600.0 180.0,685.0 160.0,685.0" fill="#969b9b"/>
<polygon points="460.0,540.0 500.0,490.0 510.0,500.0 470.0,550.0" fill="#969b9b"/>
<polygon points="10.0,410.0 30.0,410.0 50.0,560.0 30.0,640.0 10.0,640.0" fill="#7a1228"/>
<polygon points="20.0,620.0 120.0,610.0 140.0,640.0 40.0,660.0" fill="#d6d654"/>
<polygon points="640.0,420.0 685.0,410.0 685.0,440.0 650.0,440.0" fill="#d6d654"/>
<polygon points="200.0,640.0 685.0,622.0 685.0,634.0 200.0,652.0" fill="#d6d654"/>
<polygon points="200.0,650.0 685.0,632.0 685.0,690.0 200.0,690.0" fill="#f34334"/>
</g>
<g transform="translate(439,746) scale(0.116788)">
<rect x="0" y="0" width="685" height="685" fill="#700f0e"/>
<polygon points="0.0,55.0 100.0,50.0 300.0,40.0 420.0,30.0 500.0,10.0 550.0,10.0 440.0,60.0 300.0,60.0 100.0,75.0 0.0,75.0" fill="#d6d654"/>
<polygon points="450.0,0.0 685.0,0.0 685.0,100.0 600.0,80.0 520.0,60.0" fill="#f34334"/>
<polygon points="0.0,75.0 200.0,70.0 400.0,60.0 520.0,80.0 600.0,110.0 685.0,120.0 685.0,220.0 600.0,210.0 500.0,180.0 400.0,190.0 300.0,220.0 200.0,260.0 100.0,270.0 0.0,280.0" fill="#f34334"/>
<polygon points="560.0,80.0 640.0,90.0 640.0,150.0 570.0,150.0" fill="#700f0e"/>
<polygon points="0.0,270.0 100.0,260.0 250.0,240.0 300.0,220.0 400.0,190.0 500.0,180.0 600.0,210.0 685.0,230.0 685.0,260.0 580.0,250.0 500.0,210.0 400.0,220.0 300.0,250.0 250.0,270.0 100.0,290.0 0.0,300.0" fill="#d6d654"/>
<polygon points="260.0,220.0 500.0,200.0 540.0,260.0 480.0,300.0 350.0,280.0 270.0,270.0" fill="#700f0e"/>
<polygon points="500.0,250.0 685.0,240.0 685.0,400.0 620.0,380.0 560.0,330.0" fill="#d6d654"/>
<polygon points="500.0,300.0 560.0,310.0 550.0,330.0 490.0,320.0" fill="#700f0e"/>
<polygon points="220.0,300.0 300.0,290.0 400.0,300.0 500.0,340.0 600.0,370.0 685.0,400.0 685.0,440.0 600.0,430.0 500.0,420.0 400.0,400.0 300.0,390.0 220.0,380.0" fill="#f34334"/>
<polygon points="440.0,330.0 500.0,340.0 520.0,410.0 460.0,390.0" fill="#8228ff"/>
<polygon points="230.0,250.0 270.0,250.0 280.0,320.0 250.0,350.0 230.0,320.0" fill="#7a1228"/>
<polygon points="230.0,220.0 250.0,220.0 255.0,245.0 235.0,245.0" fill="#8228ff"/>
<polygon points="0.0,390.0 100.0,380.0 230.0,380.0 300.0,390.0 400.0,400.0 500.0,420.0 600.0,430.0 685.0,440.0 685.0,460.0 500.0,440.0 300.0,410.0 100.0,420.0 0.0,440.0" fill="#d6d654"/>
<polygon points="0.0,410.0 80.0,405.0 150.0,415.0 120.0,435.0 0.0,438.0" fill="#f34334"/>
<polygon points="440.0,560.0 480.0,540.0 490.0,555.0 450.0,570.0" fill="#d6d654"/>
<polygon points="470.0,490.0 490.0,480.0 495.0,495.0" fill="#d6d654"/>
<polygon points="560.0,540.0 590.0,530.0 570.0,560.0" fill="#969b9b"/>
<polygon points="660.0,440.0 685.0,440.0 685.0,690.0 660.0,690.0" fill="#969b9b"/>
<polygon points="0.0,620.0 150.0,600.0 250.0,610.0 200.0,650.0 100.0,660.0 0.0,660.0" fill="#d6d654"/>
<polygon points="0.0,650.0 250.0,640.0 250.0,690.0 0.0,690.0" fill="#f34334"/>
<polygon points="190.0,640.0 240.0,630.0 230.0,690.0 200.0,690.0" fill="#969b9b"/>
</g>
<g transform="translate(359,826) scale(0.116788)">
<rect x="0" y="0" width="685" height="685" fill="#700f0e"/>
<polygon points="280.0,0.0 685.0,0.0 685.0,50.0 500.0,60.0 350.0,70.0 280.0,50.0" fill="#f34334"/>
<polygon points="0.0,60.0 150.0,30.0 280.0,0.0 300.0,50.0 200.0,90.0 100.0,100.0 0.0,110.0" fill="#d6d654"/>
<polygon points="280.0,60.0 500.0,55.0 685.0,40.0 685.0,55.0 500.0,70.0 300.0,80.0" fill="#d6d654"/>
<polygon points="0.0,90.0 90.0,90.0 100.0,200.0 0.0,210.0" fill="#f34334"/>
<polygon points="90.0,150.0 150.0,170.0 190.0,260.0 170.0,290.0 120.0,230.0" fill="#a87d50"/>
<polygon points="180.0,220.0 260.0,240.0 270.0,290.0 190.0,280.0" fill="#f34334"/>
<polygon points="260.0,250.0 300.0,270.0 320.0,380.0 290.0,360.0 270.0,300.0" fill="#a87d50"/>
<polygon points="170.0,220.0 190.0,220.0 195.0,280.0 175.0,270.0" fill="#8228ff"/>
<polygon points="250.0,250.0 270.0,250.0 270.0,280.0 255.0,280.0" fill="#8228ff"/>
<polygon points="290.0,280.0 570.0,280.0 580.0,300.0 450.0,300.0 320.0,300.0 300.0,320.0" fill="#d6d654"/>
<polygon points="310.0,300.0 450.0,290.0 460.0,340.0 430.0,380.0 340.0,390.0 320.0,360.0" fill="#f34334"/>
<polygon points="400.0,360.0 450.0,350.0 480.0,430.0 460.0,490.0 420.0,470.0 400.0,420.0" fill="#7a1228"/>
<polygon points="560.0,250.0 685.0,170.0 685.0,190.0 580.0,270.0" fill="#d6d654"/>
<polygon points="600.0,120.0 640.0,100.0 620.0,130.0" fill="#d6d654"/>
<polygon points="270.0,350.0 330.0,420.0 380.0,440.0 340.0,470.0 280.0,430.0" fill="#d6d654"/>
<polygon points="80.0,430.0 150.0,400.0 160.0,470.0 100.0,490.0 60.0,480.0" fill="#d6d654"/>
<polygon points="460.0,428.0 685.0,418.0 685.0,440.0 460.0,450.0" fill="#d6d654"/>
<polygon points="460.0,445.0 685.0,435.0 685.0,540.0 460.0,540.0" fill="#f34334"/>
<polygon points="0.0,560.0 200.0,560.0 400.0,575.0 685.0,575.0 685.0,595.0 400.0,595.0 200.0,580.0 0.0,590.0" fill="#d6d654"/>
<polygon points="0.0,588.0 200.0,578.0 400.0,593.0 685.0,593.0 685.0,690.0 0.0,690.0" fill="#f34334"/>
<polygon points="0.0,650.0 300.0,640.0 685.0,655.0 685.0,670.0 300.0,655.0 0.0,665.0" fill="#d6d654"/>
<polygon points="0.0,500.0 30.0,500.0 50.0,690.0 0.0,690.0" fill="#a87d50"/>
<polygon points="20.0,600.0 50.0,600.0 60.0,690.0 40.0,690.0" fill="#8228ff"/>
</g>
<g transform="translate(439,826) scale(0.116788)">
<rect x="0" y="0" width="685" height="685" fill="#700f0e"/>
<polygon points="0.0,0.0 150.0,0.0 100.0,50.0 0.0,60.0" fill="#f34334"/>
<polygon points="0.0,58.0 100.0,52.0 100.0,68.0 0.0,75.0" fill="#d6d654"/>
<polygon points="100.0,195.0 300.0,125.0 500.0,105.0 685.0,95.0 685.0,108.0 500.0,118.0 300.0,138.0 100.0,208.0" fill="#d6d654"/>
<polygon points="100.0,205.0 300.0,135.0 500.0,115.0 685.0,105.0 685.0,210.0 500.0,220.0 300.0,240.0 100.0,222.0" fill="#f34334"/>
<polygon points="100.0,220.0 300.0,238.0 500.0,218.0 685.0,208.0 685.0,220.0 500.0,230.0 300.0,250.0 100.0,232.0" fill="#d6d654"/>
<polygon points="30.0,250.0 90.0,100.0 160.0,30.0 200.0,0.0 220.0,0.0 180.0,80.0 120.0,180.0 80.0,220.0 40.0,270.0" fill="#969b9b"/>
<polygon points="80.0,120.0 150.0,40.0 180.0,60.0 130.0,170.0 90.0,190.0" fill="#7a1228"/>
<polygon points="80.0,220.0 120.0,220.0 120.0,260.0 80.0,260.0" fill="#d6d654"/>
<polygon points="440.0,300.0 530.0,220.0 545.0,230.0 455.0,300.0" fill="#969b9b"/>
<polygon points="630.0,90.0 660.0,0.0 685.0,0.0 685.0,30.0 650.0,100.0" fill="#969b9b"/>
<polygon points="0.0,438.0 300.0,452.0 685.0,450.0 685.0,462.0 300.0,466.0 0.0,452.0" fill="#d6d654"/>
<polygon points="0.0,450.0 300.0,464.0 685.0,460.0 685.0,640.0 300.0,640.0 0.0,600.0" fill="#f34334"/>
<polygon points="480.0,420.0 500.0,410.0 510.0,440.0 490.0,450.0" fill="#d6d654"/>
<polygon points="0.0,600.0 100.0,620.0 200.0,660.0 0.0,660.0" fill="#d6d654"/>
<polygon points="200.0,640.0 685.0,632.0 685.0,645.0 200.0,652.0" fill="#d6d654"/>
<polygon points="660.0,460.0 685.0,460.0 685.0,690.0 660.0,690.0" fill="#a87d50"/>
</g>
</g>
<g clip-path="url(#cpc1)">
<rect x="31.2" y="581" width="159.8" height="158.7" fill="#700f0e"/>
<g transform="translate(31,581) scale(0.116788)">
<rect x="0" y="0" width="685" height="685" fill="#a87d50"/>
<polygon points="0.0,0.0 130.0,0.0 130.0,60.0 100.0,80.0 0.0,80.0" fill="#7a1228"/>
<polygon points="0.0,70.0 100.0,60.0 110.0,90.0 0.0,100.0" fill="#e17323"/>
<polygon points="120.0,0.0 230.0,0.0 220.0,40.0 170.0,70.0 130.0,60.0" fill="#969b9b"/>
<polygon points="240.0,0.0 320.0,0.0 350.0,150.0 350.0,270.0 330.0,270.0 320.0,100.0 280.0,20.0" fill="#8228ff"/>
<polygon points="130.0,80.0 230.0,20.0 300.0,30.0 330.0,100.0 340.0,270.0 300.0,280.0 200.0,270.0 120.0,260.0 110.0,200.0" fill="#f34334"/>
<polygon points="110.0,120.0 140.0,90.0 150.0,170.0 120.0,240.0 105.0,230.0" fill="#8228ff"/>
<polygon points="200.0,60.0 250.0,30.0 260.0,70.0 210.0,90.0" fill="#d6d654"/>
<polygon points="110.0,260.0 200.0,270.0 330.0,270.0 360.0,290.0 330.0,310.0 200.0,300.0 150.0,340.0 120.0,320.0" fill="#d6d654"/>
<polygon points="180.0,290.0 350.0,285.0 370.0,360.0 360.0,390.0 250.0,400.0 200.0,400.0 170.0,360.0" fill="#700f0e"/>
<polygon points="200.0,390.0 360.0,380.0 380.0,420.0 300.0,430.0 210.0,420.0" fill="#d6d654"/>
<polygon points="340.0,280.0 430.0,290.0 440.0,330.0 380.0,350.0 360.0,320.0" fill="#e17323"/>
<polygon points="380.0,360.0 470.0,330.0 480.0,400.0 450.0,520.0 430.0,530.0 400.0,430.0" fill="#8228ff"/>
<polygon points="0.0,170.0 60.0,180.0 90.0,220.0 80.0,270.0 0.0,280.0" fill="#e17323"/>
<polygon points="200.0,420.0 400.0,400.0 430.0,530.0 400.0,560.0 350.0,560.0 330.0,600.0 250.0,600.0 150.0,620.0 100.0,640.0 60.0,620.0 30.0,600.0 60.0,570.0 150.0,540.0 180.0,480.0" fill="#f34334"/>
<polygon points="150.0,430.0 200.0,420.0 190.0,500.0 150.0,560.0 130.0,550.0" fill="#8228ff"/>
<polygon points="320.0,560.0 420.0,530.0 430.0,560.0 370.0,600.0 330.0,600.0" fill="#d6d654"/>
<polygon points="20.0,620.0 100.0,640.0 140.0,685.0 20.0,685.0" fill="#d6d654"/>
<polygon points="0.0,470.0 100.0,460.0 150.0,480.0 140.0,520.0 50.0,540.0 0.0,530.0" fill="#e17323"/>
<polygon points="0.0,470.0 40.0,480.0 70.0,550.0 40.0,600.0 0.0,600.0" fill="#969b9b"/>
<polygon points="430.0,520.0 520.0,510.0 600.0,520.0 685.0,510.0 685.0,550.0 600.0,550.0 500.0,545.0 440.0,550.0" fill="#e17323"/>
<polygon points="430.0,545.0 540.0,545.0 685.0,545.0 685.0,685.0 330.0,685.0 350.0,650.0 430.0,580.0" fill="#7a1228"/>
<polygon points="320.0,600.0 400.0,560.0 430.0,580.0 350.0,660.0 320.0,640.0" fill="#969b9b"/>
<polygon points="240.0,600.0 320.0,610.0 310.0,670.0 250.0,650.0" fill="#8228ff"/>
<polygon points="540.0,0.0 620.0,0.0 600.0,50.0 550.0,50.0" fill="#8228ff"/>
<polygon points="620.0,10.0 685.0,0.0 685.0,60.0 640.0,60.0" fill="#e17323"/>
<polygon points="150.0,620.0 250.0,600.0 300.0,640.0 280.0,685.0 150.0,685.0" fill="#f34334"/>
</g>
<g transform="translate(111,581) scale(0.116788)">
<rect x="0" y="0" width="685" height="685" fill="#a87d50"/>
<polygon points="0.0,0.0 150.0,0.0 160.0,40.0 0.0,50.0" fill="#7a1228"/>
<polygon points="150.0,0.0 460.0,0.0 440.0,30.0 300.0,20.0 180.0,30.0" fill="#700f0e"/>
<polygon points="440.0,0.0 685.0,0.0 685.0,100.0 600.0,110.0 560.0,60.0 460.0,40.0" fill="#7a1228"/>
<polygon points="440.0,0.0 520.0,0.0 490.0,40.0 450.0,50.0" fill="#969b9b"/>
<polygon points="640.0,0.0 685.0,0.0 670.0,60.0 650.0,80.0" fill="#969b9b"/>
<polygon points="0.0,40.0 150.0,40.0 160.0,60.0 0.0,70.0" fill="#e17323"/>
<polygon points="160.0,40.0 300.0,30.0 430.0,40.0 440.0,100.0 400.0,130.0 330.0,150.0 400.0,180.0 420.0,210.0 300.0,220.0 200.0,210.0 180.0,150.0 170.0,90.0" fill="#d6d654"/>
<polygon points="300.0,40.0 420.0,50.0 430.0,100.0 340.0,80.0 310.0,60.0" fill="#f34334"/>
<polygon points="330.0,130.0 400.0,120.0 410.0,200.0 340.0,180.0" fill="#700f0e"/>
<polygon points="150.0,60.0 180.0,60.0 200.0,200.0 190.0,350.0 150.0,450.0 100.0,560.0 80.0,570.0 120.0,450.0 160.0,350.0 170.0,200.0" fill="#8228ff"/>
<polygon points="200.0,210.0 420.0,210.0 430.0,400.0 440.0,580.0 380.0,570.0 300.0,580.0 200.0,600.0 180.0,560.0 160.0,450.0 180.0,350.0" fill="#f34334"/>
<polygon points="410.0,200.0 450.0,210.0 470.0,400.0 460.0,580.0 440.0,580.0 430.0,400.0" fill="#8228ff"/>
<polygon points="450.0,190.0 540.0,170.0 560.0,200.0 460.0,210.0" fill="#e17323"/>
<polygon points="540.0,190.0 580.0,180.0 600.0,300.0 630.0,450.0 620.0,490.0 580.0,440.0 560.0,300.0" fill="#8228ff"/>
<polygon points="580.0,110.0 685.0,100.0 685.0,500.0 630.0,490.0 600.0,300.0 590.0,200.0" fill="#f34334"/>
<polygon points="0.0,310.0 80.0,310.0 150.0,350.0 80.0,410.0 0.0,410.0" fill="#e17323"/>
<polygon points="0.0,520.0 60.0,530.0 70.0,580.0 0.0,580.0" fill="#e17323"/>
<polygon points="60.0,590.0 180.0,600.0 200.0,640.0 300.0,640.0 300.0,685.0 60.0,685.0" fill="#700f0e"/>
<polygon points="300.0,640.0 440.0,600.0 460.0,685.0 300.0,685.0" fill="#700f0e"/>
<polygon points="180.0,600.0 300.0,580.0 380.0,560.0 440.0,590.0 380.0,620.0 300.0,640.0 200.0,640.0" fill="#d6d654"/>
<polygon points="30.0,600.0 70.0,590.0 80.0,685.0 30.0,685.0" fill="#969b9b"/>
<polygon points="250.0,640.0 300.0,640.0 310.0,685.0 260.0,685.0" fill="#969b9b"/>
<polygon points="440.0,600.0 470.0,610.0 460.0,685.0 430.0,685.0" fill="#969b9b"/>
<polygon points="460.0,560.0 620.0,500.0 640.0,540.0 560.0,580.0 480.0,590.0" fill="#e17323"/>
<polygon points="480.0,590.0 685.0,520.0 685.0,685.0 470.0,685.0" fill="#7a1228"/>
</g>
<g transform="translate(31,661) scale(0.116788)">
<rect x="0" y="0" width="685" height="685" fill="#7a1228"/>
<polygon points="0.0,0.0 60.0,0.0 120.0,40.0 110.0,80.0 60.0,70.0 0.0,60.0" fill="#d6d654"/>
<polygon points="0.0,60.0 80.0,80.0 120.0,120.0 80.0,160.0 40.0,190.0 0.0,190.0" fill="#f34334"/>
<polygon points="60.0,0.0 240.0,0.0 220.0,60.0 180.0,120.0 150.0,130.0 110.0,80.0" fill="#700f0e"/>
<polygon points="240.0,0.0 320.0,0.0 320.0,20.0 240.0,25.0" fill="#e17323"/>
<polygon points="60.0,140.0 110.0,130.0 120.0,150.0 70.0,165.0" fill="#8228ff"/>
<polygon points="150.0,140.0 200.0,120.0 240.0,0.0 250.0,0.0 240.0,120.0 230.0,200.0 240.0,280.0 220.0,310.0 190.0,300.0 170.0,200.0" fill="#969b9b"/>
<polygon points="0.0,200.0 50.0,190.0 60.0,250.0 20.0,260.0 0.0,250.0" fill="#969b9b"/>
<polygon points="220.0,360.0 245.0,360.0 245.0,410.0 225.0,410.0" fill="#969b9b"/>
<polygon points="360.0,320.0 385.0,320.0 385.0,355.0 365.0,355.0" fill="#969b9b"/>
<polygon points="0.0,440.0 100.0,430.0 250.0,440.0 380.0,470.0 480.0,490.0 500.0,510.0 380.0,510.0 250.0,490.0 100.0,480.0 0.0,480.0" fill="#e17323"/>
<polygon points="0.0,480.0 100.0,480.0 250.0,490.0 380.0,510.0 500.0,520.0 540.0,540.0 540.0,685.0 0.0,685.0" fill="#a87d50"/>
<polygon points="0.0,600.0 250.0,620.0 260.0,660.0 0.0,650.0" fill="#e17323"/>
<polygon points="0.0,640.0 160.0,650.0 170.0,685.0 0.0,685.0" fill="#700f0e"/>
<polygon points="490.0,380.0 540.0,360.0 560.0,380.0 520.0,440.0 500.0,500.0 480.0,480.0" fill="#969b9b"/>
<polygon points="520.0,390.0 600.0,380.0 685.0,400.0 685.0,520.0 600.0,520.0 540.0,520.0 520.0,460.0" fill="#700f0e"/>
<polygon points="570.0,320.0 640.0,290.0 685.0,260.0 685.0,390.0 620.0,380.0 580.0,360.0" fill="#f34334"/>
<polygon points="560.0,360.0 640.0,380.0 685.0,370.0 685.0,420.0 600.0,410.0" fill="#d6d654"/>
<polygon points="540.0,520.0 640.0,500.0 685.0,510.0 685.0,560.0 580.0,570.0" fill="#d6d654"/>
<polygon points="580.0,560.0 685.0,550.0 685.0,685.0 580.0,685.0" fill="#f34334"/>
<polygon points="540.0,560.0 580.0,560.0 590.0,685.0 540.0,685.0" fill="#8228ff"/>
</g>
<g transform="translate(111,661) scale(0.116788)">
<rect x="0" y="0" width="685" height="685" fill="#700f0e"/>
<polygon points="60.0,0.0 250.0,0.0 250.0,60.0 200.0,170.0 130.0,200.0 60.0,250.0 0.0,250.0 0.0,230.0 20.0,200.0 50.0,100.0" fill="#7a1228"/>
<polygon points="0.0,0.0 60.0,0.0 50.0,100.0 20.0,200.0 0.0,230.0" fill="#969b9b"/>
<polygon points="130.0,200.0 200.0,180.0 220.0,200.0 180.0,320.0 190.0,420.0 170.0,430.0 150.0,320.0" fill="#969b9b"/>
<polygon points="210.0,100.0 250.0,90.0 250.0,140.0 220.0,160.0" fill="#969b9b"/>
<polygon points="260.0,0.0 320.0,0.0 340.0,60.0 300.0,80.0 280.0,70.0" fill="#969b9b"/>
<polygon points="320.0,0.0 520.0,0.0 540.0,60.0 480.0,100.0 440.0,160.0 420.0,220.0 410.0,300.0 380.0,340.0 360.0,300.0 350.0,220.0 340.0,130.0 330.0,80.0" fill="#969b9b"/>
<polygon points="360.0,170.0 410.0,160.0 420.0,300.0 380.0,340.0 360.0,300.0" fill="#7a1228"/>
<polygon points="520.0,0.0 685.0,0.0 685.0,120.0 620.0,110.0 560.0,80.0 540.0,40.0" fill="#e17323"/>
<polygon points="580.0,40.0 685.0,30.0 685.0,160.0 620.0,140.0 580.0,100.0" fill="#a87d50"/>
<polygon points="560.0,80.0 600.0,100.0 610.0,140.0 580.0,130.0" fill="#8228ff"/>
<polygon points="560.0,120.0 640.0,140.0 685.0,160.0 685.0,330.0 640.0,320.0 600.0,300.0 560.0,200.0" fill="#7a1228"/>
<polygon points="600.0,150.0 630.0,150.0 640.0,320.0 610.0,330.0" fill="#969b9b"/>
<polygon points="0.0,250.0 100.0,260.0 110.0,280.0 0.0,270.0" fill="#d6d654"/>
<polygon points="0.0,265.0 100.0,275.0 80.0,340.0 40.0,370.0 0.0,380.0" fill="#f34334"/>
<polygon points="80.0,280.0 130.0,290.0 160.0,380.0 100.0,370.0" fill="#e17323"/>
<polygon points="40.0,370.0 120.0,370.0 140.0,480.0 100.0,540.0 40.0,520.0" fill="#7a1228"/>
<polygon points="170.0,440.0 300.0,420.0 380.0,380.0 430.0,350.0 550.0,340.0 640.0,340.0 660.0,420.0 640.0,480.0 600.0,520.0 500.0,580.0 400.0,600.0 300.0,600.0 200.0,600.0 160.0,560.0" fill="#f34334"/>
<polygon points="160.0,490.0 300.0,430.0 380.0,390.0 380.0,420.0 300.0,460.0 180.0,500.0" fill="#d6d654"/>
<polygon points="430.0,340.0 640.0,335.0 640.0,355.0 450.0,370.0" fill="#d6d654"/>
<polygon points="380.0,360.0 430.0,350.0 420.0,390.0 390.0,390.0" fill="#8228ff"/>
<polygon points="640.0,340.0 660.0,350.0 670.0,460.0 640.0,480.0" fill="#8228ff"/>
<polygon points="160.0,600.0 300.0,600.0 400.0,600.0 500.0,580.0 480.0,640.0 300.0,650.0 170.0,640.0" fill="#d6d654"/>
<polygon points="0.0,520.0 140.0,520.0 140.0,545.0 0.0,560.0" fill="#e17323"/>
<polygon points="0.0,555.0 130.0,540.0 150.0,660.0 0.0,660.0" fill="#a87d50"/>
<polygon points="170.0,640.0 500.0,640.0 500.0,685.0 170.0,685.0" fill="#700f0e"/>
<polygon points="500.0,560.0 685.0,500.0 685.0,685.0 500.0,685.0" fill="#7a1228"/>
<polygon points="640.0,560.0 685.0,540.0 685.0,685.0 650.0,685.0" fill="#969b9b"/>
</g>
</g>
<g clip-path="url(#cpd4)">
<rect x="523" y="746.9" width="159.6" height="157.8" fill="#700f0e"/>
<g transform="translate(521,745) scale(0.116788)">
<rect x="0" y="0" width="685" height="685" fill="#d6d654"/>
<polygon points="0.0,18.0 25.0,18.0 30.0,60.0 0.0,70.0" fill="#f34334"/>
<polygon points="25.0,18.0 60.0,18.0 90.0,100.0 130.0,190.0 170.0,260.0 200.0,300.0 175.0,300.0 140.0,260.0 100.0,190.0 60.0,110.0 35.0,60.0" fill="#a87d50"/>
<polygon points="60.0,18.0 80.0,18.0 130.0,100.0 190.0,190.0 230.0,260.0 248.0,340.0 215.0,330.0 170.0,290.0 140.0,250.0 115.0,200.0 90.0,140.0" fill="#8228ff"/>
<polygon points="170.0,70.0 200.0,65.0 230.0,90.0 200.0,100.0 170.0,90.0" fill="#700f0e"/>
<polygon points="235.0,170.0 300.0,155.0 350.0,170.0 430.0,200.0 480.0,250.0 520.0,320.0 440.0,350.0 370.0,360.0 280.0,350.0 245.0,330.0 240.0,250.0" fill="#f34334"/>
<polygon points="290.0,240.0 320.0,230.0 380.0,320.0 350.0,330.0" fill="#d6d654"/>
<polygon points="520.0,135.0 600.0,120.0 610.0,135.0 530.0,150.0" fill="#f34334"/>
<polygon points="640.0,90.0 685.0,85.0 685.0,200.0 660.0,190.0 650.0,130.0" fill="#f34334"/>
<polygon points="500.0,270.0 560.0,260.0 570.0,280.0 510.0,290.0" fill="#f34334"/>
<polygon points="0.0,330.0 100.0,320.0 200.0,330.0 300.0,370.0 400.0,360.0 500.0,340.0 600.0,320.0 685.0,300.0 685.0,400.0 620.0,420.0 560.0,450.0 520.0,500.0 500.0,560.0 440.0,600.0 380.0,620.0 300.0,660.0 200.0,690.0 0.0,690.0" fill="#700f0e"/>
<polygon points="200.0,540.0 280.0,520.0 330.0,500.0 380.0,470.0 400.0,490.0 350.0,540.0 280.0,580.0 210.0,580.0" fill="#d6d654"/>
<polygon points="120.0,540.0 200.0,530.0 220.0,560.0 150.0,570.0" fill="#d6d654"/>
<polygon points="470.0,540.0 550.0,450.0 560.0,460.0 480.0,550.0" fill="#969b9b"/>
<polygon points="600.0,560.0 660.0,560.0 680.0,600.0 620.0,600.0" fill="#700f0e"/>
</g>
<g transform="translate(601,745) scale(0.116788)">
<rect x="0" y="0" width="685" height="685" fill="#d6d654"/>
<polygon points="470.0,15.0 685.0,15.0 685.0,80.0 650.0,70.0 600.0,50.0 520.0,30.0" fill="#f34334"/>
<polygon points="0.0,90.0 60.0,100.0 110.0,130.0 130.0,170.0 90.0,180.0 40.0,160.0 0.0,140.0" fill="#f34334"/>
<polygon points="150.0,125.0 210.0,110.0 220.0,125.0 170.0,140.0" fill="#f34334"/>
<polygon points="0.0,190.0 60.0,200.0 70.0,230.0 20.0,230.0 0.0,220.0" fill="#f34334"/>
<polygon points="70.0,240.0 130.0,200.0 200.0,190.0 250.0,210.0 260.0,240.0 200.0,240.0 120.0,250.0 80.0,260.0" fill="#f34334"/>
<polygon points="0.0,310.0 100.0,290.0 200.0,270.0 260.0,255.0 300.0,260.0 340.0,290.0 400.0,300.0 410.0,320.0 350.0,310.0 290.0,300.0 220.0,310.0 180.0,340.0 100.0,370.0 40.0,390.0 0.0,400.0" fill="#700f0e"/>
<polygon points="240.0,520.0 270.0,470.0 330.0,450.0 400.0,440.0 450.0,430.0 520.0,400.0 580.0,370.0 640.0,360.0 685.0,360.0 685.0,420.0 660.0,420.0 610.0,440.0 560.0,470.0 500.0,490.0 420.0,500.0 340.0,510.0 280.0,530.0" fill="#700f0e"/>
<polygon points="560.0,460.0 600.0,440.0 650.0,410.0 660.0,420.0 620.0,460.0 580.0,470.0" fill="#d6d654"/>
<polygon points="240.0,690.0 320.0,640.0 400.0,600.0 480.0,560.0 560.0,520.0 620.0,480.0 685.0,440.0 685.0,690.0" fill="#700f0e"/>
<polygon points="0.0,600.0 40.0,600.0 60.0,620.0 0.0,620.0" fill="#700f0e"/>
<polygon points="70.0,600.0 100.0,580.0 160.0,580.0 220.0,590.0 200.0,610.0 120.0,610.0 80.0,620.0" fill="#700f0e"/>
</g>
<g transform="translate(521,825) scale(0.116788)">
<rect x="0" y="0" width="685" height="685" fill="#d6d654"/>
<polygon points="0.0,0.0 300.0,0.0 230.0,30.0 100.0,60.0 0.0,70.0" fill="#700f0e"/>
<polygon points="130.0,130.0 230.0,110.0 290.0,120.0 230.0,150.0 150.0,160.0" fill="#700f0e"/>
<polygon points="300.0,110.0 400.0,80.0 500.0,70.0 520.0,80.0 440.0,130.0 360.0,160.0 300.0,160.0" fill="#700f0e"/>
<polygon points="0.0,230.0 60.0,230.0 150.0,220.0 220.0,200.0 300.0,180.0 320.0,190.0 250.0,240.0 200.0,270.0 130.0,300.0 100.0,360.0 60.0,390.0 20.0,380.0 0.0,370.0" fill="#700f0e"/>
<polygon points="0.0,400.0 40.0,410.0 50.0,450.0 0.0,460.0" fill="#700f0e"/>
<polygon points="240.0,400.0 280.0,400.0 290.0,430.0 250.0,430.0" fill="#700f0e"/>
<polygon points="300.0,390.0 360.0,360.0 420.0,340.0 460.0,350.0 420.0,380.0 400.0,420.0 380.0,460.0 340.0,480.0 300.0,450.0" fill="#700f0e"/>
<polygon points="420.0,330.0 520.0,300.0 600.0,260.0 685.0,230.0 685.0,320.0 600.0,350.0 520.0,400.0 460.0,450.0 400.0,500.0 380.0,490.0 420.0,420.0" fill="#700f0e"/>
<polygon points="400.0,500.0 460.0,440.0 540.0,360.0 590.0,300.0 600.0,330.0 540.0,420.0 470.0,480.0 420.0,510.0" fill="#969b9b"/>
<polygon points="620.0,240.0 685.0,200.0 685.0,290.0 640.0,300.0" fill="#969b9b"/>
<polygon points="440.0,460.0 540.0,450.0 685.0,460.0 685.0,540.0 600.0,540.0 520.0,520.0 450.0,500.0" fill="#f34334"/>
<polygon points="340.0,640.0 420.0,630.0 480.0,660.0 470.0,690.0 340.0,690.0" fill="#f34334"/>
<polygon points="0.0,560.0 30.0,560.0 50.0,690.0 0.0,690.0" fill="#a87d50"/>
<polygon points="10.0,620.0 40.0,620.0 50.0,690.0 10.0,690.0" fill="#8228ff"/>
<polygon points="140.0,180.0 170.0,170.0 200.0,280.0 180.0,290.0" fill="#7a1228"/>
</g>
<g transform="translate(601,825) scale(0.116788)">
<rect x="0" y="0" width="685" height="685" fill="#d6d654"/>
<polygon points="200.0,0.0 685.0,0.0 685.0,40.0 600.0,60.0 540.0,80.0 500.0,110.0 440.0,120.0 380.0,130.0 300.0,140.0 220.0,150.0 180.0,160.0 200.0,80.0" fill="#700f0e"/>
<polygon points="0.0,240.0 60.0,170.0 130.0,100.0 200.0,30.0 230.0,0.0 245.0,0.0 220.0,60.0 180.0,120.0 120.0,190.0 60.0,250.0 0.0,300.0" fill="#969b9b"/>
<polygon points="270.0,190.0 320.0,160.0 400.0,150.0 470.0,160.0 550.0,170.0 570.0,190.0 520.0,200.0 420.0,200.0 350.0,195.0" fill="#f34334"/>
<polygon points="0.0,330.0 80.0,325.0 110.0,350.0 100.0,430.0 60.0,440.0 0.0,440.0" fill="#700f0e"/>
<polygon points="120.0,360.0 200.0,350.0 260.0,330.0 330.0,300.0 400.0,265.0 480.0,235.0 560.0,210.0 600.0,225.0 550.0,260.0 500.0,295.0 450.0,330.0 400.0,370.0 350.0,410.0 300.0,440.0 220.0,445.0 140.0,440.0 110.0,420.0" fill="#700f0e"/>
<polygon points="350.0,410.0 420.0,425.0 500.0,445.0 560.0,440.0 600.0,420.0 640.0,380.0 685.0,350.0 685.0,470.0 620.0,480.0 560.0,490.0 480.0,480.0 400.0,470.0 350.0,450.0" fill="#700f0e"/>
<polygon points="580.0,290.0 640.0,260.0 685.0,250.0 685.0,340.0 640.0,340.0 600.0,320.0" fill="#700f0e"/>
<polygon points="80.0,280.0 130.0,275.0 160.0,290.0 120.0,300.0 90.0,300.0" fill="#700f0e"/>
<polygon points="0.0,460.0 100.0,460.0 200.0,480.0 300.0,500.0 400.0,510.0 500.0,520.0 600.0,530.0 685.0,540.0 685.0,690.0 400.0,690.0 300.0,660.0 200.0,640.0 100.0,620.0 0.0,600.0" fill="#f34334"/>
</g>
</g>
<text x="38.4" y="280.2" class="bl">b<tspan class="bsub" dx="0.8" dy="3.6"> </tspan><tspan dy="-3.6" dx="1.6" class="bit"> in-situ@</tspan> 25<tspan class="deg2">°C</tspan></text>
<path d="M800,0H520V1010Q360,870 150,800V1050Q270,1090 400,1190Q520,1290 560,1429H800Z" transform="translate(51.29,283.80) scale(0.00635,-0.00635)" fill="#000"/>
<text x="197.3" y="280.2" class="bl">b<tspan class="bsub" dx="0.8" dy="3.6">2</tspan><tspan dy="-3.6" dx="1.6" class="bit"> in-situ@</tspan> 280<tspan class="deg2">°C</tspan></text>
<text x="361.5" y="280.2" class="bl">b<tspan class="bsub" dx="0.8" dy="3.6">3</tspan><tspan dy="-3.6" dx="1.6" class="bit"> in-situ@</tspan> 400<tspan class="deg2">°C</tspan></text>
<text x="525.7" y="280.2" class="bl">b<tspan class="bsub" dx="0.8" dy="3.6">4</tspan><tspan dy="-3.6" dx="1.6" class="bit"> in-situ@</tspan> 25<tspan class="deg2">°C</tspan></text>
<text x="599.7" y="404.2" class="wl">Depoled</text>
<rect x="41.5" y="404" width="12.5" height="3" fill="#111" stroke="#d8d8d8" stroke-width="0.9"/>
<text x="42.5" y="403.4" style="font-size:5.5px;fill:#d0d0d0">2.2</text><text x="55.5" y="405" style="font-size:3.5px;fill:#d0d0d0">nm</text>
<rect x="204.7" y="404" width="12.5" height="3" fill="#111" stroke="#d8d8d8" stroke-width="0.9"/>
<text x="205.7" y="403.4" style="font-size:5.5px;fill:#d0d0d0">2.2</text><text x="218.7" y="405" style="font-size:3.5px;fill:#d0d0d0">nm</text>
<rect x="368.3" y="404" width="12.5" height="3" fill="#111" stroke="#d8d8d8" stroke-width="0.9"/>
<text x="369.3" y="403.4" style="font-size:5.5px;fill:#d0d0d0">2.2</text><text x="382.3" y="405" style="font-size:3.5px;fill:#d0d0d0">nm</text>
<rect x="530.7" y="404" width="12.5" height="3" fill="#111" stroke="#d8d8d8" stroke-width="0.9"/>
<text x="531.7" y="403.4" style="font-size:5.5px;fill:#d0d0d0">2.2</text><text x="544.7" y="405" style="font-size:3.5px;fill:#d0d0d0">nm</text>
<text x="36.89" y="441.9" class="wl" style="font-size:20.8px">c</text><text x="48.81" y="446.7"  style="font-size:14.2px;font-weight:bold;fill:#fff">5</text>
<text x="141.31" y="442.2"  style="font-size:20.4px;font-weight:bold;fill:#fff">37</text><circle cx="166.75" cy="431.60" r="2.0" fill="none" stroke="#fff" stroke-width="1.45"/><text transform="translate(170.55,442.2) scale(0.855,1)" class="wl" style="font-family:Liberation Serif,serif;font-weight:normal;font-size:21.3px" stroke="#fff" stroke-width="0.55">C</text>
<text x="37.39" y="568.6" class="wl" style="font-size:18.6px">Texture + Defect</text>
<text x="200.99" y="441.9" class="wl" style="font-size:20.8px">c</text><text x="212.83" y="446.7"  style="font-size:14.2px;font-weight:bold;fill:#fff">6</text>
<text x="294.30" y="442.4"  style="font-size:20.4px;font-weight:bold;fill:#fff"> 73</text><path d="M800,0H520V1010Q360,870 150,800V1050Q270,1090 400,1190Q520,1290 560,1429H800Z" transform="translate(294.30,442.40) scale(0.00996,-0.00996)" fill="#fff"/><circle cx="331.25" cy="431.80" r="2.0" fill="none" stroke="#fff" stroke-width="1.45"/><text transform="translate(335.05,442.4) scale(0.855,1)" class="wl" style="font-family:Liberation Serif,serif;font-weight:normal;font-size:21.3px" stroke="#fff" stroke-width="0.55">C</text>
<text x="201.49" y="568.6" class="wl" style="font-size:18.6px">Texture + Defect</text>
<text x="365.39" y="441.9" class="wl" style="font-size:20.8px">c</text><text x="377.14" y="446.7"  style="font-size:14.2px;font-weight:bold;fill:#fff">7</text>
<text x="458.26" y="442.4"  style="font-size:20.4px;font-weight:bold;fill:#fff"> 87</text><path d="M800,0H520V1010Q360,870 150,800V1050Q270,1090 400,1190Q520,1290 560,1429H800Z" transform="translate(458.26,442.40) scale(0.00996,-0.00996)" fill="#fff"/><circle cx="495.05" cy="431.80" r="2.0" fill="none" stroke="#fff" stroke-width="1.45"/><text transform="translate(498.85,442.4) scale(0.855,1)" class="wl" style="font-family:Liberation Serif,serif;font-weight:normal;font-size:21.3px" stroke="#fff" stroke-width="0.55">C</text>
<text x="365.89" y="568.6" class="wl" style="font-size:18.6px">Texture + Defect</text>
<text x="527.39" y="441.9" class="wl" style="font-size:20.8px">c</text><text x="539.30" y="446.7"  style="font-size:14.2px;font-weight:bold;fill:#fff">8</text>
<text x="619.26" y="442.4"  style="font-size:20.4px;font-weight:bold;fill:#fff">237</text><circle cx="656.05" cy="431.80" r="2.0" fill="none" stroke="#fff" stroke-width="1.45"/><text transform="translate(659.85,442.4) scale(0.855,1)" class="wl" style="font-family:Liberation Serif,serif;font-weight:normal;font-size:21.3px" stroke="#fff" stroke-width="0.55">C</text>
<text x="527.89" y="568.6" class="wl" style="font-size:18.6px">Texture + Defect</text>
<text x="36.69" y="604.1" class="wl" style="font-size:20.8px">c</text><text x="48.15" y="608.9"  style="font-size:14.2px;font-weight:bold;fill:#fff"> </text><path d="M800,0H520V1010Q360,870 150,800V1050Q270,1090 400,1190Q520,1290 560,1429H800Z" transform="translate(48.15,608.90) scale(0.00693,-0.00693)" fill="#fff"/>
<text x="157.54" y="603.7" class="wl" style="font-size:20.3px">RT</text>
<text x="35.69" y="735" class="wl" style="font-size:18.8px">Texture</text>
<text x="112.95" y="735" class="wl" style="font-size:18.8px">Unpoled</text>
<text x="199.79" y="604.1" class="wl" style="font-size:20.8px">c</text><text x="211.65" y="608.9"  style="font-size:14.2px;font-weight:bold;fill:#fff">2</text>
<text x="306.61" y="606.3"  style="font-size:20.4px;font-weight:bold;fill:#fff">37</text><circle cx="332.05" cy="595.70" r="2.0" fill="none" stroke="#fff" stroke-width="1.45"/><text transform="translate(335.85,606.3) scale(0.855,1)" class="wl" style="font-family:Liberation Serif,serif;font-weight:normal;font-size:21.3px" stroke="#fff" stroke-width="0.55">C</text>
<text x="198.79" y="735" class="wl" style="font-size:18.8px">Texture</text>
<text x="297.95" y="735" class="wl" style="font-size:18.8px">Poled</text>
<text x="363.89" y="604.1" class="wl" style="font-size:20.8px">c</text><text x="375.92" y="608.9"  style="font-size:14.2px;font-weight:bold;fill:#fff">3</text>
<text x="458.10" y="605.9"  style="font-size:20.4px;font-weight:bold;fill:#fff"> 73</text><path d="M800,0H520V1010Q360,870 150,800V1050Q270,1090 400,1190Q520,1290 560,1429H800Z" transform="translate(458.10,605.90) scale(0.00996,-0.00996)" fill="#fff"/><circle cx="495.05" cy="595.30" r="2.0" fill="none" stroke="#fff" stroke-width="1.45"/><text transform="translate(498.85,605.9) scale(0.855,1)" class="wl" style="font-family:Liberation Serif,serif;font-weight:normal;font-size:21.3px" stroke="#fff" stroke-width="0.55">C</text>
<text x="362.89" y="735" class="wl" style="font-size:18.8px">Texture</text>
<text x="461.55" y="735" class="wl" style="font-size:18.8px">Poled</text>
<text x="526.69" y="604.1" class="wl" style="font-size:20.8px">c</text><text x="538.83" y="608.9"  style="font-size:14.2px;font-weight:bold;fill:#fff">4</text>
<text x="621.16" y="604.8"  style="font-size:20.4px;font-weight:bold;fill:#fff">237</text><circle cx="657.95" cy="594.20" r="2.0" fill="none" stroke="#fff" stroke-width="1.45"/><text transform="translate(661.75,604.8) scale(0.855,1)" class="wl" style="font-family:Liberation Serif,serif;font-weight:normal;font-size:21.3px" stroke="#fff" stroke-width="0.55">C</text>
<text x="525.69" y="735" class="wl" style="font-size:18.8px">Texture</text>
<text x="624.85" y="735" class="wl" style="font-size:18.8px">Poled</text>
<text x="37.25" y="766.7" class="wl" style="font-size:20.8px">d</text><text x="49.09" y="771.5"  style="font-size:14.2px;font-weight:bold;fill:#fff"> </text><path d="M800,0H520V1010Q360,870 150,800V1050Q270,1090 400,1190Q520,1290 560,1429H800Z" transform="translate(49.09,771.50) scale(0.00693,-0.00693)" fill="#fff"/>
<text x="158.74" y="767.3" class="wl" style="font-size:20.3px">RT</text>
<text x="32.94" y="897.3" class="wl" style="font-size:18.8px">Random</text>
<text x="114.75" y="897.3" class="wl" style="font-size:18.8px">Unpoled</text>
<text x="201.05" y="766.7" class="wl" style="font-size:20.8px">d</text><text x="213.29" y="771.5"  style="font-size:14.2px;font-weight:bold;fill:#fff">2</text>
<text x="309.21" y="767.6"  style="font-size:20.4px;font-weight:bold;fill:#fff">37</text><circle cx="334.65" cy="757.00" r="2.0" fill="none" stroke="#fff" stroke-width="1.45"/><text transform="translate(338.45,767.6) scale(0.855,1)" class="wl" style="font-family:Liberation Serif,serif;font-weight:normal;font-size:21.3px" stroke="#fff" stroke-width="0.55">C</text>
<text x="200.24" y="897.3" class="wl" style="font-size:18.8px">Random</text>
<text x="298.45" y="897.3" class="wl" style="font-size:18.8px">Poled</text>
<text x="364.65" y="766.7" class="wl" style="font-size:20.8px">d</text><text x="377.06" y="771.5"  style="font-size:14.2px;font-weight:bold;fill:#fff">3</text>
<text x="459.10" y="767.1"  style="font-size:20.4px;font-weight:bold;fill:#fff"> 73</text><path d="M800,0H520V1010Q360,870 150,800V1050Q270,1090 400,1190Q520,1290 560,1429H800Z" transform="translate(459.10,767.10) scale(0.00996,-0.00996)" fill="#fff"/><circle cx="496.05" cy="756.50" r="2.0" fill="none" stroke="#fff" stroke-width="1.45"/><text transform="translate(499.85,767.1) scale(0.855,1)" class="wl" style="font-family:Liberation Serif,serif;font-weight:normal;font-size:21.3px" stroke="#fff" stroke-width="0.55">C</text>
<text x="364.14" y="897.3" class="wl" style="font-size:18.8px">Random</text>
<text x="460.95" y="897.3" class="wl" style="font-size:18.8px">Poled</text>
<text x="528.35" y="766.7" class="wl" style="font-size:20.8px">d</text><text x="540.87" y="771.5"  style="font-size:14.2px;font-weight:bold;fill:#fff">4</text>
<text x="623.96" y="767.6"  style="font-size:20.4px;font-weight:bold;fill:#fff">237</text><circle cx="660.75" cy="757.00" r="2.0" fill="none" stroke="#fff" stroke-width="1.45"/><text transform="translate(664.55,767.6) scale(0.855,1)" class="wl" style="font-family:Liberation Serif,serif;font-weight:normal;font-size:21.3px" stroke="#fff" stroke-width="0.55">C</text>
<text x="528.34" y="897.3" class="wl" style="font-size:18.8px">Random</text>
<text x="625.65" y="897.3" class="wl" style="font-size:18.8px">Poled</text>
</svg>
</body></html>
